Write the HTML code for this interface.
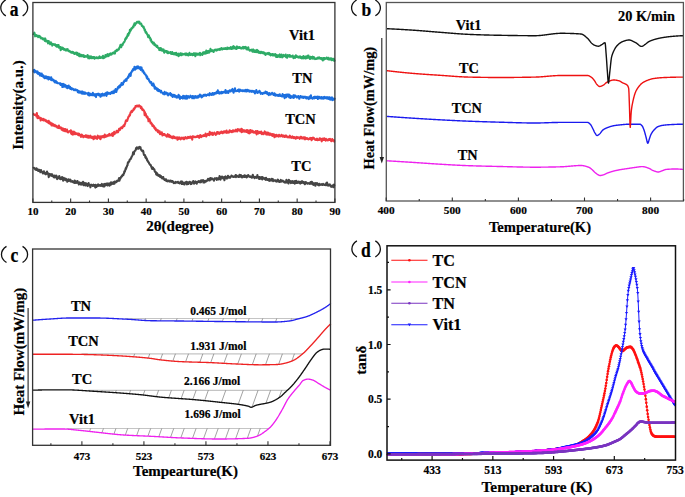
<!DOCTYPE html><html><head><meta charset="utf-8"><style>html,body{margin:0;padding:0;background:#fff;}svg{display:block}text{font-family:"Liberation Serif",serif;font-weight:bold;stroke:#000;stroke-width:0.2px}</style></head><body>
<svg width="685" height="497" viewBox="0 0 685 497">
<rect width="685" height="497" fill="#fff"/>
<g>
<polyline points="33,33.6 33.35,34.02 33.7,33.83 34.05,33.61 34.4,32.65 34.75,33.95 35.1,36.33 35.45,36 35.8,34.92 36.15,35.04 36.5,36.02 36.85,36.13 37.2,36.16 37.55,35.63 37.9,36.46 38.25,37.17 38.6,35.94 38.95,36.76 39.3,35.95 39.65,36.57 40,36.38 40.35,37.7 40.7,37.17 41.05,38.44 41.4,38.55 41.75,38.5 42.1,38.12 42.45,38.63 42.8,39.16 43.15,39.46 43.5,38.49 43.85,39.41 44.2,39.24 44.55,39.54 44.9,41.03 45.25,38.43 45.6,40.63 45.95,41.44 46.3,40.59 46.65,41.1 47,41.43 47.35,41.57 47.7,40.83 48.05,43.46 48.4,42.98 48.75,41.12 49.1,42.97 49.45,42.62 49.8,42.25 50.15,44.27 50.5,43.57 50.85,42.36 51.2,43.41 51.55,43.93 51.9,43.55 52.25,45.62 52.6,43.96 52.95,44.63 53.3,44.25 53.65,44.01 54,44.78 54.35,44.47 54.7,45.04 55.05,44.28 55.4,44.86 55.75,45.28 56.1,46.2 56.45,46.53 56.8,44.95 57.15,45.48 57.5,46.64 57.85,44.94 58.2,46.17 58.55,45.05 58.9,47.67 59.25,47.42 59.6,46.86 59.95,46.98 60.3,47.22 60.65,50.16 61,47.39 61.35,47.63 61.7,49.31 62.05,48.05 62.4,49.02 62.75,47.65 63.1,48.58 63.45,48.43 63.8,49.71 64.15,49.5 64.5,49.18 64.85,49.82 65.2,49.27 65.55,50.4 65.9,49.81 66.25,50.38 66.6,49.22 66.95,50.52 67.3,49.25 67.65,49.17 68,50.53 68.35,50.27 68.7,51.17 69.05,51.28 69.4,50.77 69.75,51.07 70.1,51.8 70.45,52.15 70.8,51.83 71.15,51.95 71.5,52.73 71.85,52.75 72.2,51.8 72.55,52.61 72.9,52.83 73.25,52.2 73.6,53.25 73.95,52.6 74.3,54.01 74.65,53.59 75,53.64 75.35,53.29 75.7,53.73 76.05,52.53 76.4,53.25 76.75,54.41 77.1,52.77 77.45,54.96 77.8,53.24 78.15,55.09 78.5,54.06 78.85,55.29 79.2,56.26 79.55,53.86 79.9,55.91 80.25,56.14 80.6,55.18 80.95,55.13 81.3,55.31 81.65,54.83 82,56.38 82.35,55.33 82.7,55.77 83.05,55.34 83.4,55.55 83.75,55.19 84.1,57.06 84.45,56.16 84.8,57.03 85.15,56.45 85.5,56.04 85.85,56.39 86.2,56.31 86.55,56.78 86.9,56.6 87.25,56.73 87.6,55.06 87.95,56.52 88.3,58.31 88.65,58 89,56.54 89.35,57.58 89.7,58.38 90.05,56.43 90.4,57.36 90.75,57.11 91.1,56.36 91.45,58.15 91.8,57.65 92.15,57.75 92.5,57.2 92.85,58.07 93.2,57.39 93.55,57.69 93.9,57.02 94.25,56.95 94.6,58.73 94.95,57.44 95.3,57.99 95.65,57.75 96,57.45 96.35,57.38 96.7,58.16 97.05,57.48 97.4,57.55 97.75,57.64 98.1,58.41 98.45,58.02 98.8,57.77 99.15,57.06 99.5,56.44 99.85,58.01 100.2,57.97 100.55,57.14 100.9,57.55 101.25,57.65 101.6,57.62 101.95,57.61 102.3,56.58 102.65,57.88 103,55.87 103.35,58.31 103.7,56.92 104.05,57.1 104.4,57.72 104.75,57.35 105.1,56.96 105.45,54.95 105.8,56.61 106.15,55.23 106.5,55.83 106.85,56.33 107.2,54.48 107.55,54.05 107.9,55.61 108.25,55.35 108.6,56.11 108.95,55.13 109.3,54.39 109.65,53.82 110,54.65 110.35,53.97 110.7,53.38 111.05,54.76 111.4,54.22 111.75,54.39 112.1,53.24 112.45,53.29 112.8,52.86 113.15,52.74 113.5,53.28 113.85,52.37 114.2,52.93 114.55,52.68 114.9,53.6 115.25,50.95 115.6,51.31 115.95,51.3 116.3,51.07 116.65,49.76 117,50.15 117.35,50.68 117.7,49.79 118.05,49.57 118.4,48.98 118.75,49.66 119.1,48.49 119.45,47.45 119.8,47.32 120.15,46.07 120.5,44.8 120.85,46.31 121.2,47.18 121.55,45.81 121.9,44.47 122.25,45.19 122.6,45.03 122.95,43.8 123.3,43.15 123.65,42.49 124,41.95 124.35,41.87 124.7,41.07 125.05,40.2 125.4,38.69 125.75,39.14 126.1,37.66 126.45,38.27 126.8,37.57 127.15,36.14 127.5,35.61 127.85,34.08 128.2,35.62 128.55,34.85 128.9,32.93 129.25,33.24 129.6,32.39 129.95,29.71 130.3,31.13 130.65,30.31 131,29.81 131.35,28.41 131.7,28.39 132.05,27.87 132.4,28.27 132.75,27.13 133.1,26.37 133.45,26.95 133.8,25.03 134.15,24.72 134.5,23.33 134.85,25.32 135.2,24.5 135.55,24.07 135.9,23.51 136.25,22.75 136.6,22.49 136.95,21.88 137.3,21.69 137.65,21.71 138,22.66 138.35,22.01 138.7,21.7 139.05,21.54 139.4,21.78 139.75,23.68 140.1,23.31 140.45,23.44 140.8,23.62 141.15,23.58 141.5,24.81 141.85,25.98 142.2,25.58 142.55,26.18 142.9,26.65 143.25,27.4 143.6,26.76 143.95,28.29 144.3,28.47 144.65,30.31 145,29.78 145.35,31.36 145.7,32.66 146.05,32 146.4,32.42 146.75,33.57 147.1,34 147.45,34.83 147.8,35.43 148.15,37.08 148.5,36.04 148.85,35.47 149.2,36.59 149.55,38.09 149.9,37.53 150.25,38.16 150.6,40.34 150.95,39.32 151.3,41.19 151.65,41.98 152,41.55 152.35,42.19 152.7,43.58 153.05,42.49 153.4,42.62 153.75,42.49 154.1,43.86 154.45,45.26 154.8,45.29 155.15,44.34 155.5,44.77 155.85,45.38 156.2,46.3 156.55,46.29 156.9,46.92 157.25,45.72 157.6,47.2 157.95,47.67 158.3,48.13 158.65,48.19 159,48.04 159.35,50.04 159.7,49.36 160.05,50.22 160.4,48.15 160.75,49.79 161.1,48.34 161.45,48.9 161.8,49.2 162.15,50.73 162.5,50.29 162.85,49.36 163.2,50.45 163.55,49.51 163.9,51.46 164.25,52.73 164.6,51.44 164.95,50.88 165.3,50.73 165.65,51.64 166,51.67 166.35,51.1 166.7,52.1 167.05,51.32 167.4,53 167.75,51.52 168.1,53.17 168.45,52.16 168.8,52.94 169.15,52.56 169.5,52.46 169.85,52.58 170.2,51.98 170.55,51.96 170.9,53.6 171.25,52.99 171.6,53.35 171.95,53.97 172.3,52.13 172.65,52.87 173,53.61 173.35,53.83 173.7,53.36 174.05,54.42 174.4,53.91 174.75,52.97 175.1,53.23 175.45,54.51 175.8,54.33 176.15,52.73 176.5,55.05 176.85,54.58 177.2,55.14 177.55,53.98 177.9,54.08 178.25,53.54 178.6,56.14 178.95,54.27 179.3,55.53 179.65,53.99 180,54.58 180.35,53.31 180.7,54.22 181.05,55.18 181.4,53.62 181.75,55.25 182.1,54.74 182.45,53.77 182.8,54.15 183.15,54.18 183.5,54.47 183.85,54.12 184.2,53.92 184.55,54.29 184.9,53.78 185.25,53.6 185.6,54.47 185.95,55.12 186.3,53.43 186.65,54.5 187,54.05 187.35,53.82 187.7,55.1 188.05,54.14 188.4,55.55 188.75,53.95 189.1,54.77 189.45,52.87 189.8,53.97 190.15,54.91 190.5,54.39 190.85,54.92 191.2,54.47 191.55,53.74 191.9,54.43 192.25,54.54 192.6,55.17 192.95,53.87 193.3,54.47 193.65,53.29 194,54.96 194.35,53.74 194.7,53.24 195.05,54.46 195.4,56.18 195.75,53.42 196.1,53.71 196.45,53.94 196.8,53.64 197.15,54.67 197.5,53.81 197.85,53.83 198.2,54.7 198.55,53.72 198.9,54.5 199.25,53.47 199.6,53.24 199.95,52.75 200.3,55.27 200.65,53.68 201,54 201.35,53.74 201.7,53.8 202.05,53.65 202.4,54.87 202.75,52.72 203.1,52.28 203.45,52.57 203.8,52.26 204.15,53.63 204.5,53.59 204.85,52.25 205.2,51.86 205.55,52.49 205.9,53.62 206.25,50.57 206.6,52.82 206.95,51.6 207.3,52.99 207.65,51.41 208,51.87 208.35,50.92 208.7,51.19 209.05,52.75 209.4,52.26 209.75,51.31 210.1,50.89 210.45,48.81 210.8,51.04 211.15,51.21 211.5,51.08 211.85,50.99 212.2,50.19 212.55,50.84 212.9,50.78 213.25,51.64 213.6,51.97 213.95,50.49 214.3,49.98 214.65,50.41 215,49.97 215.35,49.81 215.7,50.23 216.05,49.49 216.4,50.6 216.75,50.05 217.1,50.25 217.45,49.89 217.8,49.46 218.15,49.26 218.5,49.7 218.85,49.43 219.2,49.93 219.55,49.71 219.9,48.71 220.25,49.66 220.6,48.62 220.95,49.07 221.3,49.25 221.65,47.95 222,49.42 222.35,49.41 222.7,49.14 223.05,48.9 223.4,48.89 223.75,48.41 224.1,48.86 224.45,48.61 224.8,49.01 225.15,48.06 225.5,49.01 225.85,48.9 226.2,48.66 226.55,48.4 226.9,49.05 227.25,47.45 227.6,48.89 227.95,48.7 228.3,48.68 228.65,48.71 229,47.94 229.35,48.18 229.7,48.76 230.05,48.58 230.4,48.39 230.75,47.14 231.1,48.54 231.45,48.95 231.8,48.81 232.15,48.23 232.5,46.94 232.85,48.66 233.2,47.87 233.55,46.17 233.9,48.18 234.25,46.85 234.6,46.96 234.95,47.4 235.3,48.72 235.65,47.55 236,47.98 236.35,49 236.7,48.87 237.05,46.43 237.4,47.56 237.75,46.84 238.1,47.23 238.45,48.01 238.8,47.98 239.15,47.78 239.5,47.04 239.85,47.16 240.2,47.67 240.55,48.24 240.9,48.15 241.25,48.52 241.6,48.08 241.95,47.62 242.3,48.13 242.65,47.22 243,46.82 243.35,48.43 243.7,48.04 244.05,48.36 244.4,47.02 244.75,48.02 245.1,47.93 245.45,47.82 245.8,46.92 246.15,48.35 246.5,49.3 246.85,49.02 247.2,48.42 247.55,48.92 247.9,49.56 248.25,47.19 248.6,49.13 248.95,49.7 249.3,49.89 249.65,50.7 250,50.41 250.35,49.94 250.7,50.03 251.05,50.47 251.4,49.65 251.75,50.1 252.1,50.87 252.45,51.71 252.8,50.33 253.15,49.46 253.5,50.78 253.85,51.68 254.2,50.82 254.55,51.97 254.9,50.36 255.25,51 255.6,51.08 255.95,51.86 256.3,52.13 256.65,50.43 257,49.83 257.35,51.89 257.7,51.27 258.05,50.74 258.4,52.61 258.75,52.3 259.1,52.36 259.45,51.76 259.8,52.88 260.15,52.06 260.5,53.07 260.85,51.74 261.2,51.85 261.55,52.66 261.9,52.1 262.25,53.14 262.6,52.92 262.95,52.16 263.3,52.93 263.65,52.71 264,53.67 264.35,52.65 264.7,52.86 265.05,54.09 265.4,54.88 265.75,54.79 266.1,53.5 266.45,53.68 266.8,53.68 267.15,53.58 267.5,53.06 267.85,53.89 268.2,54.2 268.55,53.37 268.9,52.86 269.25,53.08 269.6,54.62 269.95,53.69 270.3,54.19 270.65,55.53 271,54.85 271.35,54.24 271.7,54.89 272.05,53.98 272.4,54.41 272.75,54.01 273.1,55.58 273.45,54.83 273.8,54.39 274.15,54.71 274.5,54.86 274.85,55.56 275.2,54.01 275.55,54.45 275.9,54.96 276.25,57.05 276.6,56 276.95,55.3 277.3,55.92 277.65,56.91 278,55.35 278.35,55.29 278.7,56.44 279.05,55.98 279.4,56.14 279.75,54.41 280.1,57.09 280.45,56.97 280.8,56.2 281.15,56.32 281.5,54.46 281.85,56.35 282.2,57.33 282.55,56.27 282.9,56.48 283.25,55.79 283.6,54.87 283.95,56.34 284.3,55.59 284.65,55.91 285,55.74 285.35,55.96 285.7,54.6 286.05,57.1 286.4,56.45 286.75,57.08 287.1,57.71 287.45,56.36 287.8,55.11 288.15,55.77 288.5,55.57 288.85,56.09 289.2,56.52 289.55,55.09 289.9,56.75 290.25,55.47 290.6,56.76 290.95,56.5 291.3,56.38 291.65,56.57 292,56.26 292.35,56.23 292.7,55.51 293.05,56.68 293.4,58.02 293.75,58.13 294.1,57.69 294.45,57.28 294.8,56.34 295.15,57.84 295.5,56.82 295.85,55.32 296.2,56.69 296.55,56.98 296.9,56.64 297.25,56.9 297.6,56.23 297.95,56.75 298.3,57.54 298.65,57 299,56.91 299.35,57.47 299.7,57.62 300.05,56.37 300.4,57.03 300.75,57.84 301.1,57.41 301.45,57.33 301.8,58.36 302.15,56.82 302.5,57.38 302.85,56.98 303.2,58.42 303.55,56.03 303.9,56.96 304.25,57.08 304.6,57.94 304.95,57.93 305.3,58.51 305.65,56.46 306,58.11 306.35,57.4 306.7,57.17 307.05,58.04 307.4,55.69 307.75,56.26 308.1,57.48 308.45,55.53 308.8,57.34 309.15,58.08 309.5,58.07 309.85,58.99 310.2,58.79 310.55,56.86 310.9,57.43 311.25,57.34 311.6,57.15 311.95,58.34 312.3,57.61 312.65,56.7 313,58.6 313.35,58.06 313.7,58.41 314.05,57.18 314.4,58.65 314.75,58.26 315.1,59.13 315.45,58.58 315.8,58.59 316.15,58.62 316.5,58.91 316.85,58.27 317.2,58.22 317.55,58.57 317.9,57.5 318.25,58.55 318.6,58.57 318.95,57.67 319.3,57.35 319.65,58.37 320,58.52 320.35,58.1 320.7,58.69 321.05,58.2 321.4,59.05 321.75,58.18 322.1,58.68 322.45,59.41 322.8,60.54 323.15,58.06 323.5,58.46 323.85,58.21 324.2,59.37 324.55,58.03 324.9,58.51 325.25,58.85 325.6,58.2 325.95,58.24 326.3,58.59 326.65,57.47 327,57.95 327.35,58.69 327.7,59.1 328.05,58.88 328.4,57.78 328.75,58.72 329.1,59.62 329.45,59.46 329.8,59.03 330.15,58.48 330.5,59.56 330.85,58.73 331.2,58.33 331.55,58.6 331.9,60.19 332.25,59.35 332.6,60.02 332.95,58.89 333.3,59.89 333.65,58.83 334,59.15 334.35,61.02 334.7,59.83" fill="none" stroke="#2eab66" stroke-width="2.1" stroke-linejoin="round"/>
<polyline points="33,70.32 33.35,70.22 33.7,71.71 34.05,70.5 34.4,69.91 34.75,72.32 35.1,71.27 35.45,71.75 35.8,71.16 36.15,71.39 36.5,71.69 36.85,72.42 37.2,73.11 37.55,71.42 37.9,73.73 38.25,72.55 38.6,72.81 38.95,74.2 39.3,73.85 39.65,73 40,75.54 40.35,73.82 40.7,74.77 41.05,74.91 41.4,75.93 41.75,73.56 42.1,75.99 42.45,74.93 42.8,76.41 43.15,75.26 43.5,75.71 43.85,77.46 44.2,76.52 44.55,76.54 44.9,78.2 45.25,77.05 45.6,76.39 45.95,77.64 46.3,76.47 46.65,78.25 47,78.47 47.35,77.39 47.7,77.51 48.05,76.95 48.4,79.41 48.75,77.75 49.1,79 49.45,77.33 49.8,78.62 50.15,78.8 50.5,79.05 50.85,79.62 51.2,77.21 51.55,80.13 51.9,79.76 52.25,79.58 52.6,79.24 52.95,79.53 53.3,80.77 53.65,80 54,80.87 54.35,81.73 54.7,81.86 55.05,82.39 55.4,81.24 55.75,80.85 56.1,82.47 56.45,82.13 56.8,82.86 57.15,82.23 57.5,83.21 57.85,83.12 58.2,83.18 58.55,83.19 58.9,83.26 59.25,83.3 59.6,83.45 59.95,84.13 60.3,83.23 60.65,84.95 61,83.81 61.35,84.73 61.7,84.12 62.05,84.16 62.4,87.02 62.75,84.42 63.1,83.89 63.45,84.44 63.8,84.86 64.15,86.75 64.5,84.49 64.85,86.2 65.2,84.99 65.55,86.1 65.9,86.47 66.25,87.42 66.6,85.82 66.95,86.88 67.3,88.24 67.65,86.05 68,86.91 68.35,86.89 68.7,85.59 69.05,87.79 69.4,87.9 69.75,87.37 70.1,86.88 70.45,89.01 70.8,88.3 71.15,88.97 71.5,89.39 71.85,88.19 72.2,89.26 72.55,88.67 72.9,88.93 73.25,89.05 73.6,89.25 73.95,90.16 74.3,89.6 74.65,89.54 75,89.59 75.35,90.15 75.7,89.41 76.05,89.81 76.4,90.24 76.75,90 77.1,90.43 77.45,90.2 77.8,92.15 78.15,91.78 78.5,91.28 78.85,91.03 79.2,92.72 79.55,91.52 79.9,91.35 80.25,91.74 80.6,91.86 80.95,92.75 81.3,91.86 81.65,93.46 82,91.49 82.35,92.72 82.7,91.65 83.05,93.74 83.4,92.35 83.75,92.66 84.1,93.46 84.45,93.81 84.8,92.26 85.15,92.91 85.5,93.76 85.85,93.46 86.2,93.4 86.55,93.33 86.9,93.2 87.25,93.51 87.6,93.35 87.95,94.34 88.3,95.12 88.65,92.79 89,94.14 89.35,95.51 89.7,94.72 90.05,93.78 90.4,94.41 90.75,93.85 91.1,95.12 91.45,94.75 91.8,94.62 92.15,95.03 92.5,94.63 92.85,92.81 93.2,95.28 93.55,95.08 93.9,94.79 94.25,94.63 94.6,95.75 94.95,94.13 95.3,94.35 95.65,95.97 96,97.05 96.35,94.36 96.7,94.04 97.05,94.41 97.4,94.49 97.75,93.72 98.1,94.83 98.45,93.89 98.8,93.92 99.15,95.39 99.5,94.25 99.85,94.65 100.2,95.12 100.55,96.79 100.9,94.39 101.25,94.62 101.6,93.98 101.95,95.75 102.3,94.95 102.65,93.68 103,94.42 103.35,94.88 103.7,94.68 104.05,95.58 104.4,95.22 104.75,93.83 105.1,94.1 105.45,93.22 105.8,94.25 106.15,92.83 106.5,95.86 106.85,93.99 107.2,92.4 107.55,93.34 107.9,93.83 108.25,92.82 108.6,93.03 108.95,93.32 109.3,93.76 109.65,93.34 110,92.77 110.35,93.88 110.7,92.88 111.05,92.82 111.4,92.09 111.75,92.37 112.1,93.22 112.45,91.46 112.8,92.35 113.15,92.69 113.5,91.7 113.85,93.19 114.2,90.68 114.55,92.11 114.9,91.69 115.25,90.79 115.6,89.1 115.95,90.35 116.3,91.98 116.65,90.58 117,89.26 117.35,89.59 117.7,87.96 118.05,86.97 118.4,87.71 118.75,87.67 119.1,85.97 119.45,87.36 119.8,87.3 120.15,85.24 120.5,84.77 120.85,85.62 121.2,84.57 121.55,83 121.9,84.85 122.25,84.01 122.6,83.17 122.95,84.58 123.3,82.78 123.65,81.74 124,81.92 124.35,80.69 124.7,80.45 125.05,80.81 125.4,80.96 125.75,79.35 126.1,80.39 126.45,80.72 126.8,78.89 127.15,78.26 127.5,77.79 127.85,78.03 128.2,76.56 128.55,77.44 128.9,75.05 129.25,75.12 129.6,73.88 129.95,74.15 130.3,74.27 130.65,75.89 131,72.48 131.35,72.47 131.7,71.73 132.05,71 132.4,70.23 132.75,70.67 133.1,69.01 133.45,69.91 133.8,69.5 134.15,68.71 134.5,66.74 134.85,67.68 135.2,69.7 135.55,67.19 135.9,68.98 136.25,68.08 136.6,67.2 136.95,66.47 137.3,67.87 137.65,68.26 138,66.35 138.35,66.81 138.7,67.82 139.05,67.45 139.4,68.78 139.75,67.2 140.1,68.23 140.45,67.25 140.8,69.9 141.15,68.25 141.5,67.56 141.85,69.36 142.2,69.7 142.55,71.49 142.9,70.28 143.25,70.95 143.6,71.87 143.95,73.1 144.3,72.53 144.65,73.91 145,74.17 145.35,74.23 145.7,75.13 146.05,75.71 146.4,75.65 146.75,77.72 147.1,76.43 147.45,78.73 147.8,79.09 148.15,78.86 148.5,78.89 148.85,79.77 149.2,80.75 149.55,81.43 149.9,81.59 150.25,82.55 150.6,81.93 150.95,82.93 151.3,82.11 151.65,84.16 152,85.25 152.35,84.14 152.7,85.62 153.05,85.66 153.4,83.57 153.75,85.94 154.1,85.25 154.45,87.37 154.8,88.72 155.15,86.96 155.5,88.73 155.85,87.81 156.2,88.56 156.55,89.07 156.9,89.83 157.25,88.53 157.6,90.61 157.95,89.13 158.3,90.23 158.65,91.1 159,91.02 159.35,90.08 159.7,90.45 160.05,90.81 160.4,91.29 160.75,92.31 161.1,90.78 161.45,92.18 161.8,92.45 162.15,92.58 162.5,92.67 162.85,93.56 163.2,92.99 163.55,93.4 163.9,93.33 164.25,94.33 164.6,91.88 164.95,94.24 165.3,93.29 165.65,93.4 166,93.03 166.35,92.52 166.7,93.68 167.05,93.57 167.4,94.51 167.75,93.24 168.1,95.38 168.45,94.66 168.8,94.4 169.15,94.17 169.5,94.22 169.85,94.08 170.2,93 170.55,95.07 170.9,95.04 171.25,95.52 171.6,94.16 171.95,94.84 172.3,95.68 172.65,96.97 173,96.2 173.35,95.64 173.7,94.81 174.05,95.05 174.4,94.95 174.75,96.73 175.1,95.77 175.45,95.53 175.8,96.04 176.15,96.62 176.5,97.61 176.85,96.22 177.2,96.53 177.55,96.26 177.9,97.5 178.25,96.22 178.6,94.76 178.95,96.07 179.3,96.09 179.65,97.44 180,98.94 180.35,96.47 180.7,97.85 181.05,97.37 181.4,97.91 181.75,97.01 182.1,97.04 182.45,96.71 182.8,98.55 183.15,95.86 183.5,97.46 183.85,97.42 184.2,98.03 184.55,96.17 184.9,97.78 185.25,98.6 185.6,97.45 185.95,97.63 186.3,95.71 186.65,98.16 187,98.71 187.35,97.8 187.7,97.81 188.05,96.1 188.4,96.99 188.75,96.5 189.1,96.64 189.45,97.72 189.8,96.46 190.15,96.92 190.5,95.66 190.85,96.87 191.2,97.03 191.55,96.46 191.9,96.44 192.25,98.25 192.6,96.06 192.95,96.16 193.3,96.31 193.65,97.7 194,98.32 194.35,97.06 194.7,96.31 195.05,96.5 195.4,97.52 195.75,96.12 196.1,97.75 196.45,97.7 196.8,96.72 197.15,97.09 197.5,97.13 197.85,97.65 198.2,95.79 198.55,97.31 198.9,96.17 199.25,95.85 199.6,96.41 199.95,94.55 200.3,95.54 200.65,95.06 201,95.46 201.35,97.08 201.7,97.37 202.05,96.39 202.4,96.7 202.75,95.45 203.1,95.69 203.45,95.87 203.8,94.85 204.15,94.84 204.5,95.53 204.85,95.17 205.2,94.58 205.55,95.52 205.9,94.99 206.25,95.82 206.6,95.03 206.95,94.74 207.3,94.97 207.65,94.69 208,94.26 208.35,94.38 208.7,95.11 209.05,94.96 209.4,95.34 209.75,93.18 210.1,94.02 210.45,93.93 210.8,94.27 211.15,93.76 211.5,94.91 211.85,94.49 212.2,94 212.55,92.99 212.9,94.67 213.25,94.37 213.6,94.64 213.95,94.13 214.3,92.98 214.65,94.22 215,93.23 215.35,92.76 215.7,93.01 216.05,92.68 216.4,93.31 216.75,91.74 217.1,93.1 217.45,92.63 217.8,90.41 218.15,92.99 218.5,91.54 218.85,92.99 219.2,93.55 219.55,92.9 219.9,92.38 220.25,92.48 220.6,92.45 220.95,93.51 221.3,92.03 221.65,91.74 222,93.16 222.35,92.26 222.7,92.89 223.05,91.99 223.4,92.16 223.75,91.94 224.1,92.33 224.45,92.53 224.8,92.06 225.15,91.37 225.5,90.05 225.85,92.9 226.2,91.49 226.55,91.43 226.9,92.61 227.25,92.29 227.6,91.86 227.95,91.15 228.3,93.03 228.65,91.61 229,91.67 229.35,91.13 229.7,90.21 230.05,90.22 230.4,91.4 230.75,91.35 231.1,90.86 231.45,90.17 231.8,89.95 232.15,90.69 232.5,88.92 232.85,90.12 233.2,91.62 233.55,92.76 233.9,91.37 234.25,90.31 234.6,90.09 234.95,88.25 235.3,90.23 235.65,90.5 236,91.28 236.35,91.01 236.7,90.98 237.05,90.7 237.4,91 237.75,90.07 238.1,89.77 238.45,90.19 238.8,89.53 239.15,91.63 239.5,91.41 239.85,91.03 240.2,89.67 240.55,90.63 240.9,90.35 241.25,90.58 241.6,90.4 241.95,90.91 242.3,90.28 242.65,91.17 243,90.76 243.35,90.41 243.7,90.55 244.05,90.35 244.4,91.25 244.75,90.51 245.1,90.93 245.45,90.48 245.8,89.74 246.15,91.45 246.5,90.1 246.85,91.35 247.2,91.2 247.55,89.78 247.9,90.31 248.25,90.65 248.6,90.47 248.95,90.25 249.3,91.64 249.65,90.99 250,91.47 250.35,90.93 250.7,91.49 251.05,90.79 251.4,91.34 251.75,91.81 252.1,91.47 252.45,91.16 252.8,90.76 253.15,91.68 253.5,91.85 253.85,91.47 254.2,91.16 254.55,92.12 254.9,93.52 255.25,91.61 255.6,92.1 255.95,92.17 256.3,90.15 256.65,92.07 257,91.53 257.35,93.04 257.7,91.93 258.05,91.61 258.4,92.04 258.75,92.34 259.1,91.88 259.45,90.7 259.8,91.4 260.15,92.24 260.5,92.98 260.85,93.87 261.2,93.03 261.55,92.77 261.9,93.46 262.25,93.39 262.6,93.9 262.95,93.54 263.3,92.75 263.65,93.07 264,93.07 264.35,93.21 264.7,93.19 265.05,92.56 265.4,91.69 265.75,92.75 266.1,91.86 266.45,93.38 266.8,93.39 267.15,92.27 267.5,93.98 267.85,94.17 268.2,93.69 268.55,94.84 268.9,95.04 269.25,92.95 269.6,94.58 269.95,94.22 270.3,94.26 270.65,94.68 271,93.58 271.35,93.72 271.7,93.62 272.05,92.8 272.4,93.35 272.75,93.35 273.1,93.68 273.45,94.88 273.8,94.48 274.15,94.85 274.5,93.31 274.85,94.13 275.2,95.65 275.55,94.81 275.9,94.42 276.25,95.53 276.6,94.89 276.95,94.99 277.3,95.03 277.65,95.56 278,94.78 278.35,95.94 278.7,95.51 279.05,95.34 279.4,95.3 279.75,94.21 280.1,96.05 280.45,96.04 280.8,95.68 281.15,96.06 281.5,95.57 281.85,96.4 282.2,95.53 282.55,94.14 282.9,96.56 283.25,95.73 283.6,94.87 283.95,95.58 284.3,95.14 284.65,98.12 285,96.17 285.35,94.76 285.7,96.27 286.05,95.64 286.4,97.29 286.75,95.24 287.1,94.44 287.45,96.09 287.8,95.83 288.15,95.81 288.5,94.63 288.85,96.46 289.2,97.36 289.55,94.88 289.9,97.07 290.25,95.88 290.6,97.95 290.95,96.64 291.3,96.23 291.65,97.16 292,96.78 292.35,97.32 292.7,96.97 293.05,96.14 293.4,95.27 293.75,97.97 294.1,95.31 294.45,96.17 294.8,96.86 295.15,95.55 295.5,95.72 295.85,96.34 296.2,96.35 296.55,96.79 296.9,97.55 297.25,96.46 297.6,97.15 297.95,97.25 298.3,96.09 298.65,97.03 299,97.84 299.35,98.75 299.7,97.26 300.05,96.97 300.4,96.04 300.75,97.08 301.1,96.48 301.45,97.53 301.8,96.97 302.15,96.5 302.5,97.74 302.85,97.61 303.2,96.71 303.55,97.96 303.9,96.95 304.25,96.96 304.6,97.28 304.95,96.68 305.3,96.92 305.65,97.13 306,98.33 306.35,98.32 306.7,97.11 307.05,98.43 307.4,97.29 307.75,97.6 308.1,97.97 308.45,97.57 308.8,99.07 309.15,97.56 309.5,96.57 309.85,98.33 310.2,96.28 310.55,97.23 310.9,95.37 311.25,98.17 311.6,98.06 311.95,98.06 312.3,98.2 312.65,98.71 313,97.51 313.35,98.21 313.7,97.05 314.05,97.33 314.4,98.33 314.75,97.88 315.1,96.69 315.45,97.89 315.8,97.52 316.15,97.09 316.5,97.98 316.85,97.41 317.2,96.6 317.55,96.94 317.9,98.97 318.25,96.68 318.6,97.91 318.95,98.2 319.3,98.23 319.65,96.94 320,97.59 320.35,97.93 320.7,98.4 321.05,97.41 321.4,97.06 321.75,97.16 322.1,98.68 322.45,98.18 322.8,97.51 323.15,97.2 323.5,98.04 323.85,98.57 324.2,97.12 324.55,96.96 324.9,97.92 325.25,97.27 325.6,98.21 325.95,98.1 326.3,97.81 326.65,98.39 327,97.13 327.35,98.1 327.7,98.46 328.05,98.37 328.4,98.94 328.75,97.37 329.1,97.17 329.45,98.41 329.8,98.57 330.15,99.76 330.5,98.72 330.85,97.69 331.2,98.88 331.55,97.75 331.9,97.31 332.25,100.2 332.6,98.61 332.95,98.9 333.3,98.81 333.65,99.7 334,98.65 334.35,99.32 334.7,97.77" fill="none" stroke="#1c6fdf" stroke-width="2.1" stroke-linejoin="round"/>
<polyline points="33,113.59 33.35,113.68 33.7,114.13 34.05,114.74 34.4,114.81 34.75,115.05 35.1,115.04 35.45,114.61 35.8,115.18 36.15,114.92 36.5,116.5 36.85,113.06 37.2,116.08 37.55,118.11 37.9,116.41 38.25,116.07 38.6,117.06 38.95,118.19 39.3,117.38 39.65,118.13 40,117.97 40.35,117.85 40.7,120.52 41.05,118.56 41.4,118.34 41.75,118.57 42.1,119.38 42.45,119.6 42.8,120.05 43.15,119.8 43.5,118.89 43.85,120.46 44.2,120.06 44.55,120.27 44.9,119.62 45.25,120.44 45.6,120.52 45.95,121.19 46.3,120.38 46.65,121.62 47,121.85 47.35,121.16 47.7,121.69 48.05,121.71 48.4,123.12 48.75,120.89 49.1,122.6 49.45,121.86 49.8,122.9 50.15,123.97 50.5,124.16 50.85,122.86 51.2,123.31 51.55,125.43 51.9,124.88 52.25,125.2 52.6,123.66 52.95,123.99 53.3,125.68 53.65,124.96 54,125.08 54.35,125.66 54.7,124.71 55.05,126.3 55.4,125.93 55.75,126.42 56.1,125.77 56.45,126.76 56.8,126.07 57.15,127.38 57.5,127.66 57.85,127.67 58.2,127.54 58.55,127.78 58.9,125.59 59.25,128.22 59.6,127.59 59.95,128 60.3,127.88 60.65,127.25 61,127.99 61.35,128.97 61.7,129.64 62.05,128.35 62.4,128.29 62.75,130.07 63.1,128.58 63.45,130.78 63.8,130.41 64.15,128.98 64.5,130.42 64.85,131.05 65.2,128.99 65.55,131.21 65.9,130.06 66.25,131.42 66.6,130.25 66.95,129.54 67.3,131.12 67.65,131.54 68,132.49 68.35,132.35 68.7,131.76 69.05,131.23 69.4,131.15 69.75,131.43 70.1,131.17 70.45,131.68 70.8,130.21 71.15,133.54 71.5,130.96 71.85,134.14 72.2,132.99 72.55,132.23 72.9,134.6 73.25,131.93 73.6,132.48 73.95,131.7 74.3,134.12 74.65,133.64 75,132.51 75.35,133.39 75.7,134.2 76.05,133.98 76.4,134 76.75,133.23 77.1,133.48 77.45,134.09 77.8,134.76 78.15,133.63 78.5,133.51 78.85,135.19 79.2,133.82 79.55,134.4 79.9,134.83 80.25,135.37 80.6,136.06 80.95,136.86 81.3,135.58 81.65,134.49 82,134.74 82.35,135.77 82.7,136.49 83.05,136.49 83.4,137.23 83.75,135.92 84.1,135.94 84.45,136.6 84.8,136 85.15,136.04 85.5,135.44 85.85,136.96 86.2,135.6 86.55,136.8 86.9,135.53 87.25,137.38 87.6,135.97 87.95,137.36 88.3,135.74 88.65,136.62 89,137.82 89.35,136.5 89.7,137.18 90.05,136.86 90.4,135.64 90.75,137.53 91.1,137.68 91.45,136.65 91.8,137.87 92.15,136.96 92.5,136.85 92.85,137.59 93.2,137.14 93.55,139.25 93.9,136.58 94.25,138.2 94.6,138.38 94.95,136.31 95.3,136.49 95.65,138.09 96,137.35 96.35,137.95 96.7,138.46 97.05,138.94 97.4,136.87 97.75,135.68 98.1,137.7 98.45,136.88 98.8,137.71 99.15,137.61 99.5,136.43 99.85,138.56 100.2,138.06 100.55,139.24 100.9,136.36 101.25,137.73 101.6,136.68 101.95,136.71 102.3,136.14 102.65,137.16 103,136.94 103.35,136.04 103.7,136.27 104.05,137.45 104.4,136.59 104.75,134.46 105.1,135.84 105.45,136.15 105.8,136.78 106.15,135.8 106.5,135.74 106.85,135.35 107.2,136.18 107.55,135.3 107.9,135.09 108.25,134.89 108.6,135.7 108.95,134.83 109.3,133.92 109.65,135.42 110,134.38 110.35,135.02 110.7,134.92 111.05,135.39 111.4,135.16 111.75,133.92 112.1,134.08 112.45,133.16 112.8,135.97 113.15,134.09 113.5,134.6 113.85,133.24 114.2,131.86 114.55,134.19 114.9,133 115.25,132.83 115.6,132.58 115.95,132.78 116.3,132.49 116.65,130.78 117,132.42 117.35,131.05 117.7,130.85 118.05,132.14 118.4,131.31 118.75,130.16 119.1,128.83 119.45,129.96 119.8,129.93 120.15,129.2 120.5,128.09 120.85,128.1 121.2,127.46 121.55,128.16 121.9,128.26 122.25,128.06 122.6,126.48 122.95,126.76 123.3,126.54 123.65,125.31 124,125.05 124.35,126.08 124.7,124.16 125.05,124.03 125.4,122.48 125.75,121.1 126.1,120.29 126.45,120.82 126.8,121.01 127.15,120.99 127.5,119.71 127.85,118.72 128.2,117.66 128.55,116.61 128.9,116.35 129.25,116.33 129.6,114.79 129.95,115.42 130.3,113.5 130.65,112.36 131,112.31 131.35,111.28 131.7,110.91 132.05,112.11 132.4,110.64 132.75,110.41 133.1,110.58 133.45,110.18 133.8,108.51 134.15,109.39 134.5,108.37 134.85,107.75 135.2,107.7 135.55,106.03 135.9,106.13 136.25,106.28 136.6,106.49 136.95,105.55 137.3,105.52 137.65,106.15 138,106.39 138.35,105.95 138.7,106.39 139.05,105.35 139.4,105.62 139.75,106.29 140.1,106.14 140.45,106.31 140.8,108.17 141.15,107.24 141.5,107.09 141.85,108.5 142.2,109.84 142.55,109 142.9,110.23 143.25,109.56 143.6,110.08 143.95,110.56 144.3,111.6 144.65,115.09 145,112.31 145.35,114.98 145.7,113.85 146.05,115.11 146.4,116.54 146.75,117.04 147.1,117.4 147.45,116.62 147.8,118.59 148.15,118.18 148.5,121.26 148.85,119.86 149.2,120.68 149.55,119.37 149.9,121.28 150.25,121.23 150.6,123.33 150.95,122.95 151.3,122.86 151.65,123.61 152,124.2 152.35,125.89 152.7,124.74 153.05,125.42 153.4,126.55 153.75,125.89 154.1,126.81 154.45,128.17 154.8,127.37 155.15,128.96 155.5,128.27 155.85,130.18 156.2,130.45 156.55,129.56 156.9,130.1 157.25,130.01 157.6,131.06 157.95,132.04 158.3,130.52 158.65,132.46 159,131.15 159.35,131.72 159.7,131.29 160.05,134.22 160.4,132.98 160.75,133.3 161.1,132.84 161.45,134.24 161.8,132.19 162.15,133.85 162.5,135.54 162.85,133.89 163.2,134.32 163.55,134.93 163.9,134.03 164.25,134.75 164.6,134.2 164.95,135.14 165.3,135.39 165.65,135.01 166,135.59 166.35,135.52 166.7,136.61 167.05,136.2 167.4,135.63 167.75,134.19 168.1,136.49 168.45,136.61 168.8,135.53 169.15,134.86 169.5,135.55 169.85,137.08 170.2,135.78 170.55,136.29 170.9,136.85 171.25,137.64 171.6,136.86 171.95,136.89 172.3,136.66 172.65,138.27 173,137.96 173.35,137.22 173.7,136.39 174.05,136.89 174.4,137.93 174.75,137.09 175.1,138.29 175.45,137.99 175.8,138.01 176.15,138.33 176.5,138.28 176.85,137.39 177.2,137.82 177.55,139.74 177.9,137.3 178.25,137.86 178.6,138.98 178.95,138.16 179.3,137.73 179.65,137.4 180,138.73 180.35,139.09 180.7,139.37 181.05,138.43 181.4,138.25 181.75,137.68 182.1,138.51 182.45,137.91 182.8,138.5 183.15,138.89 183.5,139.09 183.85,137.63 184.2,139.19 184.55,137.94 184.9,137.53 185.25,138.1 185.6,137.16 185.95,138.15 186.3,138.32 186.65,137.94 187,138.41 187.35,137.77 187.7,137.95 188.05,136.9 188.4,137.89 188.75,137.21 189.1,137.45 189.45,137.65 189.8,137.79 190.15,136.46 190.5,136.46 190.85,137.3 191.2,137.79 191.55,137.65 191.9,137.97 192.25,139.64 192.6,136.3 192.95,137.18 193.3,136.42 193.65,136.43 194,136.71 194.35,137.18 194.7,137.1 195.05,136.9 195.4,136.74 195.75,137.24 196.1,136.89 196.45,136.9 196.8,136.85 197.15,136.2 197.5,135.81 197.85,136.81 198.2,136.7 198.55,136.2 198.9,136 199.25,137.82 199.6,135.63 199.95,135.95 200.3,136.22 200.65,135.17 201,135.99 201.35,137.1 201.7,136.43 202.05,136.15 202.4,136.05 202.75,135.65 203.1,136.17 203.45,135.32 203.8,135.07 204.15,135.36 204.5,135.86 204.85,135.38 205.2,135.55 205.55,133.59 205.9,135.77 206.25,136.51 206.6,135.73 206.95,134.51 207.3,134.06 207.65,134.78 208,133.83 208.35,134.96 208.7,134.01 209.05,134.99 209.4,135.2 209.75,131.8 210.1,134.32 210.45,133.56 210.8,132.99 211.15,133.48 211.5,133.7 211.85,134.51 212.2,132.66 212.55,134.4 212.9,135.02 213.25,133.97 213.6,133.87 213.95,133.42 214.3,132.55 214.65,133.7 215,133.54 215.35,133.73 215.7,134.97 216.05,133.63 216.4,133.37 216.75,134.12 217.1,132.04 217.45,132.13 217.8,132.62 218.15,132.37 218.5,133.27 218.85,132.51 219.2,133.9 219.55,133.69 219.9,133.12 220.25,132.26 220.6,132.91 220.95,132.99 221.3,131.63 221.65,132.57 222,132.77 222.35,132.37 222.7,133.27 223.05,132.97 223.4,131.49 223.75,132.1 224.1,131.38 224.45,132.32 224.8,131.26 225.15,132.47 225.5,132.04 225.85,132.4 226.2,131.57 226.55,130.61 226.9,132.82 227.25,132.77 227.6,132.45 227.95,131.75 228.3,131.87 228.65,132.64 229,131.55 229.35,132.25 229.7,130.19 230.05,131.8 230.4,130.98 230.75,131.02 231.1,131.09 231.45,131.29 231.8,132.17 232.15,130.76 232.5,130.97 232.85,130.41 233.2,131.7 233.55,130.56 233.9,131.15 234.25,130.52 234.6,131.24 234.95,131.46 235.3,130.45 235.65,130.74 236,129.7 236.35,130.89 236.7,131.26 237.05,131.48 237.4,131.42 237.75,129.17 238.1,129.32 238.45,129.64 238.8,130.26 239.15,129.37 239.5,130.54 239.85,130.55 240.2,131.11 240.55,130.28 240.9,129.74 241.25,128.74 241.6,132.12 241.95,129.01 242.3,130.56 242.65,131.72 243,131.06 243.35,130.16 243.7,130.77 244.05,131.4 244.4,131.67 244.75,130.23 245.1,131.42 245.45,131.1 245.8,131.73 246.15,131.97 246.5,130.8 246.85,130.06 247.2,131.4 247.55,132.4 247.9,130.55 248.25,131.41 248.6,132.98 248.95,130.61 249.3,133.45 249.65,131.04 250,131.52 250.35,130.11 250.7,132.64 251.05,130.98 251.4,131.31 251.75,130.62 252.1,130.65 252.45,131.52 252.8,132.19 253.15,131.19 253.5,131.74 253.85,132.77 254.2,131.98 254.55,132.59 254.9,132.57 255.25,132.01 255.6,131.21 255.95,133.04 256.3,132.52 256.65,134.4 257,131.09 257.35,131.39 257.7,131.1 258.05,132.03 258.4,133.42 258.75,133.13 259.1,132.75 259.45,132.92 259.8,131.91 260.15,132.71 260.5,133.25 260.85,133.12 261.2,131.54 261.55,132.85 261.9,134.12 262.25,132.95 262.6,133.18 262.95,132.9 263.3,133.04 263.65,134.22 264,133.3 264.35,132.83 264.7,131.42 265.05,133.26 265.4,132.34 265.75,132.49 266.1,134.38 266.45,134.38 266.8,132.6 267.15,134.59 267.5,134.38 267.85,132.65 268.2,134.69 268.55,133.09 268.9,133.44 269.25,133.34 269.6,133.62 269.95,135.07 270.3,133.58 270.65,133.77 271,133.96 271.35,134.82 271.7,134.51 272.05,135.4 272.4,135.95 272.75,134.01 273.1,134.61 273.45,135.05 273.8,134.42 274.15,135.32 274.5,137.29 274.85,134.83 275.2,135.31 275.55,136.28 275.9,136.45 276.25,136.28 276.6,134.72 276.95,135.81 277.3,135.94 277.65,135.52 278,135.7 278.35,136.61 278.7,136.37 279.05,134.83 279.4,135.84 279.75,135.96 280.1,136.44 280.45,135.82 280.8,135.56 281.15,135.73 281.5,134.85 281.85,136.12 282.2,135.76 282.55,136.54 282.9,135.53 283.25,135.99 283.6,135.64 283.95,135.62 284.3,136.9 284.65,136.12 285,136.79 285.35,135.73 285.7,136.62 286.05,135.41 286.4,136.29 286.75,136.31 287.1,137.11 287.45,136.86 287.8,136.65 288.15,137.39 288.5,136.98 288.85,137.26 289.2,137.45 289.55,136.9 289.9,135.67 290.25,137.25 290.6,136.76 290.95,137.36 291.3,137.89 291.65,137.75 292,136.92 292.35,136.32 292.7,137.21 293.05,137.2 293.4,138.09 293.75,137.08 294.1,137.24 294.45,137.93 294.8,137.11 295.15,137.37 295.5,138.71 295.85,138.58 296.2,138.01 296.55,137.79 296.9,136.96 297.25,138.06 297.6,137.74 297.95,137.88 298.3,137.39 298.65,137.78 299,137.69 299.35,138.07 299.7,138.87 300.05,138.16 300.4,136.78 300.75,137.28 301.1,136.88 301.45,137.47 301.8,138.44 302.15,138.36 302.5,137.69 302.85,138.32 303.2,137.63 303.55,137.19 303.9,137.23 304.25,137.64 304.6,139.26 304.95,137.35 305.3,139.18 305.65,139.27 306,138.24 306.35,138.36 306.7,137.99 307.05,138.42 307.4,138.92 307.75,138.5 308.1,139.21 308.45,139.37 308.8,138.8 309.15,138.81 309.5,138.57 309.85,138.87 310.2,137.88 310.55,138.96 310.9,138.85 311.25,138.12 311.6,140.25 311.95,138.09 312.3,138.19 312.65,139.01 313,137.49 313.35,138.31 313.7,137.82 314.05,138.24 314.4,138.84 314.75,139.18 315.1,139.75 315.45,139.57 315.8,139.86 316.15,139.46 316.5,138.75 316.85,139.88 317.2,138.78 317.55,140.15 317.9,140.24 318.25,139.75 318.6,139.37 318.95,139.77 319.3,139.88 319.65,138.34 320,139.25 320.35,138.52 320.7,139.45 321.05,138.92 321.4,140.37 321.75,141.37 322.1,138.9 322.45,139.48 322.8,138.67 323.15,139.58 323.5,139.96 323.85,139.78 324.2,138.28 324.55,139.42 324.9,140.03 325.25,139.92 325.6,140.54 325.95,138.86 326.3,140.15 326.65,139.35 327,139.97 327.35,140.15 327.7,140.37 328.05,139.51 328.4,140.07 328.75,139.15 329.1,139.01 329.45,139.48 329.8,140.01 330.15,138.95 330.5,139.51 330.85,140.15 331.2,141.25 331.55,140.92 331.9,140.77 332.25,138.99 332.6,140.2 332.95,140.63 333.3,140.6 333.65,140.64 334,140.22 334.35,141.64 334.7,141.47" fill="none" stroke="#ee3b42" stroke-width="2.1" stroke-linejoin="round"/>
<polyline points="33,168.27 33.35,168.02 33.7,167.95 34.05,167.73 34.4,168.71 34.75,168.47 35.1,168.67 35.45,169.64 35.8,169.48 36.15,169.9 36.5,168.34 36.85,169.99 37.2,169.34 37.55,169.33 37.9,169.45 38.25,171.05 38.6,170.93 38.95,169.99 39.3,169.84 39.65,170.79 40,170.61 40.35,172.24 40.7,170.19 41.05,170.08 41.4,171.32 41.75,171.65 42.1,171.88 42.45,172.45 42.8,173.51 43.15,171.96 43.5,171.96 43.85,171.24 44.2,172.78 44.55,173.34 44.9,172.69 45.25,173.83 45.6,173.16 45.95,174.33 46.3,173.63 46.65,172.79 47,171.61 47.35,172.71 47.7,172.7 48.05,174.23 48.4,174.77 48.75,177.17 49.1,174.38 49.45,174.38 49.8,173.89 50.15,175.48 50.5,175.18 50.85,174.62 51.2,175.64 51.55,174.25 51.9,174.09 52.25,176.04 52.6,175.73 52.95,175.48 53.3,175.58 53.65,177.22 54,177.19 54.35,177.51 54.7,175.54 55.05,176 55.4,177.21 55.75,175.84 56.1,176.3 56.45,175.65 56.8,178.33 57.15,179.04 57.5,177.57 57.85,177.52 58.2,177.18 58.55,177.3 58.9,178.12 59.25,175.94 59.6,178.77 59.95,177.67 60.3,177.51 60.65,179.13 61,178.23 61.35,178.82 61.7,178.25 62.05,177.06 62.4,179.12 62.75,177.9 63.1,180.68 63.45,177.96 63.8,177.84 64.15,179.46 64.5,179.65 64.85,179.53 65.2,178.7 65.55,180.27 65.9,178.73 66.25,179.53 66.6,179.4 66.95,179.79 67.3,181.75 67.65,179.81 68,180.74 68.35,180.93 68.7,179.34 69.05,179.82 69.4,180.47 69.75,180.42 70.1,181.14 70.45,179.67 70.8,181.62 71.15,181.73 71.5,181.18 71.85,181.38 72.2,181.48 72.55,181.19 72.9,182.05 73.25,181.68 73.6,182.34 73.95,181.61 74.3,183.01 74.65,180.47 75,181.45 75.35,182.59 75.7,181.27 76.05,182.92 76.4,181.63 76.75,182.63 77.1,181.99 77.45,181.05 77.8,182.9 78.15,182.78 78.5,182.66 78.85,184.5 79.2,183.06 79.55,182.45 79.9,183.85 80.25,183.84 80.6,184.19 80.95,184.66 81.3,182.82 81.65,184.3 82,184.43 82.35,183.7 82.7,183.95 83.05,181.75 83.4,183.52 83.75,185.24 84.1,182.81 84.45,183.76 84.8,184.41 85.15,184.68 85.5,185.49 85.85,183.18 86.2,184.51 86.55,185.15 86.9,183.69 87.25,184.65 87.6,186.06 87.95,185.72 88.3,185.24 88.65,183.09 89,184.88 89.35,185.29 89.7,184.86 90.05,185.08 90.4,187.33 90.75,185.06 91.1,184.57 91.45,185.46 91.8,185.11 92.15,185.14 92.5,185.33 92.85,185.96 93.2,185.6 93.55,184.62 93.9,185.38 94.25,185.82 94.6,185.17 94.95,186.3 95.3,187.6 95.65,184.8 96,185.72 96.35,186.88 96.7,186.57 97.05,185.43 97.4,186.09 97.75,184.98 98.1,184.42 98.45,185.81 98.8,185.57 99.15,185.74 99.5,185.34 99.85,185.56 100.2,184.95 100.55,185.61 100.9,185.84 101.25,185.18 101.6,185.76 101.95,183.92 102.3,184.57 102.65,186.1 103,186.28 103.35,185.18 103.7,184.89 104.05,184.04 104.4,186.54 104.75,185.38 105.1,183.75 105.45,185.13 105.8,185.03 106.15,184.95 106.5,183.8 106.85,184.91 107.2,183.43 107.55,185.46 107.9,184.46 108.25,183.49 108.6,185.18 108.95,184.99 109.3,183.66 109.65,185.6 110,183.29 110.35,183.13 110.7,184.69 111.05,182.2 111.4,184.42 111.75,183.6 112.1,183.55 112.45,182.71 112.8,183.58 113.15,183.78 113.5,182.41 113.85,182.63 114.2,181.92 114.55,183.71 114.9,181.5 115.25,181.71 115.6,181.81 115.95,181.82 116.3,182.14 116.65,181.92 117,180.89 117.35,180.57 117.7,180.6 118.05,180.87 118.4,180.5 118.75,179.35 119.1,177.96 119.45,180.59 119.8,179.43 120.15,178.62 120.5,178.33 120.85,177.38 121.2,176.68 121.55,176.79 121.9,176.49 122.25,175.83 122.6,174.84 122.95,175.17 123.3,175.23 123.65,173.85 124,173.52 124.35,171.31 124.7,171.82 125.05,171.05 125.4,169.42 125.75,168.18 126.1,168.78 126.45,167.02 126.8,167.02 127.15,165.49 127.5,165.34 127.85,162.73 128.2,162.17 128.55,162.38 128.9,161.47 129.25,161.46 129.6,159.99 129.95,159.33 130.3,159.51 130.65,159.02 131,158.05 131.35,157.56 131.7,156.49 132.05,156.06 132.4,155.5 132.75,154.55 133.1,152.26 133.45,153.21 133.8,154.26 134.15,152.08 134.5,151.43 134.85,150.88 135.2,150.63 135.55,150.34 135.9,148.89 136.25,147.83 136.6,148.99 136.95,147.26 137.3,148.22 137.65,147.85 138,148.35 138.35,148.6 138.7,147.66 139.05,147.1 139.4,146.85 139.75,147.38 140.1,148.29 140.45,147.21 140.8,149.15 141.15,149.56 141.5,150.51 141.85,150.32 142.2,151.13 142.55,151.02 142.9,150.5 143.25,151.31 143.6,153.21 143.95,154.82 144.3,154.49 144.65,155.29 145,155.03 145.35,157.4 145.7,156.55 146.05,158.33 146.4,158.51 146.75,158.41 147.1,160.42 147.45,160.32 147.8,161.05 148.15,161.87 148.5,162.16 148.85,162.54 149.2,163.75 149.55,163.76 149.9,164.7 150.25,164.79 150.6,164.8 150.95,165.94 151.3,166.62 151.65,167.5 152,168.83 152.35,167.29 152.7,169.02 153.05,167.81 153.4,169.06 153.75,168.86 154.1,169.05 154.45,169.73 154.8,171.54 155.15,171.87 155.5,172.12 155.85,172.01 156.2,174.44 156.55,173.17 156.9,173.02 157.25,175.13 157.6,174.7 157.95,174.32 158.3,175.71 158.65,175.27 159,175.88 159.35,175.85 159.7,175.21 160.05,176.85 160.4,176.51 160.75,175.92 161.1,176.31 161.45,177.73 161.8,177.02 162.15,178.55 162.5,178.15 162.85,177.98 163.2,177.02 163.55,178.72 163.9,179.12 164.25,179.25 164.6,179.95 164.95,179.24 165.3,179.7 165.65,180.42 166,179.26 166.35,180.83 166.7,180.97 167.05,180.44 167.4,181.3 167.75,180.74 168.1,180.51 168.45,181.16 168.8,180.7 169.15,180.86 169.5,180.78 169.85,181.72 170.2,181.25 170.55,180.48 170.9,181.4 171.25,181.67 171.6,181.83 171.95,181.04 172.3,181.17 172.65,181.11 173,181.87 173.35,182.42 173.7,183.12 174.05,182.72 174.4,182.68 174.75,182.84 175.1,183.06 175.45,181.93 175.8,182.75 176.15,182.56 176.5,182.31 176.85,182.15 177.2,182.17 177.55,182.39 177.9,181.77 178.25,183.04 178.6,182.71 178.95,182.84 179.3,183.03 179.65,183.33 180,182.44 180.35,182.8 180.7,181.76 181.05,181.34 181.4,181.54 181.75,183.98 182.1,181.62 182.45,183.23 182.8,183.93 183.15,182.57 183.5,184.03 183.85,184.17 184.2,183.53 184.55,184.53 184.9,183.29 185.25,182.34 185.6,183.21 185.95,182.52 186.3,181.91 186.65,181.92 187,184.42 187.35,182.41 187.7,182.76 188.05,182.3 188.4,183.91 188.75,182.57 189.1,182.43 189.45,181.85 189.8,181.7 190.15,182.15 190.5,182.86 190.85,184.09 191.2,183.36 191.55,183.88 191.9,182.92 192.25,182.5 192.6,181.62 192.95,182.53 193.3,181.01 193.65,182.28 194,183.61 194.35,182.68 194.7,183.22 195.05,182.14 195.4,181.43 195.75,182.03 196.1,182.06 196.45,183.15 196.8,183.66 197.15,181.72 197.5,181.95 197.85,182.06 198.2,181.87 198.55,181.2 198.9,182.09 199.25,182.23 199.6,182.2 199.95,181.03 200.3,181.74 200.65,180.55 201,182.34 201.35,180.93 201.7,180.23 202.05,181.21 202.4,181.05 202.75,180.65 203.1,180.09 203.45,182.48 203.8,181.37 204.15,181.31 204.5,182.53 204.85,180.92 205.2,181.3 205.55,180.86 205.9,181.6 206.25,181.05 206.6,180.85 206.95,180.37 207.3,180.68 207.65,179.9 208,178.88 208.35,180.17 208.7,179.9 209.05,179.91 209.4,178.66 209.75,180.48 210.1,179.31 210.45,178.13 210.8,179.41 211.15,178.52 211.5,179.31 211.85,178.26 212.2,178.83 212.55,179.2 212.9,179.35 213.25,179.33 213.6,179.14 213.95,180.67 214.3,179.42 214.65,178.2 215,178.57 215.35,178.49 215.7,178.77 216.05,178.42 216.4,178.2 216.75,179.9 217.1,178.73 217.45,178.41 217.8,178.42 218.15,178.39 218.5,179.47 218.85,178.77 219.2,179.17 219.55,176.15 219.9,178.51 220.25,178.97 220.6,179.55 220.95,178.14 221.3,176.86 221.65,176.97 222,177.53 222.35,176.64 222.7,177.41 223.05,178.53 223.4,177.32 223.75,178.19 224.1,177.98 224.45,180.27 224.8,176.7 225.15,177.41 225.5,176.4 225.85,178.28 226.2,177.62 226.55,177.88 226.9,178.54 227.25,177.11 227.6,177.23 227.95,175.74 228.3,177.71 228.65,177.6 229,176.64 229.35,176.86 229.7,177.04 230.05,177.88 230.4,177.05 230.75,176.73 231.1,176.3 231.45,175.57 231.8,176.17 232.15,176.6 232.5,176.33 232.85,176.53 233.2,176.97 233.55,176.72 233.9,176.58 234.25,176.81 234.6,176.46 234.95,176.28 235.3,176.61 235.65,175.05 236,177.11 236.35,175.31 236.7,176.79 237.05,176.19 237.4,176.1 237.75,176.18 238.1,176.33 238.45,176.89 238.8,176.27 239.15,176.22 239.5,174.88 239.85,176.84 240.2,176.71 240.55,176.3 240.9,175.06 241.25,175.87 241.6,176.24 241.95,177.43 242.3,176.46 242.65,176.14 243,177.05 243.35,176.15 243.7,176.23 244.05,176.38 244.4,175.24 244.75,176.98 245.1,176.63 245.45,176.15 245.8,175.58 246.15,176.55 246.5,177.41 246.85,176.01 247.2,175.74 247.55,176.81 247.9,175.42 248.25,175.02 248.6,176.29 248.95,176.15 249.3,176.47 249.65,176.31 250,176.97 250.35,176.61 250.7,176.38 251.05,176.52 251.4,177.32 251.75,177.58 252.1,177.58 252.45,177.47 252.8,174.71 253.15,176.36 253.5,176.88 253.85,177.28 254.2,176.97 254.55,178.21 254.9,177.46 255.25,176.86 255.6,177.44 255.95,177.12 256.3,176.87 256.65,177.8 257,177.16 257.35,175.05 257.7,177.11 258.05,177.51 258.4,176.88 258.75,178.55 259.1,176.95 259.45,178.98 259.8,177.08 260.15,177.18 260.5,177.98 260.85,178.76 261.2,177.85 261.55,177.2 261.9,178.17 262.25,179.53 262.6,177.15 262.95,178.64 263.3,178.32 263.65,178.29 264,178.16 264.35,178.27 264.7,179.28 265.05,179.04 265.4,177.98 265.75,179.84 266.1,177.9 266.45,179.34 266.8,179.07 267.15,179.85 267.5,179.32 267.85,179.88 268.2,179.19 268.55,179.96 268.9,179.58 269.25,180.91 269.6,178.99 269.95,180.38 270.3,179.93 270.65,179.8 271,180.56 271.35,180.12 271.7,178.84 272.05,178.98 272.4,180.5 272.75,178.97 273.1,181.13 273.45,179.99 273.8,180.42 274.15,180.36 274.5,180.66 274.85,180.22 275.2,180.22 275.55,180.44 275.9,181.32 276.25,181.43 276.6,181.58 276.95,180.99 277.3,180.64 277.65,179.65 278,179.77 278.35,181.5 278.7,180.67 279.05,181.55 279.4,181.93 279.75,181.12 280.1,181.83 280.45,181.34 280.8,179.94 281.15,180.85 281.5,180.93 281.85,181.61 282.2,180.66 282.55,180.99 282.9,180.65 283.25,181.32 283.6,181.42 283.95,182.08 284.3,181.98 284.65,181.56 285,182.55 285.35,181.57 285.7,181.6 286.05,182.62 286.4,179.82 286.75,181.46 287.1,181.82 287.45,182.42 287.8,180.88 288.15,182.96 288.5,183.5 288.85,179.82 289.2,180.39 289.55,181.5 289.9,180.93 290.25,182.24 290.6,181.21 290.95,183.07 291.3,181.95 291.65,181.3 292,181.53 292.35,181.14 292.7,182.2 293.05,182.99 293.4,181.81 293.75,182.63 294.1,181.34 294.45,182.24 294.8,183.66 295.15,181.08 295.5,182.95 295.85,182.93 296.2,180.81 296.55,181.15 296.9,181.49 297.25,182.87 297.6,181.92 297.95,182.13 298.3,182.76 298.65,181.51 299,182.47 299.35,182.12 299.7,183.15 300.05,181.85 300.4,183.59 300.75,182.21 301.1,181.92 301.45,182.96 301.8,182.85 302.15,181.18 302.5,182.75 302.85,181.68 303.2,182.08 303.55,183.24 303.9,182.12 304.25,183 304.6,182.52 304.95,184.17 305.3,182.79 305.65,182.06 306,182.15 306.35,182.32 306.7,183.08 307.05,183.02 307.4,183.74 307.75,183.21 308.1,183.22 308.45,183.39 308.8,183.11 309.15,183.44 309.5,183.82 309.85,183.86 310.2,182.97 310.55,182.15 310.9,182.86 311.25,183.66 311.6,181.76 311.95,181.92 312.3,183.89 312.65,183.22 313,182.87 313.35,184.92 313.7,184.7 314.05,183.59 314.4,184.73 314.75,184.76 315.1,183.09 315.45,185.8 315.8,183.31 316.15,183.82 316.5,183.27 316.85,184.13 317.2,183.2 317.55,184.15 317.9,184.95 318.25,184.38 318.6,184.09 318.95,185.39 319.3,183.72 319.65,185.06 320,184.21 320.35,184.61 320.7,184.52 321.05,184.62 321.4,184.54 321.75,184.06 322.1,184.25 322.45,184.99 322.8,184.64 323.15,183.94 323.5,184.3 323.85,184.34 324.2,184.83 324.55,185.03 324.9,185 325.25,184.52 325.6,185.03 325.95,184.09 326.3,183.07 326.65,185.09 327,182.47 327.35,184.54 327.7,184.39 328.05,185.71 328.4,184.46 328.75,185.54 329.1,185.04 329.45,184.55 329.8,184.35 330.15,185.82 330.5,185.8 330.85,186.11 331.2,186.89 331.55,185.83 331.9,186.79 332.25,185.63 332.6,185.83 332.95,185.55 333.3,185.2 333.65,187.26 334,184.6 334.35,186.12 334.7,186.29" fill="none" stroke="#454545" stroke-width="2.1" stroke-linejoin="round"/>
</g>
<rect x="32.9" y="2.5" width="302" height="199.9" fill="none" stroke="#333" stroke-width="1.3"/>
<path d="M32.9,202.4V198.4M70.65,202.4V198.4M108.4,202.4V198.4M146.15,202.4V198.4M183.9,202.4V198.4M221.65,202.4V198.4M259.4,202.4V198.4M297.15,202.4V198.4M334.9,202.4V198.4M51.77,202.4V200.4M89.53,202.4V200.4M127.28,202.4V200.4M165.03,202.4V200.4M202.78,202.4V200.4M240.53,202.4V200.4M278.27,202.4V200.4M316.02,202.4V200.4" stroke="#333" stroke-width="1.1" fill="none"/>
<text x="32.9" y="215.4" font-size="11" text-anchor="middle" >10</text>
<text x="70.65" y="215.4" font-size="11" text-anchor="middle" >20</text>
<text x="108.4" y="215.4" font-size="11" text-anchor="middle" >30</text>
<text x="146.15" y="215.4" font-size="11" text-anchor="middle" >40</text>
<text x="183.9" y="215.4" font-size="11" text-anchor="middle" >50</text>
<text x="221.65" y="215.4" font-size="11" text-anchor="middle" >60</text>
<text x="259.4" y="215.4" font-size="11" text-anchor="middle" >70</text>
<text x="297.15" y="215.4" font-size="11" text-anchor="middle" >80</text>
<text x="334.9" y="215.4" font-size="11" text-anchor="middle" >90</text>
<text x="180" y="230.9" font-size="15" text-anchor="middle" >2θ(degree)</text>
<text transform="translate(23.2,105) rotate(-90)" font-size="14.9" text-anchor="middle">Intensity(a.u.)</text>
<text x="302" y="40.3" font-size="14.5" text-anchor="middle" >Vit1</text>
<text x="302.3" y="83" font-size="14.5" text-anchor="middle" >TN</text>
<text x="300.5" y="124" font-size="14.5" text-anchor="middle" >TCN</text>
<text x="301.4" y="170.5" font-size="14.5" text-anchor="middle" >TC</text>
<path d="M5.8,-0.3 C-0.9,4.07 -0.9,11.53 5.8,15.9" fill="none" stroke="#111" stroke-width="1.3"/>
<path d="M22.65,-0.3 C29.35,4.07 29.35,11.53 22.65,15.9" fill="none" stroke="#111" stroke-width="1.3"/>
<text transform="translate(14.2,15.7) scale(0.9,1.07)" font-size="19.5" text-anchor="middle">a</text>
<polyline points="387,160.8 387.25,160.81 387.5,160.83 387.75,160.84 388,160.86 388.25,160.87 388.5,160.89 388.75,160.9 389,160.92 389.25,160.93 389.5,160.95 389.75,160.96 390,160.98 390.25,160.99 390.5,161.01 390.75,161.02 391,161.04 391.25,161.05 391.5,161.07 391.75,161.08 392,161.1 392.25,161.11 392.5,161.13 392.75,161.14 393,161.16 393.25,161.17 393.5,161.19 393.75,161.2 394,161.22 394.25,161.23 394.5,161.25 394.75,161.26 395,161.28 395.25,161.29 395.5,161.31 395.75,161.32 396,161.34 396.25,161.35 396.5,161.37 396.75,161.38 397,161.4 397.25,161.42 397.5,161.43 397.75,161.45 398,161.46 398.25,161.48 398.5,161.49 398.75,161.51 399,161.52 399.25,161.54 399.5,161.55 399.75,161.57 400,161.58 400.25,161.6 400.5,161.61 400.75,161.63 401,161.65 401.25,161.66 401.5,161.68 401.75,161.69 402,161.71 402.25,161.72 402.5,161.74 402.75,161.75 403,161.77 403.25,161.78 403.5,161.8 403.75,161.82 404,161.83 404.25,161.85 404.5,161.86 404.75,161.88 405,161.89 405.25,161.91 405.5,161.93 405.75,161.94 406,161.96 406.25,161.97 406.5,161.99 406.75,162 407,162.02 407.25,162.04 407.5,162.05 407.75,162.07 408,162.08 408.25,162.1 408.5,162.11 408.75,162.13 409,162.15 409.25,162.16 409.5,162.18 409.75,162.19 410,162.21 410.25,162.22 410.5,162.24 410.75,162.26 411,162.27 411.25,162.29 411.5,162.3 411.75,162.32 412,162.34 412.25,162.35 412.5,162.37 412.75,162.38 413,162.4 413.25,162.42 413.5,162.43 413.75,162.45 414,162.46 414.25,162.48 414.5,162.5 414.75,162.51 415,162.53 415.25,162.55 415.5,162.56 415.75,162.58 416,162.6 416.25,162.61 416.5,162.63 416.75,162.65 417,162.66 417.25,162.68 417.5,162.7 417.75,162.71 418,162.73 418.25,162.75 418.5,162.76 418.75,162.78 419,162.8 419.25,162.82 419.5,162.83 419.75,162.85 420,162.87 420.25,162.88 420.5,162.9 420.75,162.92 421,162.94 421.25,162.95 421.5,162.97 421.75,162.99 422,163.01 422.25,163.02 422.5,163.04 422.75,163.06 423,163.08 423.25,163.09 423.5,163.11 423.75,163.13 424,163.15 424.25,163.16 424.5,163.18 424.75,163.2 425,163.21 425.25,163.23 425.5,163.25 425.75,163.27 426,163.28 426.25,163.3 426.5,163.32 426.75,163.34 427,163.35 427.25,163.37 427.5,163.39 427.75,163.41 428,163.42 428.25,163.44 428.5,163.46 428.75,163.47 429,163.49 429.25,163.51 429.5,163.53 429.75,163.54 430,163.56 430.25,163.58 430.5,163.59 430.75,163.61 431,163.63 431.25,163.64 431.5,163.66 431.75,163.68 432,163.7 432.25,163.71 432.5,163.73 432.75,163.75 433,163.76 433.25,163.78 433.5,163.79 433.75,163.81 434,163.83 434.25,163.84 434.5,163.86 434.75,163.88 435,163.89 435.25,163.91 435.5,163.92 435.75,163.94 436,163.96 436.25,163.97 436.5,163.99 436.75,164 437,164.02 437.25,164.03 437.5,164.05 437.75,164.07 438,164.08 438.25,164.1 438.5,164.11 438.75,164.13 439,164.14 439.25,164.16 439.5,164.17 439.75,164.19 440,164.2 440.25,164.21 440.5,164.23 440.75,164.24 441,164.26 441.25,164.27 441.5,164.29 441.75,164.3 442,164.32 442.25,164.33 442.5,164.35 442.75,164.36 443,164.38 443.25,164.39 443.5,164.41 443.75,164.42 444,164.43 444.25,164.45 444.5,164.46 444.75,164.48 445,164.49 445.25,164.51 445.5,164.52 445.75,164.54 446,164.55 446.25,164.57 446.5,164.58 446.75,164.6 447,164.61 447.25,164.63 447.5,164.64 447.75,164.65 448,164.67 448.25,164.68 448.5,164.7 448.75,164.71 449,164.73 449.25,164.74 449.5,164.76 449.75,164.77 450,164.78 450.25,164.8 450.5,164.81 450.75,164.83 451,164.84 451.25,164.86 451.5,164.87 451.75,164.88 452,164.9 452.25,164.91 452.5,164.93 452.75,164.94 453,164.95 453.25,164.97 453.5,164.98 453.75,165 454,165.01 454.25,165.02 454.5,165.04 454.75,165.05 455,165.06 455.25,165.08 455.5,165.09 455.75,165.1 456,165.12 456.25,165.13 456.5,165.14 456.75,165.16 457,165.17 457.25,165.18 457.5,165.2 457.75,165.21 458,165.22 458.25,165.23 458.5,165.25 458.75,165.26 459,165.27 459.25,165.28 459.5,165.3 459.75,165.31 460,165.32 460.25,165.33 460.5,165.34 460.75,165.36 461,165.37 461.25,165.38 461.5,165.39 461.75,165.4 462,165.42 462.25,165.43 462.5,165.44 462.75,165.45 463,165.46 463.25,165.47 463.5,165.48 463.75,165.49 464,165.5 464.25,165.52 464.5,165.53 464.75,165.54 465,165.55 465.25,165.56 465.5,165.57 465.75,165.58 466,165.59 466.25,165.6 466.5,165.61 466.75,165.62 467,165.63 467.25,165.64 467.5,165.65 467.75,165.66 468,165.66 468.25,165.67 468.5,165.68 468.75,165.69 469,165.7 469.25,165.71 469.5,165.72 469.75,165.73 470,165.73 470.25,165.74 470.5,165.75 470.75,165.76 471,165.77 471.25,165.78 471.5,165.78 471.75,165.79 472,165.8 472.25,165.81 472.5,165.82 472.75,165.82 473,165.83 473.25,165.84 473.5,165.85 473.75,165.85 474,165.86 474.25,165.87 474.5,165.88 474.75,165.88 475,165.89 475.25,165.9 475.5,165.91 475.75,165.91 476,165.92 476.25,165.93 476.5,165.94 476.75,165.94 477,165.95 477.25,165.96 477.5,165.96 477.75,165.97 478,165.98 478.25,165.98 478.5,165.99 478.75,166 479,166.01 479.25,166.01 479.5,166.02 479.75,166.03 480,166.03 480.25,166.04 480.5,166.05 480.75,166.05 481,166.06 481.25,166.06 481.5,166.07 481.75,166.08 482,166.08 482.25,166.09 482.5,166.1 482.75,166.1 483,166.11 483.25,166.12 483.5,166.12 483.75,166.13 484,166.13 484.25,166.14 484.5,166.15 484.75,166.15 485,166.16 485.25,166.16 485.5,166.17 485.75,166.18 486,166.18 486.25,166.19 486.5,166.19 486.75,166.2 487,166.21 487.25,166.21 487.5,166.22 487.75,166.22 488,166.23 488.25,166.24 488.5,166.24 488.75,166.25 489,166.25 489.25,166.26 489.5,166.26 489.75,166.27 490,166.28 490.25,166.28 490.5,166.29 490.75,166.29 491,166.3 491.25,166.3 491.5,166.31 491.75,166.32 492,166.32 492.25,166.33 492.5,166.33 492.75,166.34 493,166.34 493.25,166.35 493.5,166.35 493.75,166.36 494,166.37 494.25,166.37 494.5,166.38 494.75,166.38 495,166.39 495.25,166.39 495.5,166.4 495.75,166.4 496,166.41 496.25,166.42 496.5,166.42 496.75,166.43 497,166.43 497.25,166.44 497.5,166.44 497.75,166.45 498,166.46 498.25,166.46 498.5,166.47 498.75,166.47 499,166.48 499.25,166.48 499.5,166.49 499.75,166.49 500,166.5 500.25,166.51 500.5,166.51 500.75,166.52 501,166.52 501.25,166.53 501.5,166.53 501.75,166.54 502,166.55 502.25,166.55 502.5,166.56 502.75,166.57 503,166.57 503.25,166.58 503.5,166.58 503.75,166.59 504,166.6 504.25,166.6 504.5,166.61 504.75,166.62 505,166.62 505.25,166.63 505.5,166.63 505.75,166.64 506,166.65 506.25,166.65 506.5,166.66 506.75,166.67 507,166.67 507.25,166.68 507.5,166.69 507.75,166.69 508,166.7 508.25,166.71 508.5,166.71 508.75,166.72 509,166.73 509.25,166.73 509.5,166.74 509.75,166.75 510,166.75 510.25,166.76 510.5,166.77 510.75,166.77 511,166.78 511.25,166.79 511.5,166.79 511.75,166.8 512,166.81 512.25,166.81 512.5,166.82 512.75,166.83 513,166.83 513.25,166.84 513.5,166.85 513.75,166.85 514,166.86 514.25,166.87 514.5,166.87 514.75,166.88 515,166.89 515.25,166.89 515.5,166.9 515.75,166.91 516,166.91 516.25,166.92 516.5,166.92 516.75,166.93 517,166.94 517.25,166.94 517.5,166.95 517.75,166.95 518,166.96 518.25,166.97 518.5,166.97 518.75,166.98 519,166.98 519.25,166.99 519.5,167 519.75,167 520,167.01 520.25,167.01 520.5,167.02 520.75,167.02 521,167.03 521.25,167.03 521.5,167.04 521.75,167.05 522,167.05 522.25,167.06 522.5,167.06 522.75,167.07 523,167.07 523.25,167.08 523.5,167.08 523.75,167.08 524,167.09 524.25,167.09 524.5,167.1 524.75,167.1 525,167.11 525.25,167.11 525.5,167.12 525.75,167.12 526,167.12 526.25,167.13 526.5,167.13 526.75,167.14 527,167.14 527.25,167.14 527.5,167.15 527.75,167.15 528,167.15 528.25,167.16 528.5,167.16 528.75,167.16 529,167.16 529.25,167.17 529.5,167.17 529.75,167.17 530,167.18 530.25,167.18 530.5,167.18 530.75,167.18 531,167.18 531.25,167.19 531.5,167.19 531.75,167.19 532,167.19 532.25,167.19 532.5,167.19 532.75,167.19 533,167.2 533.25,167.2 533.5,167.2 533.75,167.2 534,167.2 534.25,167.2 534.5,167.2 534.75,167.2 535,167.2 535.25,167.2 535.5,167.2 535.75,167.2 536,167.2 536.25,167.2 536.5,167.2 536.75,167.2 537,167.2 537.25,167.2 537.5,167.2 537.75,167.19 538,167.19 538.25,167.19 538.5,167.19 538.75,167.19 539,167.19 539.25,167.19 539.5,167.18 539.75,167.18 540,167.18 540.25,167.18 540.5,167.18 540.75,167.18 541,167.17 541.25,167.17 541.5,167.17 541.75,167.17 542,167.16 542.25,167.16 542.5,167.16 542.75,167.16 543,167.15 543.25,167.15 543.5,167.15 543.75,167.14 544,167.14 544.25,167.14 544.5,167.14 544.75,167.13 545,167.13 545.25,167.13 545.5,167.12 545.75,167.12 546,167.11 546.25,167.11 546.5,167.11 546.75,167.1 547,167.1 547.25,167.1 547.5,167.09 547.75,167.09 548,167.08 548.25,167.08 548.5,167.07 548.75,167.07 549,167.07 549.25,167.06 549.5,167.06 549.75,167.05 550,167.05 550.25,167.04 550.5,167.04 550.75,167.03 551,167.03 551.25,167.02 551.5,167.02 551.75,167.01 552,167.01 552.25,167 552.5,167 552.75,166.99 553,166.99 553.25,166.98 553.5,166.98 553.75,166.97 554,166.97 554.25,166.96 554.5,166.96 554.75,166.95 555,166.94 555.25,166.94 555.5,166.93 555.75,166.93 556,166.92 556.25,166.92 556.5,166.91 556.75,166.9 557,166.9 557.25,166.89 557.5,166.89 557.75,166.88 558,166.87 558.25,166.87 558.5,166.86 558.75,166.86 559,166.85 559.25,166.84 559.5,166.84 559.75,166.83 560,166.83 560.25,166.82 560.5,166.81 560.75,166.81 561,166.8 561.25,166.79 561.5,166.79 561.75,166.78 562,166.77 562.25,166.76 562.5,166.75 562.75,166.73 563,166.72 563.25,166.71 563.5,166.7 563.75,166.68 564,166.67 564.25,166.65 564.5,166.63 564.75,166.62 565,166.6 565.25,166.58 565.5,166.56 565.75,166.54 566,166.52 566.25,166.51 566.5,166.49 566.75,166.46 567,166.44 567.25,166.42 567.5,166.4 567.75,166.38 568,166.36 568.25,166.34 568.5,166.31 568.75,166.29 569,166.27 569.25,166.25 569.5,166.22 569.75,166.2 570,166.18 570.25,166.15 570.5,166.13 570.75,166.11 571,166.09 571.25,166.06 571.5,166.04 571.75,166.02 572,166 572.25,165.97 572.5,165.95 572.75,165.93 573,165.91 573.25,165.89 573.5,165.87 573.75,165.85 574,165.83 574.25,165.81 574.5,165.79 574.75,165.77 575,165.75 575.25,165.73 575.5,165.71 575.75,165.7 576,165.68 576.25,165.66 576.5,165.65 576.75,165.63 577,165.62 577.25,165.61 577.5,165.59 577.75,165.58 578,165.57 578.25,165.56 578.5,165.55 578.75,165.54 579,165.53 579.25,165.52 579.5,165.52 579.75,165.51 580,165.51 580.25,165.5 580.5,165.5 580.75,165.5 581,165.5 581.25,165.5 581.5,165.51 581.75,165.52 582,165.54 582.25,165.56 582.5,165.59 582.75,165.62 583,165.65 583.25,165.69 583.5,165.73 583.75,165.78 584,165.83 584.25,165.88 584.5,165.94 584.75,166 585,166.06 585.25,166.12 585.5,166.19 585.75,166.26 586,166.34 586.25,166.41 586.5,166.49 586.75,166.57 587,166.65 587.25,166.73 587.5,166.81 587.75,166.9 588,166.99 588.25,167.08 588.5,167.16 588.75,167.26 589,167.37 589.25,167.49 589.5,167.63 589.75,167.78 590,167.95 590.25,168.12 590.5,168.31 590.75,168.5 591,168.69 591.25,168.89 591.5,169.09 591.75,169.3 592,169.5 592.25,169.71 592.5,169.95 592.75,170.2 593,170.47 593.25,170.74 593.5,171.02 593.75,171.3 594,171.58 594.25,171.84 594.5,172.09 594.75,172.33 595,172.55 595.25,172.74 595.5,172.92 595.75,173.11 596,173.3 596.25,173.49 596.5,173.68 596.75,173.86 597,174.05 597.25,174.23 597.5,174.4 597.75,174.56 598,174.72 598.25,174.86 598.5,175 598.75,175.12 599,175.23 599.25,175.32 599.5,175.39 599.75,175.45 600,175.48 600.25,175.5 600.5,175.5 600.75,175.48 601,175.45 601.25,175.41 601.5,175.36 601.75,175.3 602,175.24 602.25,175.17 602.5,175.1 602.75,175.03 603,174.95 603.25,174.87 603.5,174.8 603.75,174.72 604,174.63 604.25,174.53 604.5,174.42 604.75,174.31 605,174.19 605.25,174.06 605.5,173.94 605.75,173.81 606,173.68 606.25,173.56 606.5,173.44 606.75,173.32 607,173.22 607.25,173.12 607.5,173.03 607.75,172.94 608,172.85 608.25,172.76 608.5,172.67 608.75,172.58 609,172.49 609.25,172.41 609.5,172.32 609.75,172.24 610,172.16 610.25,172.08 610.5,172 610.75,171.92 611,171.84 611.25,171.76 611.5,171.68 611.75,171.61 612,171.53 612.25,171.46 612.5,171.39 612.75,171.32 613,171.25 613.25,171.18 613.5,171.11 613.75,171.04 614,170.98 614.25,170.91 614.5,170.85 614.75,170.79 615,170.73 615.25,170.67 615.5,170.61 615.75,170.56 616,170.5 616.25,170.45 616.5,170.39 616.75,170.34 617,170.29 617.25,170.24 617.5,170.19 617.75,170.14 618,170.09 618.25,170.04 618.5,169.99 618.75,169.95 619,169.9 619.25,169.86 619.5,169.81 619.75,169.77 620,169.72 620.25,169.68 620.5,169.64 620.75,169.6 621,169.55 621.25,169.51 621.5,169.47 621.75,169.43 622,169.39 622.25,169.35 622.5,169.31 622.75,169.27 623,169.23 623.25,169.2 623.5,169.16 623.75,169.12 624,169.08 624.25,169.04 624.5,169.01 624.75,168.97 625,168.93 625.25,168.89 625.5,168.86 625.75,168.82 626,168.78 626.25,168.74 626.5,168.71 626.75,168.67 627,168.63 627.25,168.6 627.5,168.56 627.75,168.52 628,168.48 628.25,168.45 628.5,168.41 628.75,168.37 629,168.33 629.25,168.29 629.5,168.25 629.75,168.21 630,168.18 630.25,168.14 630.5,168.1 630.75,168.06 631,168.02 631.25,167.98 631.5,167.94 631.75,167.9 632,167.87 632.25,167.83 632.5,167.79 632.75,167.75 633,167.72 633.25,167.68 633.5,167.64 633.75,167.61 634,167.57 634.25,167.53 634.5,167.5 634.75,167.47 635,167.43 635.25,167.4 635.5,167.36 635.75,167.33 636,167.3 636.25,167.27 636.5,167.23 636.75,167.2 637,167.16 637.25,167.13 637.5,167.09 637.75,167.05 638,167.02 638.25,166.98 638.5,166.94 638.75,166.91 639,166.87 639.25,166.84 639.5,166.8 639.75,166.77 640,166.74 640.25,166.72 640.5,166.69 640.75,166.67 641,166.65 641.25,166.63 641.5,166.62 641.75,166.61 642,166.6 642.25,166.6 642.5,166.6 642.75,166.61 643,166.63 643.25,166.65 643.5,166.68 643.75,166.72 644,166.76 644.25,166.81 644.5,166.87 644.75,166.92 645,166.99 645.25,167.05 645.5,167.13 645.75,167.2 646,167.28 646.25,167.36 646.5,167.44 646.75,167.53 647,167.61 647.25,167.7 647.5,167.79 647.75,167.88 648,167.97 648.25,168.06 648.5,168.16 648.75,168.25 649,168.34 649.25,168.44 649.5,168.56 649.75,168.68 650,168.82 650.25,168.96 650.5,169.11 650.75,169.27 651,169.42 651.25,169.58 651.5,169.73 651.75,169.88 652,170.02 652.25,170.16 652.5,170.28 652.75,170.4 653,170.5 653.25,170.59 653.5,170.69 653.75,170.79 654,170.89 654.25,170.99 654.5,171.08 654.75,171.18 655,171.27 655.25,171.36 655.5,171.45 655.75,171.53 656,171.61 656.25,171.68 656.5,171.75 656.75,171.81 657,171.86 657.25,171.91 657.5,171.95 657.75,171.97 658,171.99 658.25,172 658.5,171.99 658.75,171.97 659,171.92 659.25,171.86 659.5,171.79 659.75,171.7 660,171.61 660.25,171.51 660.5,171.4 660.75,171.29 661,171.19 661.25,171.08 661.5,170.98 661.75,170.89 662,170.8 662.25,170.72 662.5,170.63 662.75,170.54 663,170.44 663.25,170.34 663.5,170.24 663.75,170.14 664,170.05 664.25,169.95 664.5,169.86 664.75,169.78 665,169.69 665.25,169.62 665.5,169.55 665.75,169.5 666,169.45 666.25,169.42 666.5,169.39 666.75,169.37 667,169.35 667.25,169.33 667.5,169.31 667.75,169.29 668,169.27 668.25,169.25 668.5,169.24 668.75,169.22 669,169.2 669.25,169.19 669.5,169.17 669.75,169.16 670,169.14 670.25,169.13 670.5,169.12 670.75,169.1 671,169.09 671.25,169.08 671.5,169.07 671.75,169.06 672,169.05 672.25,169.05 672.5,169.04 672.75,169.03 673,169.03 673.25,169.02 673.5,169.01 673.75,169.01 674,169.01 674.25,169 674.5,169 674.75,169 675,169 675.25,169 675.5,169 675.75,169 676,169.01 676.25,169.01 676.5,169.01 676.75,169.02 677,169.02 677.25,169.03 677.5,169.04 677.75,169.05 678,169.06 678.25,169.07 678.5,169.08 678.75,169.09 679,169.1 679.25,169.12 679.5,169.13 679.75,169.14 680,169.16 680.25,169.18 680.5,169.19 680.75,169.21 681,169.23 681.25,169.25 681.5,169.27 681.75,169.29 682,169.31 682.25,169.33 682.5,169.35 682.75,169.38 683,169.4" fill="none" stroke="#ee22ee" stroke-width="1.4" stroke-linejoin="round"/>
<polyline points="387,116.4 387.25,116.42 387.5,116.44 387.75,116.46 388,116.47 388.25,116.49 388.5,116.51 388.75,116.53 389,116.55 389.25,116.57 389.5,116.58 389.75,116.6 390,116.62 390.25,116.64 390.5,116.66 390.75,116.68 391,116.69 391.25,116.71 391.5,116.73 391.75,116.75 392,116.77 392.25,116.78 392.5,116.8 392.75,116.82 393,116.84 393.25,116.86 393.5,116.87 393.75,116.89 394,116.91 394.25,116.93 394.5,116.95 394.75,116.96 395,116.98 395.25,117 395.5,117.02 395.75,117.04 396,117.05 396.25,117.07 396.5,117.09 396.75,117.11 397,117.12 397.25,117.14 397.5,117.16 397.75,117.18 398,117.19 398.25,117.21 398.5,117.23 398.75,117.25 399,117.26 399.25,117.28 399.5,117.3 399.75,117.32 400,117.33 400.25,117.35 400.5,117.37 400.75,117.39 401,117.4 401.25,117.42 401.5,117.44 401.75,117.45 402,117.47 402.25,117.49 402.5,117.51 402.75,117.52 403,117.54 403.25,117.56 403.5,117.57 403.75,117.59 404,117.61 404.25,117.62 404.5,117.64 404.75,117.66 405,117.67 405.25,117.69 405.5,117.71 405.75,117.73 406,117.74 406.25,117.76 406.5,117.78 406.75,117.79 407,117.81 407.25,117.83 407.5,117.84 407.75,117.86 408,117.88 408.25,117.89 408.5,117.91 408.75,117.92 409,117.94 409.25,117.96 409.5,117.97 409.75,117.99 410,118.01 410.25,118.02 410.5,118.04 410.75,118.06 411,118.07 411.25,118.09 411.5,118.1 411.75,118.12 412,118.14 412.25,118.15 412.5,118.17 412.75,118.18 413,118.2 413.25,118.22 413.5,118.23 413.75,118.25 414,118.26 414.25,118.28 414.5,118.3 414.75,118.31 415,118.33 415.25,118.34 415.5,118.36 415.75,118.37 416,118.39 416.25,118.41 416.5,118.42 416.75,118.44 417,118.45 417.25,118.47 417.5,118.48 417.75,118.5 418,118.52 418.25,118.53 418.5,118.55 418.75,118.56 419,118.58 419.25,118.59 419.5,118.61 419.75,118.63 420,118.64 420.25,118.66 420.5,118.67 420.75,118.69 421,118.7 421.25,118.72 421.5,118.73 421.75,118.75 422,118.76 422.25,118.78 422.5,118.79 422.75,118.81 423,118.82 423.25,118.84 423.5,118.86 423.75,118.87 424,118.89 424.25,118.9 424.5,118.92 424.75,118.93 425,118.95 425.25,118.96 425.5,118.98 425.75,118.99 426,119.01 426.25,119.02 426.5,119.04 426.75,119.05 427,119.07 427.25,119.08 427.5,119.1 427.75,119.11 428,119.12 428.25,119.14 428.5,119.15 428.75,119.17 429,119.18 429.25,119.2 429.5,119.21 429.75,119.23 430,119.24 430.25,119.26 430.5,119.27 430.75,119.29 431,119.3 431.25,119.31 431.5,119.33 431.75,119.34 432,119.36 432.25,119.37 432.5,119.39 432.75,119.4 433,119.41 433.25,119.43 433.5,119.44 433.75,119.46 434,119.47 434.25,119.49 434.5,119.5 434.75,119.51 435,119.53 435.25,119.54 435.5,119.55 435.75,119.57 436,119.58 436.25,119.6 436.5,119.61 436.75,119.62 437,119.64 437.25,119.65 437.5,119.67 437.75,119.68 438,119.69 438.25,119.71 438.5,119.72 438.75,119.73 439,119.75 439.25,119.76 439.5,119.77 439.75,119.79 440,119.8 440.25,119.81 440.5,119.83 440.75,119.84 441,119.85 441.25,119.87 441.5,119.88 441.75,119.89 442,119.91 442.25,119.92 442.5,119.93 442.75,119.95 443,119.96 443.25,119.97 443.5,119.99 443.75,120 444,120.01 444.25,120.03 444.5,120.04 444.75,120.05 445,120.07 445.25,120.08 445.5,120.09 445.75,120.1 446,120.12 446.25,120.13 446.5,120.14 446.75,120.16 447,120.17 447.25,120.18 447.5,120.2 447.75,120.21 448,120.22 448.25,120.24 448.5,120.25 448.75,120.26 449,120.27 449.25,120.29 449.5,120.3 449.75,120.31 450,120.33 450.25,120.34 450.5,120.35 450.75,120.36 451,120.38 451.25,120.39 451.5,120.4 451.75,120.41 452,120.43 452.25,120.44 452.5,120.45 452.75,120.47 453,120.48 453.25,120.49 453.5,120.5 453.75,120.52 454,120.53 454.25,120.54 454.5,120.55 454.75,120.56 455,120.58 455.25,120.59 455.5,120.6 455.75,120.61 456,120.63 456.25,120.64 456.5,120.65 456.75,120.66 457,120.67 457.25,120.69 457.5,120.7 457.75,120.71 458,120.72 458.25,120.73 458.5,120.75 458.75,120.76 459,120.77 459.25,120.78 459.5,120.79 459.75,120.8 460,120.82 460.25,120.83 460.5,120.84 460.75,120.85 461,120.86 461.25,120.87 461.5,120.88 461.75,120.9 462,120.91 462.25,120.92 462.5,120.93 462.75,120.94 463,120.95 463.25,120.96 463.5,120.97 463.75,120.98 464,120.99 464.25,121.01 464.5,121.02 464.75,121.03 465,121.04 465.25,121.05 465.5,121.06 465.75,121.07 466,121.08 466.25,121.09 466.5,121.1 466.75,121.11 467,121.12 467.25,121.13 467.5,121.14 467.75,121.15 468,121.16 468.25,121.17 468.5,121.18 468.75,121.19 469,121.2 469.25,121.21 469.5,121.22 469.75,121.23 470,121.24 470.25,121.25 470.5,121.26 470.75,121.27 471,121.28 471.25,121.29 471.5,121.3 471.75,121.3 472,121.31 472.25,121.32 472.5,121.33 472.75,121.34 473,121.35 473.25,121.36 473.5,121.37 473.75,121.38 474,121.39 474.25,121.4 474.5,121.41 474.75,121.41 475,121.42 475.25,121.43 475.5,121.44 475.75,121.45 476,121.46 476.25,121.47 476.5,121.48 476.75,121.49 477,121.49 477.25,121.5 477.5,121.51 477.75,121.52 478,121.53 478.25,121.54 478.5,121.55 478.75,121.56 479,121.56 479.25,121.57 479.5,121.58 479.75,121.59 480,121.6 480.25,121.61 480.5,121.62 480.75,121.62 481,121.63 481.25,121.64 481.5,121.65 481.75,121.66 482,121.66 482.25,121.67 482.5,121.68 482.75,121.69 483,121.7 483.25,121.71 483.5,121.71 483.75,121.72 484,121.73 484.25,121.74 484.5,121.75 484.75,121.75 485,121.76 485.25,121.77 485.5,121.78 485.75,121.79 486,121.79 486.25,121.8 486.5,121.81 486.75,121.82 487,121.82 487.25,121.83 487.5,121.84 487.75,121.85 488,121.86 488.25,121.86 488.5,121.87 488.75,121.88 489,121.89 489.25,121.89 489.5,121.9 489.75,121.91 490,121.92 490.25,121.92 490.5,121.93 490.75,121.94 491,121.95 491.25,121.95 491.5,121.96 491.75,121.97 492,121.98 492.25,121.98 492.5,121.99 492.75,122 493,122 493.25,122.01 493.5,122.02 493.75,122.03 494,122.03 494.25,122.04 494.5,122.05 494.75,122.06 495,122.06 495.25,122.07 495.5,122.08 495.75,122.08 496,122.09 496.25,122.1 496.5,122.1 496.75,122.11 497,122.12 497.25,122.13 497.5,122.13 497.75,122.14 498,122.15 498.25,122.15 498.5,122.16 498.75,122.17 499,122.17 499.25,122.18 499.5,122.19 499.75,122.19 500,122.2 500.25,122.21 500.5,122.21 500.75,122.22 501,122.23 501.25,122.23 501.5,122.24 501.75,122.25 502,122.26 502.25,122.26 502.5,122.27 502.75,122.28 503,122.28 503.25,122.29 503.5,122.3 503.75,122.31 504,122.31 504.25,122.32 504.5,122.33 504.75,122.34 505,122.34 505.25,122.35 505.5,122.36 505.75,122.37 506,122.37 506.25,122.38 506.5,122.39 506.75,122.4 507,122.4 507.25,122.41 507.5,122.42 507.75,122.43 508,122.43 508.25,122.44 508.5,122.45 508.75,122.46 509,122.46 509.25,122.47 509.5,122.48 509.75,122.49 510,122.5 510.25,122.5 510.5,122.51 510.75,122.52 511,122.53 511.25,122.53 511.5,122.54 511.75,122.55 512,122.56 512.25,122.56 512.5,122.57 512.75,122.58 513,122.59 513.25,122.59 513.5,122.6 513.75,122.61 514,122.62 514.25,122.62 514.5,122.63 514.75,122.64 515,122.65 515.25,122.65 515.5,122.66 515.75,122.67 516,122.68 516.25,122.68 516.5,122.69 516.75,122.7 517,122.7 517.25,122.71 517.5,122.72 517.75,122.72 518,122.73 518.25,122.74 518.5,122.74 518.75,122.75 519,122.76 519.25,122.76 519.5,122.77 519.75,122.78 520,122.78 520.25,122.79 520.5,122.8 520.75,122.8 521,122.81 521.25,122.81 521.5,122.82 521.75,122.83 522,122.83 522.25,122.84 522.5,122.84 522.75,122.85 523,122.85 523.25,122.86 523.5,122.87 523.75,122.87 524,122.88 524.25,122.88 524.5,122.89 524.75,122.89 525,122.9 525.25,122.9 525.5,122.91 525.75,122.91 526,122.91 526.25,122.92 526.5,122.92 526.75,122.93 527,122.93 527.25,122.94 527.5,122.94 527.75,122.94 528,122.95 528.25,122.95 528.5,122.95 528.75,122.96 529,122.96 529.25,122.96 529.5,122.97 529.75,122.97 530,122.97 530.25,122.97 530.5,122.98 530.75,122.98 531,122.98 531.25,122.98 531.5,122.99 531.75,122.99 532,122.99 532.25,122.99 532.5,122.99 532.75,122.99 533,123 533.25,123 533.5,123 533.75,123 534,123 534.25,123 534.5,123 534.75,123 535,123 535.25,123 535.5,123 535.75,123 536,123 536.25,123 536.5,122.99 536.75,122.99 537,122.99 537.25,122.99 537.5,122.98 537.75,122.98 538,122.98 538.25,122.97 538.5,122.97 538.75,122.97 539,122.96 539.25,122.96 539.5,122.95 539.75,122.95 540,122.94 540.25,122.94 540.5,122.93 540.75,122.92 541,122.92 541.25,122.91 541.5,122.91 541.75,122.9 542,122.89 542.25,122.89 542.5,122.88 542.75,122.87 543,122.86 543.25,122.86 543.5,122.85 543.75,122.84 544,122.83 544.25,122.83 544.5,122.82 544.75,122.81 545,122.8 545.25,122.79 545.5,122.79 545.75,122.78 546,122.77 546.25,122.76 546.5,122.75 546.75,122.74 547,122.73 547.25,122.73 547.5,122.72 547.75,122.71 548,122.7 548.25,122.69 548.5,122.68 548.75,122.67 549,122.67 549.25,122.66 549.5,122.65 549.75,122.64 550,122.63 550.25,122.62 550.5,122.61 550.75,122.61 551,122.6 551.25,122.59 551.5,122.58 551.75,122.57 552,122.57 552.25,122.56 552.5,122.55 552.75,122.54 553,122.54 553.25,122.53 553.5,122.52 553.75,122.51 554,122.51 554.25,122.5 554.5,122.49 554.75,122.49 555,122.48 555.25,122.48 555.5,122.47 555.75,122.46 556,122.46 556.25,122.45 556.5,122.45 556.75,122.44 557,122.44 557.25,122.43 557.5,122.43 557.75,122.43 558,122.42 558.25,122.42 558.5,122.42 558.75,122.41 559,122.41 559.25,122.41 559.5,122.41 559.75,122.4 560,122.4 560.25,122.4 560.5,122.4 560.75,122.4 561,122.4 561.25,122.4 561.5,122.4 561.75,122.4 562,122.4 562.25,122.4 562.5,122.4 562.75,122.4 563,122.4 563.25,122.4 563.5,122.4 563.75,122.4 564,122.4 564.25,122.4 564.5,122.4 564.75,122.4 565,122.4 565.25,122.4 565.5,122.4 565.75,122.4 566,122.4 566.25,122.4 566.5,122.4 566.75,122.4 567,122.4 567.25,122.4 567.5,122.4 567.75,122.4 568,122.4 568.25,122.4 568.5,122.4 568.75,122.4 569,122.4 569.25,122.4 569.5,122.4 569.75,122.4 570,122.4 570.25,122.4 570.5,122.4 570.75,122.4 571,122.4 571.25,122.4 571.5,122.4 571.75,122.4 572,122.4 572.25,122.4 572.5,122.4 572.75,122.4 573,122.4 573.25,122.4 573.5,122.4 573.75,122.4 574,122.4 574.25,122.4 574.5,122.4 574.75,122.4 575,122.4 575.25,122.4 575.5,122.4 575.75,122.4 576,122.4 576.25,122.4 576.5,122.4 576.75,122.4 577,122.4 577.25,122.4 577.5,122.4 577.75,122.4 578,122.4 578.25,122.4 578.5,122.4 578.75,122.4 579,122.4 579.25,122.4 579.5,122.4 579.75,122.4 580,122.4 580.25,122.4 580.5,122.4 580.75,122.4 581,122.4 581.25,122.4 581.5,122.4 581.75,122.4 582,122.4 582.25,122.4 582.5,122.4 582.75,122.4 583,122.4 583.25,122.4 583.5,122.4 583.75,122.4 584,122.4 584.25,122.4 584.5,122.4 584.75,122.4 585,122.4 585.25,122.4 585.5,122.4 585.75,122.4 586,122.4 586.25,122.4 586.5,122.4 586.75,122.4 587,122.4 587.25,122.4 587.5,122.4 587.75,122.42 588,122.48 588.25,122.58 588.5,122.72 588.75,122.88 589,123.07 589.25,123.28 589.5,123.5 589.75,123.74 590,123.99 590.25,124.24 590.5,124.5 590.75,124.79 591,125.14 591.25,125.55 591.5,126 591.75,126.48 592,126.98 592.25,127.49 592.5,128.01 592.75,128.51 593,129 593.25,129.49 593.5,130.01 593.75,130.55 594,131.09 594.25,131.62 594.5,132.12 594.75,132.59 595,133 595.25,133.4 595.5,133.82 595.75,134.24 596,134.63 596.25,134.98 596.5,135.25 596.75,135.43 597,135.5 597.25,135.48 597.5,135.41 597.75,135.3 598,135.16 598.25,134.99 598.5,134.81 598.75,134.61 599,134.41 599.25,134.2 599.5,134 599.75,133.78 600,133.53 600.25,133.24 600.5,132.93 600.75,132.6 601,132.26 601.25,131.92 601.5,131.57 601.75,131.24 602,130.92 602.25,130.62 602.5,130.35 602.75,130.12 603,129.93 603.25,129.75 603.5,129.58 603.75,129.41 604,129.26 604.25,129.11 604.5,128.97 604.75,128.83 605,128.7 605.25,128.57 605.5,128.45 605.75,128.33 606,128.22 606.25,128.11 606.5,128 606.75,127.9 607,127.8 607.25,127.7 607.5,127.6 607.75,127.5 608,127.41 608.25,127.31 608.5,127.22 608.75,127.13 609,127.04 609.25,126.95 609.5,126.86 609.75,126.78 610,126.69 610.25,126.61 610.5,126.53 610.75,126.45 611,126.38 611.25,126.3 611.5,126.23 611.75,126.17 612,126.1 612.25,126.04 612.5,125.97 612.75,125.92 613,125.86 613.25,125.81 613.5,125.76 613.75,125.71 614,125.66 614.25,125.62 614.5,125.58 614.75,125.54 615,125.5 615.25,125.46 615.5,125.42 615.75,125.39 616,125.35 616.25,125.32 616.5,125.29 616.75,125.25 617,125.22 617.25,125.19 617.5,125.16 617.75,125.14 618,125.11 618.25,125.08 618.5,125.05 618.75,125.03 619,125 619.25,124.97 619.5,124.95 619.75,124.92 620,124.9 620.25,124.88 620.5,124.85 620.75,124.82 621,124.8 621.25,124.77 621.5,124.75 621.75,124.72 622,124.69 622.25,124.67 622.5,124.64 622.75,124.61 623,124.59 623.25,124.56 623.5,124.54 623.75,124.51 624,124.49 624.25,124.46 624.5,124.44 624.75,124.42 625,124.39 625.25,124.37 625.5,124.35 625.75,124.33 626,124.32 626.25,124.3 626.5,124.28 626.75,124.27 627,124.25 627.25,124.24 627.5,124.23 627.75,124.22 628,124.21 628.25,124.21 628.5,124.2 628.75,124.2 629,124.2 629.25,124.2 629.5,124.2 629.75,124.2 630,124.2 630.25,124.2 630.5,124.2 630.75,124.2 631,124.2 631.25,124.2 631.5,124.2 631.75,124.2 632,124.2 632.25,124.2 632.5,124.2 632.75,124.2 633,124.2 633.25,124.2 633.5,124.2 633.75,124.2 634,124.2 634.25,124.2 634.5,124.2 634.75,124.2 635,124.2 635.25,124.2 635.5,124.2 635.75,124.2 636,124.2 636.25,124.2 636.5,124.2 636.75,124.2 637,124.2 637.25,124.2 637.5,124.2 637.75,124.2 638,124.2 638.25,124.2 638.5,124.2 638.75,124.2 639,124.2 639.25,124.2 639.5,124.2 639.75,124.2 640,124.2 640.25,124.23 640.5,124.33 640.75,124.48 641,124.68 641.25,124.91 641.5,125.17 641.75,125.46 642,125.76 642.25,126.06 642.5,126.44 642.75,126.9 643,127.43 643.25,128.03 643.5,128.66 643.75,129.32 644,130 644.25,130.72 644.5,131.53 644.75,132.4 645,133.31 645.25,134.24 645.5,135.18 645.75,136.11 646,137 646.25,137.97 646.5,139.07 646.75,140.22 647,141.3 647.25,142.22 647.5,142.89 647.75,143.19 648,143.08 648.25,142.63 648.5,141.93 648.75,141.08 649,140.17 649.25,139.27 649.5,138.5 649.75,137.79 650,137.05 650.25,136.3 650.5,135.6 650.75,134.95 651,134.4 651.25,133.92 651.5,133.47 651.75,133.04 652,132.63 652.25,132.24 652.5,131.88 652.75,131.53 653,131.2 653.25,130.88 653.5,130.58 653.75,130.28 654,130 654.25,129.72 654.5,129.44 654.75,129.17 655,128.9 655.25,128.64 655.5,128.39 655.75,128.14 656,127.91 656.25,127.69 656.5,127.49 656.75,127.3 657,127.13 657.25,126.98 657.5,126.85 657.75,126.73 658,126.63 658.25,126.53 658.5,126.43 658.75,126.34 659,126.25 659.25,126.17 659.5,126.08 659.75,126.01 660,125.93 660.25,125.86 660.5,125.8 660.75,125.73 661,125.67 661.25,125.61 661.5,125.56 661.75,125.51 662,125.46 662.25,125.42 662.5,125.38 662.75,125.34 663,125.3 663.25,125.27 663.5,125.23 663.75,125.2 664,125.17 664.25,125.14 664.5,125.11 664.75,125.08 665,125.05 665.25,125.02 665.5,125 665.75,124.97 666,124.95 666.25,124.92 666.5,124.9 666.75,124.88 667,124.85 667.25,124.83 667.5,124.81 667.75,124.79 668,124.77 668.25,124.75 668.5,124.74 668.75,124.72 669,124.7 669.25,124.69 669.5,124.67 669.75,124.66 670,124.64 670.25,124.63 670.5,124.62 670.75,124.6 671,124.59 671.25,124.58 671.5,124.57 671.75,124.55 672,124.54 672.25,124.53 672.5,124.52 672.75,124.5 673,124.49 673.25,124.48 673.5,124.47 673.75,124.46 674,124.45 674.25,124.43 674.5,124.42 674.75,124.41 675,124.4 675.25,124.39 675.5,124.38 675.75,124.37 676,124.36 676.25,124.35 676.5,124.34 676.75,124.33 677,124.32 677.25,124.31 677.5,124.3 677.75,124.29 678,124.29 678.25,124.28 678.5,124.27 678.75,124.26 679,124.26 679.25,124.25 679.5,124.24 679.75,124.24 680,124.23 680.25,124.23 680.5,124.22 680.75,124.22 681,124.22 681.25,124.21 681.5,124.21 681.75,124.21 682,124.2 682.25,124.2 682.5,124.2 682.75,124.2 683,124.2" fill="none" stroke="#1a1aee" stroke-width="1.4" stroke-linejoin="round"/>
<polyline points="387,70.7 387.25,70.73 387.5,70.76 387.75,70.79 388,70.82 388.25,70.85 388.5,70.88 388.75,70.91 389,70.94 389.25,70.97 389.5,71 389.75,71.03 390,71.06 390.25,71.09 390.5,71.11 390.75,71.14 391,71.17 391.25,71.2 391.5,71.23 391.75,71.26 392,71.29 392.25,71.32 392.5,71.35 392.75,71.37 393,71.4 393.25,71.43 393.5,71.46 393.75,71.49 394,71.52 394.25,71.54 394.5,71.57 394.75,71.6 395,71.63 395.25,71.66 395.5,71.68 395.75,71.71 396,71.74 396.25,71.77 396.5,71.79 396.75,71.82 397,71.85 397.25,71.87 397.5,71.9 397.75,71.93 398,71.96 398.25,71.98 398.5,72.01 398.75,72.04 399,72.06 399.25,72.09 399.5,72.12 399.75,72.14 400,72.17 400.25,72.19 400.5,72.22 400.75,72.25 401,72.27 401.25,72.3 401.5,72.32 401.75,72.35 402,72.37 402.25,72.4 402.5,72.43 402.75,72.45 403,72.48 403.25,72.5 403.5,72.53 403.75,72.55 404,72.58 404.25,72.6 404.5,72.62 404.75,72.65 405,72.67 405.25,72.7 405.5,72.72 405.75,72.75 406,72.77 406.25,72.79 406.5,72.82 406.75,72.84 407,72.86 407.25,72.89 407.5,72.91 407.75,72.94 408,72.96 408.25,72.98 408.5,73 408.75,73.03 409,73.05 409.25,73.07 409.5,73.1 409.75,73.12 410,73.14 410.25,73.16 410.5,73.18 410.75,73.21 411,73.23 411.25,73.25 411.5,73.27 411.75,73.29 412,73.32 412.25,73.34 412.5,73.36 412.75,73.38 413,73.4 413.25,73.42 413.5,73.44 413.75,73.46 414,73.48 414.25,73.5 414.5,73.52 414.75,73.54 415,73.56 415.25,73.58 415.5,73.6 415.75,73.62 416,73.64 416.25,73.66 416.5,73.68 416.75,73.7 417,73.72 417.25,73.74 417.5,73.76 417.75,73.78 418,73.8 418.25,73.82 418.5,73.84 418.75,73.86 419,73.88 419.25,73.89 419.5,73.91 419.75,73.93 420,73.95 420.25,73.97 420.5,73.99 420.75,74.01 421,74.02 421.25,74.04 421.5,74.06 421.75,74.08 422,74.1 422.25,74.11 422.5,74.13 422.75,74.15 423,74.17 423.25,74.19 423.5,74.2 423.75,74.22 424,74.24 424.25,74.26 424.5,74.27 424.75,74.29 425,74.31 425.25,74.33 425.5,74.34 425.75,74.36 426,74.38 426.25,74.39 426.5,74.41 426.75,74.43 427,74.44 427.25,74.46 427.5,74.48 427.75,74.5 428,74.51 428.25,74.53 428.5,74.55 428.75,74.56 429,74.58 429.25,74.6 429.5,74.61 429.75,74.63 430,74.65 430.25,74.66 430.5,74.68 430.75,74.69 431,74.71 431.25,74.73 431.5,74.74 431.75,74.76 432,74.78 432.25,74.79 432.5,74.81 432.75,74.83 433,74.84 433.25,74.86 433.5,74.88 433.75,74.89 434,74.91 434.25,74.92 434.5,74.94 434.75,74.96 435,74.97 435.25,74.99 435.5,75.01 435.75,75.02 436,75.04 436.25,75.05 436.5,75.07 436.75,75.09 437,75.1 437.25,75.12 437.5,75.14 437.75,75.15 438,75.17 438.25,75.18 438.5,75.2 438.75,75.22 439,75.23 439.25,75.25 439.5,75.27 439.75,75.28 440,75.3 440.25,75.32 440.5,75.33 440.75,75.35 441,75.37 441.25,75.38 441.5,75.4 441.75,75.42 442,75.44 442.25,75.45 442.5,75.47 442.75,75.49 443,75.51 443.25,75.52 443.5,75.54 443.75,75.56 444,75.58 444.25,75.6 444.5,75.62 444.75,75.63 445,75.65 445.25,75.67 445.5,75.69 445.75,75.71 446,75.73 446.25,75.75 446.5,75.76 446.75,75.78 447,75.8 447.25,75.82 447.5,75.84 447.75,75.86 448,75.88 448.25,75.9 448.5,75.92 448.75,75.93 449,75.95 449.25,75.97 449.5,75.99 449.75,76.01 450,76.03 450.25,76.05 450.5,76.07 450.75,76.09 451,76.1 451.25,76.12 451.5,76.14 451.75,76.16 452,76.18 452.25,76.2 452.5,76.22 452.75,76.23 453,76.25 453.25,76.27 453.5,76.29 453.75,76.31 454,76.33 454.25,76.34 454.5,76.36 454.75,76.38 455,76.4 455.25,76.41 455.5,76.43 455.75,76.45 456,76.47 456.25,76.48 456.5,76.5 456.75,76.52 457,76.53 457.25,76.55 457.5,76.57 457.75,76.58 458,76.6 458.25,76.62 458.5,76.63 458.75,76.65 459,76.66 459.25,76.68 459.5,76.69 459.75,76.71 460,76.72 460.25,76.74 460.5,76.75 460.75,76.77 461,76.78 461.25,76.79 461.5,76.81 461.75,76.82 462,76.83 462.25,76.85 462.5,76.86 462.75,76.87 463,76.88 463.25,76.9 463.5,76.91 463.75,76.92 464,76.93 464.25,76.94 464.5,76.95 464.75,76.96 465,76.97 465.25,76.98 465.5,76.99 465.75,77 466,77.01 466.25,77.02 466.5,77.03 466.75,77.04 467,77.05 467.25,77.05 467.5,77.06 467.75,77.07 468,77.08 468.25,77.08 468.5,77.09 468.75,77.09 469,77.1 469.25,77.11 469.5,77.11 469.75,77.12 470,77.12 470.25,77.13 470.5,77.13 470.75,77.14 471,77.14 471.25,77.15 471.5,77.15 471.75,77.16 472,77.16 472.25,77.17 472.5,77.17 472.75,77.18 473,77.18 473.25,77.19 473.5,77.19 473.75,77.2 474,77.2 474.25,77.21 474.5,77.21 474.75,77.22 475,77.22 475.25,77.23 475.5,77.23 475.75,77.24 476,77.24 476.25,77.25 476.5,77.25 476.75,77.26 477,77.26 477.25,77.27 477.5,77.27 477.75,77.27 478,77.28 478.25,77.28 478.5,77.29 478.75,77.29 479,77.3 479.25,77.3 479.5,77.31 479.75,77.31 480,77.31 480.25,77.32 480.5,77.32 480.75,77.33 481,77.33 481.25,77.33 481.5,77.34 481.75,77.34 482,77.35 482.25,77.35 482.5,77.35 482.75,77.36 483,77.36 483.25,77.37 483.5,77.37 483.75,77.37 484,77.38 484.25,77.38 484.5,77.38 484.75,77.39 485,77.39 485.25,77.39 485.5,77.4 485.75,77.4 486,77.4 486.25,77.41 486.5,77.41 486.75,77.41 487,77.42 487.25,77.42 487.5,77.42 487.75,77.42 488,77.43 488.25,77.43 488.5,77.43 488.75,77.44 489,77.44 489.25,77.44 489.5,77.44 489.75,77.45 490,77.45 490.25,77.45 490.5,77.45 490.75,77.46 491,77.46 491.25,77.46 491.5,77.46 491.75,77.46 492,77.47 492.25,77.47 492.5,77.47 492.75,77.47 493,77.47 493.25,77.48 493.5,77.48 493.75,77.48 494,77.48 494.25,77.48 494.5,77.48 494.75,77.49 495,77.49 495.25,77.49 495.5,77.49 495.75,77.49 496,77.49 496.25,77.49 496.5,77.49 496.75,77.49 497,77.5 497.25,77.5 497.5,77.5 497.75,77.5 498,77.5 498.25,77.5 498.5,77.5 498.75,77.5 499,77.5 499.25,77.5 499.5,77.5 499.75,77.5 500,77.5 500.25,77.5 500.5,77.5 500.75,77.5 501,77.5 501.25,77.5 501.5,77.5 501.75,77.5 502,77.5 502.25,77.5 502.5,77.5 502.75,77.5 503,77.5 503.25,77.5 503.5,77.5 503.75,77.49 504,77.49 504.25,77.49 504.5,77.49 504.75,77.49 505,77.49 505.25,77.49 505.5,77.49 505.75,77.49 506,77.49 506.25,77.48 506.5,77.48 506.75,77.48 507,77.48 507.25,77.48 507.5,77.48 507.75,77.48 508,77.48 508.25,77.47 508.5,77.47 508.75,77.47 509,77.47 509.25,77.47 509.5,77.47 509.75,77.46 510,77.46 510.25,77.46 510.5,77.46 510.75,77.46 511,77.45 511.25,77.45 511.5,77.45 511.75,77.45 512,77.45 512.25,77.44 512.5,77.44 512.75,77.44 513,77.44 513.25,77.43 513.5,77.43 513.75,77.43 514,77.43 514.25,77.42 514.5,77.42 514.75,77.42 515,77.42 515.25,77.41 515.5,77.41 515.75,77.41 516,77.4 516.25,77.4 516.5,77.4 516.75,77.4 517,77.39 517.25,77.39 517.5,77.39 517.75,77.38 518,77.38 518.25,77.38 518.5,77.37 518.75,77.37 519,77.37 519.25,77.37 519.5,77.36 519.75,77.36 520,77.36 520.25,77.35 520.5,77.35 520.75,77.34 521,77.34 521.25,77.34 521.5,77.33 521.75,77.33 522,77.33 522.25,77.32 522.5,77.32 522.75,77.32 523,77.31 523.25,77.31 523.5,77.3 523.75,77.3 524,77.3 524.25,77.29 524.5,77.29 524.75,77.29 525,77.28 525.25,77.28 525.5,77.27 525.75,77.27 526,77.26 526.25,77.26 526.5,77.26 526.75,77.25 527,77.25 527.25,77.24 527.5,77.24 527.75,77.24 528,77.23 528.25,77.23 528.5,77.22 528.75,77.22 529,77.21 529.25,77.21 529.5,77.2 529.75,77.2 530,77.2 530.25,77.19 530.5,77.19 530.75,77.18 531,77.18 531.25,77.17 531.5,77.17 531.75,77.16 532,77.16 532.25,77.15 532.5,77.15 532.75,77.14 533,77.14 533.25,77.13 533.5,77.13 533.75,77.12 534,77.12 534.25,77.11 534.5,77.11 534.75,77.1 535,77.1 535.25,77.09 535.5,77.09 535.75,77.08 536,77.07 536.25,77.07 536.5,77.06 536.75,77.05 537,77.04 537.25,77.03 537.5,77.02 537.75,77.01 538,76.99 538.25,76.98 538.5,76.97 538.75,76.95 539,76.94 539.25,76.93 539.5,76.91 539.75,76.9 540,76.88 540.25,76.86 540.5,76.85 540.75,76.83 541,76.81 541.25,76.8 541.5,76.78 541.75,76.76 542,76.74 542.25,76.72 542.5,76.7 542.75,76.68 543,76.66 543.25,76.64 543.5,76.62 543.75,76.6 544,76.58 544.25,76.56 544.5,76.54 544.75,76.52 545,76.5 545.25,76.48 545.5,76.45 545.75,76.43 546,76.41 546.25,76.39 546.5,76.37 546.75,76.34 547,76.32 547.25,76.3 547.5,76.28 547.75,76.26 548,76.24 548.25,76.21 548.5,76.19 548.75,76.17 549,76.15 549.25,76.13 549.5,76.11 549.75,76.08 550,76.06 550.25,76.04 550.5,76.02 550.75,76 551,75.98 551.25,75.96 551.5,75.94 551.75,75.92 552,75.9 552.25,75.88 552.5,75.86 552.75,75.85 553,75.83 553.25,75.81 553.5,75.79 553.75,75.77 554,75.76 554.25,75.74 554.5,75.73 554.75,75.71 555,75.7 555.25,75.68 555.5,75.67 555.75,75.65 556,75.64 556.25,75.63 556.5,75.61 556.75,75.6 557,75.59 557.25,75.58 557.5,75.57 557.75,75.56 558,75.55 558.25,75.54 558.5,75.54 558.75,75.53 559,75.52 559.25,75.52 559.5,75.51 559.75,75.51 560,75.51 560.25,75.5 560.5,75.5 560.75,75.5 561,75.5 561.25,75.5 561.5,75.5 561.75,75.5 562,75.5 562.25,75.5 562.5,75.5 562.75,75.5 563,75.5 563.25,75.5 563.5,75.5 563.75,75.5 564,75.5 564.25,75.5 564.5,75.5 564.75,75.5 565,75.5 565.25,75.5 565.5,75.5 565.75,75.5 566,75.5 566.25,75.5 566.5,75.5 566.75,75.5 567,75.5 567.25,75.5 567.5,75.5 567.75,75.5 568,75.5 568.25,75.5 568.5,75.5 568.75,75.5 569,75.5 569.25,75.5 569.5,75.5 569.75,75.5 570,75.5 570.25,75.5 570.5,75.5 570.75,75.5 571,75.5 571.25,75.5 571.5,75.5 571.75,75.5 572,75.5 572.25,75.5 572.5,75.5 572.75,75.5 573,75.5 573.25,75.5 573.5,75.5 573.75,75.5 574,75.5 574.25,75.5 574.5,75.5 574.75,75.5 575,75.5 575.25,75.5 575.5,75.5 575.75,75.5 576,75.5 576.25,75.5 576.5,75.5 576.75,75.5 577,75.5 577.25,75.5 577.5,75.5 577.75,75.5 578,75.5 578.25,75.5 578.5,75.5 578.75,75.5 579,75.5 579.25,75.5 579.5,75.5 579.75,75.5 580,75.5 580.25,75.5 580.5,75.5 580.75,75.5 581,75.5 581.25,75.5 581.5,75.5 581.75,75.5 582,75.5 582.25,75.5 582.5,75.5 582.75,75.5 583,75.5 583.25,75.5 583.5,75.5 583.75,75.5 584,75.5 584.25,75.5 584.5,75.5 584.75,75.5 585,75.5 585.25,75.5 585.5,75.5 585.75,75.5 586,75.5 586.25,75.5 586.5,75.5 586.75,75.5 587,75.5 587.25,75.5 587.5,75.5 587.75,75.51 588,75.55 588.25,75.6 588.5,75.67 588.75,75.76 589,75.87 589.25,75.98 589.5,76.11 589.75,76.25 590,76.39 590.25,76.54 590.5,76.69 590.75,76.85 591,77 591.25,77.16 591.5,77.35 591.75,77.56 592,77.78 592.25,78.02 592.5,78.28 592.75,78.55 593,78.82 593.25,79.11 593.5,79.4 593.75,79.7 594,80 594.25,80.32 594.5,80.68 594.75,81.07 595,81.48 595.25,81.9 595.5,82.32 595.75,82.74 596,83.15 596.25,83.54 596.5,83.9 596.75,84.22 597,84.5 597.25,84.76 597.5,85.02 597.75,85.29 598,85.54 598.25,85.78 598.5,86 598.75,86.19 599,86.34 599.25,86.44 599.5,86.5 599.75,86.5 600,86.47 600.25,86.43 600.5,86.38 600.75,86.3 601,86.22 601.25,86.12 601.5,86.02 601.75,85.91 602,85.79 602.25,85.67 602.5,85.54 602.75,85.42 603,85.3 603.25,85.17 603.5,85.01 603.75,84.84 604,84.65 604.25,84.44 604.5,84.23 604.75,84 605,83.77 605.25,83.55 605.5,83.32 605.75,83.09 606,82.88 606.25,82.67 606.5,82.48 606.75,82.31 607,82.15 607.25,82.02 607.5,81.91 607.75,81.8 608,81.68 608.25,81.57 608.5,81.46 608.75,81.35 609,81.24 609.25,81.14 609.5,81.03 609.75,80.93 610,80.83 610.25,80.74 610.5,80.65 610.75,80.56 611,80.48 611.25,80.41 611.5,80.34 611.75,80.27 612,80.21 612.25,80.16 612.5,80.11 612.75,80.08 613,80.04 613.25,80.02 613.5,80.01 613.75,80 614,80 614.25,80.01 614.5,80.02 614.75,80.03 615,80.05 615.25,80.08 615.5,80.11 615.75,80.14 616,80.17 616.25,80.21 616.5,80.25 616.75,80.3 617,80.35 617.25,80.4 617.5,80.45 617.75,80.5 618,80.56 618.25,80.62 618.5,80.68 618.75,80.74 619,80.8 619.25,80.87 619.5,80.97 619.75,81.08 620,81.2 620.25,81.34 620.5,81.49 620.75,81.64 621,81.8 621.25,81.97 621.5,82.13 621.75,82.29 622,82.45 622.25,82.6 622.5,82.75 622.75,82.88 623,83 623.25,83.11 623.5,83.21 623.75,83.31 624,83.4 624.25,83.49 624.5,83.59 624.75,83.68 625,83.78 625.25,83.89 625.5,84.01 625.75,84.14 626,84.28 626.25,84.43 626.5,84.6 626.75,84.79 627,85 627.25,85.23 627.5,85.51 627.75,85.86 628,86.32 628.25,86.93 628.5,87.72 628.75,88.84 629,93.54 629.25,100.79 629.5,107.92 629.75,116.94 630,124.86 630.25,127.31 630.5,124.68 630.75,119.85 631,114.83 631.25,111.53 631.5,109.38 631.75,107.55 632,105.96 632.25,104.57 632.5,103.3 632.75,102.1 633,100.94 633.25,99.83 633.5,98.77 633.75,97.77 634,96.81 634.25,95.91 634.5,95.05 634.75,94.25 635,93.51 635.25,92.81 635.5,92.17 635.75,91.59 636,91.04 636.25,90.53 636.5,90.05 636.75,89.6 637,89.17 637.25,88.77 637.5,88.39 637.75,88.02 638,87.67 638.25,87.33 638.5,87 638.75,86.68 639,86.36 639.25,86.05 639.5,85.74 639.75,85.45 640,85.16 640.25,84.88 640.5,84.61 640.75,84.35 641,84.1 641.25,83.87 641.5,83.64 641.75,83.43 642,83.22 642.25,83.04 642.5,82.86 642.75,82.69 643,82.52 643.25,82.36 643.5,82.21 643.75,82.06 644,81.91 644.25,81.78 644.5,81.64 644.75,81.51 645,81.38 645.25,81.26 645.5,81.14 645.75,81.03 646,80.92 646.25,80.81 646.5,80.7 646.75,80.6 647,80.5 647.25,80.4 647.5,80.3 647.75,80.21 648,80.11 648.25,80.02 648.5,79.92 648.75,79.83 649,79.74 649.25,79.65 649.5,79.56 649.75,79.48 650,79.39 650.25,79.31 650.5,79.24 650.75,79.16 651,79.09 651.25,79.02 651.5,78.95 651.75,78.89 652,78.83 652.25,78.77 652.5,78.72 652.75,78.68 653,78.63 653.25,78.59 653.5,78.56 653.75,78.52 654,78.48 654.25,78.45 654.5,78.41 654.75,78.38 655,78.34 655.25,78.31 655.5,78.28 655.75,78.25 656,78.22 656.25,78.19 656.5,78.16 656.75,78.13 657,78.1 657.25,78.07 657.5,78.04 657.75,78.02 658,77.99 658.25,77.96 658.5,77.94 658.75,77.92 659,77.89 659.25,77.87 659.5,77.85 659.75,77.82 660,77.8 660.25,77.78 660.5,77.76 660.75,77.74 661,77.72 661.25,77.71 661.5,77.69 661.75,77.67 662,77.65 662.25,77.64 662.5,77.62 662.75,77.61 663,77.59 663.25,77.58 663.5,77.57 663.75,77.55 664,77.54 664.25,77.53 664.5,77.52 664.75,77.51 665,77.5 665.25,77.49 665.5,77.48 665.75,77.47 666,77.46 666.25,77.45 666.5,77.44 666.75,77.44 667,77.43 667.25,77.42 667.5,77.41 667.75,77.4 668,77.39 668.25,77.38 668.5,77.38 668.75,77.37 669,77.36 669.25,77.35 669.5,77.34 669.75,77.33 670,77.33 670.25,77.32 670.5,77.31 670.75,77.3 671,77.3 671.25,77.29 671.5,77.28 671.75,77.27 672,77.27 672.25,77.26 672.5,77.25 672.75,77.25 673,77.24 673.25,77.23 673.5,77.23 673.75,77.22 674,77.22 674.25,77.21 674.5,77.2 674.75,77.2 675,77.19 675.25,77.19 675.5,77.18 675.75,77.18 676,77.17 676.25,77.17 676.5,77.16 676.75,77.16 677,77.15 677.25,77.15 677.5,77.15 677.75,77.14 678,77.14 678.25,77.13 678.5,77.13 678.75,77.13 679,77.12 679.25,77.12 679.5,77.12 679.75,77.12 680,77.11 680.25,77.11 680.5,77.11 680.75,77.11 681,77.11 681.25,77.1 681.5,77.1 681.75,77.1 682,77.1 682.25,77.1 682.5,77.1 682.75,77.1 683,77.1" fill="none" stroke="#ee1111" stroke-width="1.4" stroke-linejoin="round"/>
<polyline points="387,28.7 387.25,28.71 387.5,28.72 387.75,28.73 388,28.75 388.25,28.76 388.5,28.77 388.75,28.78 389,28.79 389.25,28.8 389.5,28.82 389.75,28.83 390,28.84 390.25,28.85 390.5,28.86 390.75,28.88 391,28.89 391.25,28.9 391.5,28.91 391.75,28.93 392,28.94 392.25,28.95 392.5,28.96 392.75,28.98 393,28.99 393.25,29 393.5,29.01 393.75,29.03 394,29.04 394.25,29.05 394.5,29.07 394.75,29.08 395,29.09 395.25,29.11 395.5,29.12 395.75,29.13 396,29.15 396.25,29.16 396.5,29.17 396.75,29.19 397,29.2 397.25,29.21 397.5,29.23 397.75,29.24 398,29.25 398.25,29.27 398.5,29.28 398.75,29.3 399,29.31 399.25,29.32 399.5,29.34 399.75,29.35 400,29.37 400.25,29.38 400.5,29.4 400.75,29.41 401,29.42 401.25,29.44 401.5,29.45 401.75,29.47 402,29.48 402.25,29.5 402.5,29.51 402.75,29.53 403,29.54 403.25,29.56 403.5,29.57 403.75,29.59 404,29.6 404.25,29.62 404.5,29.63 404.75,29.65 405,29.66 405.25,29.68 405.5,29.69 405.75,29.71 406,29.72 406.25,29.74 406.5,29.75 406.75,29.77 407,29.78 407.25,29.8 407.5,29.81 407.75,29.83 408,29.85 408.25,29.86 408.5,29.88 408.75,29.89 409,29.91 409.25,29.92 409.5,29.94 409.75,29.96 410,29.97 410.25,29.99 410.5,30 410.75,30.02 411,30.04 411.25,30.05 411.5,30.07 411.75,30.09 412,30.1 412.25,30.12 412.5,30.13 412.75,30.15 413,30.17 413.25,30.18 413.5,30.2 413.75,30.22 414,30.23 414.25,30.25 414.5,30.27 414.75,30.28 415,30.3 415.25,30.32 415.5,30.34 415.75,30.35 416,30.37 416.25,30.39 416.5,30.41 416.75,30.43 417,30.44 417.25,30.46 417.5,30.48 417.75,30.5 418,30.52 418.25,30.54 418.5,30.56 418.75,30.57 419,30.59 419.25,30.61 419.5,30.63 419.75,30.65 420,30.67 420.25,30.69 420.5,30.71 420.75,30.73 421,30.75 421.25,30.77 421.5,30.79 421.75,30.81 422,30.83 422.25,30.85 422.5,30.87 422.75,30.89 423,30.91 423.25,30.93 423.5,30.95 423.75,30.97 424,30.99 424.25,31.01 424.5,31.03 424.75,31.05 425,31.07 425.25,31.09 425.5,31.12 425.75,31.14 426,31.16 426.25,31.18 426.5,31.2 426.75,31.22 427,31.24 427.25,31.26 427.5,31.28 427.75,31.3 428,31.32 428.25,31.34 428.5,31.37 428.75,31.39 429,31.41 429.25,31.43 429.5,31.45 429.75,31.47 430,31.49 430.25,31.51 430.5,31.53 430.75,31.55 431,31.58 431.25,31.6 431.5,31.62 431.75,31.64 432,31.66 432.25,31.68 432.5,31.7 432.75,31.72 433,31.74 433.25,31.76 433.5,31.78 433.75,31.8 434,31.82 434.25,31.85 434.5,31.87 434.75,31.89 435,31.91 435.25,31.93 435.5,31.95 435.75,31.97 436,31.99 436.25,32.01 436.5,32.03 436.75,32.05 437,32.07 437.25,32.09 437.5,32.11 437.75,32.13 438,32.15 438.25,32.17 438.5,32.19 438.75,32.2 439,32.22 439.25,32.24 439.5,32.26 439.75,32.28 440,32.3 440.25,32.32 440.5,32.34 440.75,32.36 441,32.38 441.25,32.4 441.5,32.41 441.75,32.43 442,32.45 442.25,32.47 442.5,32.49 442.75,32.51 443,32.53 443.25,32.55 443.5,32.57 443.75,32.59 444,32.61 444.25,32.63 444.5,32.65 444.75,32.67 445,32.69 445.25,32.71 445.5,32.73 445.75,32.75 446,32.77 446.25,32.79 446.5,32.81 446.75,32.83 447,32.85 447.25,32.88 447.5,32.9 447.75,32.92 448,32.94 448.25,32.96 448.5,32.98 448.75,33 449,33.02 449.25,33.04 449.5,33.06 449.75,33.08 450,33.1 450.25,33.12 450.5,33.14 450.75,33.16 451,33.18 451.25,33.2 451.5,33.22 451.75,33.24 452,33.26 452.25,33.28 452.5,33.3 452.75,33.32 453,33.34 453.25,33.36 453.5,33.38 453.75,33.4 454,33.42 454.25,33.44 454.5,33.46 454.75,33.48 455,33.5 455.25,33.52 455.5,33.54 455.75,33.56 456,33.58 456.25,33.6 456.5,33.62 456.75,33.63 457,33.65 457.25,33.67 457.5,33.69 457.75,33.71 458,33.73 458.25,33.75 458.5,33.76 458.75,33.78 459,33.8 459.25,33.82 459.5,33.84 459.75,33.85 460,33.87 460.25,33.89 460.5,33.9 460.75,33.92 461,33.94 461.25,33.96 461.5,33.97 461.75,33.99 462,34 462.25,34.02 462.5,34.04 462.75,34.05 463,34.07 463.25,34.08 463.5,34.1 463.75,34.11 464,34.13 464.25,34.14 464.5,34.16 464.75,34.17 465,34.19 465.25,34.2 465.5,34.22 465.75,34.23 466,34.24 466.25,34.26 466.5,34.27 466.75,34.28 467,34.29 467.25,34.31 467.5,34.32 467.75,34.33 468,34.34 468.25,34.35 468.5,34.37 468.75,34.38 469,34.39 469.25,34.4 469.5,34.41 469.75,34.42 470,34.43 470.25,34.44 470.5,34.45 470.75,34.46 471,34.47 471.25,34.48 471.5,34.49 471.75,34.5 472,34.51 472.25,34.52 472.5,34.53 472.75,34.54 473,34.55 473.25,34.56 473.5,34.57 473.75,34.58 474,34.59 474.25,34.6 474.5,34.61 474.75,34.62 475,34.63 475.25,34.63 475.5,34.64 475.75,34.65 476,34.66 476.25,34.67 476.5,34.68 476.75,34.69 477,34.7 477.25,34.71 477.5,34.72 477.75,34.72 478,34.73 478.25,34.74 478.5,34.75 478.75,34.76 479,34.77 479.25,34.78 479.5,34.78 479.75,34.79 480,34.8 480.25,34.81 480.5,34.82 480.75,34.83 481,34.83 481.25,34.84 481.5,34.85 481.75,34.86 482,34.87 482.25,34.87 482.5,34.88 482.75,34.89 483,34.9 483.25,34.9 483.5,34.91 483.75,34.92 484,34.93 484.25,34.93 484.5,34.94 484.75,34.95 485,34.96 485.25,34.96 485.5,34.97 485.75,34.98 486,34.99 486.25,34.99 486.5,35 486.75,35.01 487,35.01 487.25,35.02 487.5,35.03 487.75,35.03 488,35.04 488.25,35.05 488.5,35.05 488.75,35.06 489,35.07 489.25,35.07 489.5,35.08 489.75,35.09 490,35.09 490.25,35.1 490.5,35.1 490.75,35.11 491,35.12 491.25,35.12 491.5,35.13 491.75,35.13 492,35.14 492.25,35.15 492.5,35.15 492.75,35.16 493,35.16 493.25,35.17 493.5,35.17 493.75,35.18 494,35.19 494.25,35.19 494.5,35.2 494.75,35.2 495,35.21 495.25,35.21 495.5,35.22 495.75,35.22 496,35.23 496.25,35.23 496.5,35.24 496.75,35.24 497,35.25 497.25,35.25 497.5,35.26 497.75,35.26 498,35.27 498.25,35.27 498.5,35.27 498.75,35.28 499,35.28 499.25,35.29 499.5,35.29 499.75,35.3 500,35.3 500.25,35.3 500.5,35.31 500.75,35.31 501,35.32 501.25,35.32 501.5,35.32 501.75,35.33 502,35.33 502.25,35.34 502.5,35.34 502.75,35.35 503,35.35 503.25,35.35 503.5,35.36 503.75,35.36 504,35.37 504.25,35.37 504.5,35.37 504.75,35.38 505,35.38 505.25,35.39 505.5,35.39 505.75,35.4 506,35.4 506.25,35.4 506.5,35.41 506.75,35.41 507,35.42 507.25,35.42 507.5,35.42 507.75,35.43 508,35.43 508.25,35.44 508.5,35.44 508.75,35.44 509,35.45 509.25,35.45 509.5,35.46 509.75,35.46 510,35.46 510.25,35.47 510.5,35.47 510.75,35.48 511,35.48 511.25,35.48 511.5,35.49 511.75,35.49 512,35.49 512.25,35.5 512.5,35.5 512.75,35.51 513,35.51 513.25,35.51 513.5,35.52 513.75,35.52 514,35.52 514.25,35.53 514.5,35.53 514.75,35.54 515,35.54 515.25,35.54 515.5,35.55 515.75,35.55 516,35.55 516.25,35.56 516.5,35.56 516.75,35.56 517,35.57 517.25,35.57 517.5,35.57 517.75,35.58 518,35.58 518.25,35.58 518.5,35.59 518.75,35.59 519,35.59 519.25,35.59 519.5,35.6 519.75,35.6 520,35.6 520.25,35.61 520.5,35.61 520.75,35.61 521,35.61 521.25,35.62 521.5,35.62 521.75,35.62 522,35.63 522.25,35.63 522.5,35.63 522.75,35.63 523,35.64 523.25,35.64 523.5,35.64 523.75,35.64 524,35.65 524.25,35.65 524.5,35.65 524.75,35.65 525,35.65 525.25,35.66 525.5,35.66 525.75,35.66 526,35.66 526.25,35.66 526.5,35.67 526.75,35.67 527,35.67 527.25,35.67 527.5,35.67 527.75,35.68 528,35.68 528.25,35.68 528.5,35.68 528.75,35.68 529,35.68 529.25,35.68 529.5,35.69 529.75,35.69 530,35.69 530.25,35.69 530.5,35.69 530.75,35.69 531,35.69 531.25,35.69 531.5,35.69 531.75,35.69 532,35.7 532.25,35.7 532.5,35.7 532.75,35.7 533,35.7 533.25,35.7 533.5,35.7 533.75,35.7 534,35.7 534.25,35.7 534.5,35.7 534.75,35.7 535,35.7 535.25,35.7 535.5,35.7 535.75,35.69 536,35.69 536.25,35.68 536.5,35.68 536.75,35.67 537,35.66 537.25,35.65 537.5,35.64 537.75,35.63 538,35.61 538.25,35.6 538.5,35.58 538.75,35.57 539,35.55 539.25,35.53 539.5,35.51 539.75,35.49 540,35.47 540.25,35.45 540.5,35.43 540.75,35.41 541,35.38 541.25,35.36 541.5,35.33 541.75,35.31 542,35.28 542.25,35.25 542.5,35.23 542.75,35.2 543,35.17 543.25,35.14 543.5,35.11 543.75,35.08 544,35.05 544.25,35.02 544.5,34.99 544.75,34.96 545,34.92 545.25,34.89 545.5,34.86 545.75,34.82 546,34.79 546.25,34.76 546.5,34.72 546.75,34.69 547,34.66 547.25,34.62 547.5,34.59 547.75,34.55 548,34.52 548.25,34.49 548.5,34.45 548.75,34.42 549,34.38 549.25,34.35 549.5,34.32 549.75,34.28 550,34.25 550.25,34.21 550.5,34.18 550.75,34.15 551,34.12 551.25,34.08 551.5,34.05 551.75,34.02 552,33.99 552.25,33.96 552.5,33.93 552.75,33.9 553,33.87 553.25,33.84 553.5,33.81 553.75,33.78 554,33.75 554.25,33.72 554.5,33.7 554.75,33.67 555,33.65 555.25,33.62 555.5,33.6 555.75,33.58 556,33.55 556.25,33.53 556.5,33.51 556.75,33.49 557,33.47 557.25,33.45 557.5,33.44 557.75,33.42 558,33.4 558.25,33.39 558.5,33.38 558.75,33.36 559,33.35 559.25,33.34 559.5,33.33 559.75,33.32 560,33.32 560.25,33.31 560.5,33.31 560.75,33.3 561,33.3 561.25,33.3 561.5,33.3 561.75,33.3 562,33.3 562.25,33.3 562.5,33.3 562.75,33.3 563,33.3 563.25,33.31 563.5,33.31 563.75,33.31 564,33.31 564.25,33.31 564.5,33.31 564.75,33.32 565,33.32 565.25,33.32 565.5,33.33 565.75,33.33 566,33.33 566.25,33.34 566.5,33.34 566.75,33.34 567,33.35 567.25,33.35 567.5,33.36 567.75,33.36 568,33.37 568.25,33.37 568.5,33.38 568.75,33.39 569,33.39 569.25,33.4 569.5,33.4 569.75,33.41 570,33.42 570.25,33.43 570.5,33.43 570.75,33.44 571,33.45 571.25,33.46 571.5,33.47 571.75,33.48 572,33.48 572.25,33.49 572.5,33.5 572.75,33.51 573,33.52 573.25,33.53 573.5,33.54 573.75,33.56 574,33.57 574.25,33.58 574.5,33.59 574.75,33.6 575,33.61 575.25,33.63 575.5,33.64 575.75,33.65 576,33.67 576.25,33.68 576.5,33.69 576.75,33.71 577,33.72 577.25,33.74 577.5,33.75 577.75,33.77 578,33.79 578.25,33.8 578.5,33.82 578.75,33.83 579,33.85 579.25,33.87 579.5,33.89 579.75,33.9 580,33.92 580.25,33.94 580.5,33.96 580.75,33.98 581,34 581.25,34.03 581.5,34.08 581.75,34.14 582,34.22 582.25,34.31 582.5,34.42 582.75,34.55 583,34.68 583.25,34.83 583.5,34.99 583.75,35.16 584,35.33 584.25,35.52 584.5,35.71 584.75,35.91 585,36.12 585.25,36.33 585.5,36.54 585.75,36.76 586,36.98 586.25,37.2 586.5,37.42 586.75,37.65 587,37.87 587.25,38.08 587.5,38.3 587.75,38.53 588,38.78 588.25,39.05 588.5,39.34 588.75,39.64 589,39.95 589.25,40.27 589.5,40.6 589.75,40.93 590,41.26 590.25,41.59 590.5,41.91 590.75,42.21 591,42.51 591.25,42.79 591.5,43.05 591.75,43.29 592,43.5 592.25,43.7 592.5,43.89 592.75,44.09 593,44.27 593.25,44.45 593.5,44.63 593.75,44.79 594,44.94 594.25,45.08 594.5,45.21 594.75,45.33 595,45.43 595.25,45.52 595.5,45.6 595.75,45.67 596,45.75 596.25,45.82 596.5,45.89 596.75,45.96 597,46.02 597.25,46.07 597.5,46.11 597.75,46.15 598,46.18 598.25,46.19 598.5,46.2 598.75,46.18 599,46.14 599.25,46.07 599.5,45.97 599.75,45.86 600,45.73 600.25,45.59 600.5,45.43 600.75,45.27 601,45.11 601.25,44.95 601.5,44.79 601.75,44.64 602,44.5 602.25,44.35 602.5,44.18 602.75,43.99 603,43.79 603.25,43.59 603.5,43.4 603.75,43.21 604,43.05 604.25,42.91 604.5,42.8 604.75,42.73 605,42.7 605.25,43.59 605.5,45.88 605.75,49.02 606,52.44 606.25,55.61 606.5,58.96 606.75,62.66 607,66.43 607.25,70.03 607.5,73.32 607.75,77 608,80.45 608.25,82.76 608.5,83.09 608.75,81.99 609,79.99 609.25,77.48 609.5,74.83 609.75,72.42 610,70.28 610.25,67.95 610.5,65.52 610.75,63.14 611,60.92 611.25,58.99 611.5,57.46 611.75,56.39 612,55.47 612.25,54.65 612.5,53.92 612.75,53.25 613,52.65 613.25,52.08 613.5,51.55 613.75,51.02 614,50.5 614.25,49.98 614.5,49.49 614.75,49.01 615,48.56 615.25,48.13 615.5,47.73 615.75,47.35 616,47 616.25,46.67 616.5,46.35 616.75,46.04 617,45.75 617.25,45.46 617.5,45.19 617.75,44.93 618,44.68 618.25,44.44 618.5,44.22 618.75,44 619,43.8 619.25,43.61 619.5,43.42 619.75,43.23 620,43.05 620.25,42.88 620.5,42.71 620.75,42.55 621,42.39 621.25,42.24 621.5,42.1 621.75,41.97 622,41.85 622.25,41.74 622.5,41.64 622.75,41.54 623,41.45 623.25,41.36 623.5,41.27 623.75,41.18 624,41.09 624.25,41 624.5,40.91 624.75,40.83 625,40.75 625.25,40.67 625.5,40.59 625.75,40.52 626,40.45 626.25,40.38 626.5,40.32 626.75,40.26 627,40.21 627.25,40.17 627.5,40.12 627.75,40.09 628,40.06 628.25,40.03 628.5,40.01 628.75,40 629,40 629.25,40.01 629.5,40.03 629.75,40.06 630,40.1 630.25,40.15 630.5,40.22 630.75,40.29 631,40.37 631.25,40.46 631.5,40.56 631.75,40.66 632,40.77 632.25,40.89 632.5,41.01 632.75,41.14 633,41.26 633.25,41.39 633.5,41.53 633.75,41.66 634,41.8 634.25,41.94 634.5,42.07 634.75,42.21 635,42.34 635.25,42.47 635.5,42.6 635.75,42.73 636,42.86 636.25,43.01 636.5,43.18 636.75,43.36 637,43.55 637.25,43.75 637.5,43.95 637.75,44.16 638,44.37 638.25,44.58 638.5,44.79 638.75,44.99 639,45.19 639.25,45.38 639.5,45.56 639.75,45.73 640,45.89 640.25,46.02 640.5,46.14 640.75,46.24 641,46.32 641.25,46.37 641.5,46.4 641.75,46.39 642,46.35 642.25,46.28 642.5,46.18 642.75,46.06 643,45.91 643.25,45.75 643.5,45.58 643.75,45.4 644,45.21 644.25,45.03 644.5,44.84 644.75,44.67 645,44.5 645.25,44.33 645.5,44.16 645.75,43.97 646,43.77 646.25,43.57 646.5,43.36 646.75,43.16 647,42.95 647.25,42.74 647.5,42.54 647.75,42.35 648,42.16 648.25,41.99 648.5,41.83 648.75,41.68 649,41.55 649.25,41.42 649.5,41.3 649.75,41.18 650,41.07 650.25,40.96 650.5,40.85 650.75,40.75 651,40.64 651.25,40.54 651.5,40.45 651.75,40.35 652,40.26 652.25,40.17 652.5,40.08 652.75,40 653,39.91 653.25,39.83 653.5,39.75 653.75,39.67 654,39.59 654.25,39.52 654.5,39.45 654.75,39.37 655,39.3 655.25,39.23 655.5,39.16 655.75,39.09 656,39.02 656.25,38.95 656.5,38.89 656.75,38.82 657,38.76 657.25,38.7 657.5,38.63 657.75,38.57 658,38.51 658.25,38.45 658.5,38.4 658.75,38.34 659,38.28 659.25,38.23 659.5,38.18 659.75,38.12 660,38.07 660.25,38.02 660.5,37.97 660.75,37.92 661,37.88 661.25,37.83 661.5,37.79 661.75,37.74 662,37.7 662.25,37.66 662.5,37.62 662.75,37.58 663,37.53 663.25,37.49 663.5,37.45 663.75,37.42 664,37.38 664.25,37.34 664.5,37.3 664.75,37.26 665,37.23 665.25,37.19 665.5,37.15 665.75,37.12 666,37.08 666.25,37.05 666.5,37.01 666.75,36.98 667,36.95 667.25,36.91 667.5,36.88 667.75,36.85 668,36.82 668.25,36.79 668.5,36.76 668.75,36.73 669,36.7 669.25,36.67 669.5,36.64 669.75,36.62 670,36.59 670.25,36.57 670.5,36.54 670.75,36.52 671,36.49 671.25,36.47 671.5,36.44 671.75,36.42 672,36.4 672.25,36.38 672.5,36.36 672.75,36.34 673,36.32 673.25,36.29 673.5,36.27 673.75,36.25 674,36.23 674.25,36.21 674.5,36.19 674.75,36.17 675,36.15 675.25,36.13 675.5,36.11 675.75,36.1 676,36.08 676.25,36.06 676.5,36.04 676.75,36.02 677,36.01 677.25,35.99 677.5,35.97 677.75,35.96 678,35.94 678.25,35.92 678.5,35.91 678.75,35.89 679,35.88 679.25,35.86 679.5,35.85 679.75,35.84 680,35.82 680.25,35.81 680.5,35.8 680.75,35.79 681,35.77 681.25,35.76 681.5,35.75 681.75,35.74 682,35.73 682.25,35.72 682.5,35.72 682.75,35.71 683,35.7" fill="none" stroke="#111111" stroke-width="1.4" stroke-linejoin="round"/>
<rect x="386.3" y="2.5" width="297.1" height="198.5" fill="none" stroke="#555" stroke-width="1.3"/>
<path d="M386.2,201V197.4M452.3,201V197.4M518.4,201V197.4M584.5,201V197.4M650.6,201V197.4M419.25,201V199M485.35,201V199M551.45,201V199M617.55,201V199M683.65,201V199" stroke="#333" stroke-width="1.1" fill="none"/>
<text x="386.2" y="213.8" font-size="11.3" text-anchor="middle" >400</text>
<text x="452.3" y="213.8" font-size="11.3" text-anchor="middle" >500</text>
<text x="518.4" y="213.8" font-size="11.3" text-anchor="middle" >600</text>
<text x="584.5" y="213.8" font-size="11.3" text-anchor="middle" >700</text>
<text x="650.6" y="213.8" font-size="11.3" text-anchor="middle" >800</text>
<text x="540" y="231.6" font-size="14.6" text-anchor="middle" >Temperature(K)</text>
<text transform="translate(373.6,108.2) rotate(-90)" font-size="14.4" text-anchor="middle">Heat Flow(mW/mg)</text>
<path d="M381.8,38V158" stroke="#222" stroke-width="1.1"/>
<path d="M379.6,157 L384,157 L381.8,163.5Z" fill="#222"/>
<text x="468.5" y="30" font-size="14.3" text-anchor="middle" >Vit1</text>
<text x="469" y="72.9" font-size="14.3" text-anchor="middle" >TC</text>
<text x="466.8" y="113.1" font-size="14.3" text-anchor="middle" >TCN</text>
<text x="467.7" y="159.6" font-size="14.3" text-anchor="middle" >TN</text>
<text x="646.5" y="20.8" font-size="14.3" text-anchor="middle" >20 K/min</text>
<path d="M356.6,0 C349.9,4.27 349.9,11.53 356.6,15.8" fill="none" stroke="#111" stroke-width="1.3"/>
<path d="M375.35,0 C382.05,4.27 382.05,11.53 375.35,15.8" fill="none" stroke="#111" stroke-width="1.3"/>
<text transform="translate(366.3,15.8) scale(0.9,0.97)" font-size="19.5" text-anchor="middle">b</text>
<path d="M124.75,318.5H300.75" stroke="#c4c4c4" stroke-width="1.2" fill="none"/>
<path d="M144.7,320.46L145.41,318.5M160.4,320.83L161.24,318.5M176.2,320.96L177.09,318.5M192,321.15L192.95,318.5M207.8,321.36L208.83,318.5M222.3,321.55L223.4,318.5M235.2,321.69L236.35,318.5M248,321.82L249.2,318.5M261.5,321.95L262.74,318.5M275.5,322L276.76,318.5M290.7,320.8L291.53,318.5" stroke="#707070" stroke-width="0.65" fill="none"/>
<path d="M81.5,353.8H303" stroke="#c4c4c4" stroke-width="1.2" fill="none"/>
<path d="M133.6,356.78L134.67,353.8M148.2,358.1L149.75,353.8M160.4,359.85L162.58,353.8M172.8,361.11L175.43,353.8M185.6,361.84L188.5,353.8M199.8,362.26L202.85,353.8M210.7,362.63L213.88,353.8M223.9,363.33L227.33,353.8M237.7,364.05L241.39,353.8M252.3,364.67L256.21,353.8M265.5,364.77L269.45,353.8M278.6,364.41L282.42,353.8M291.8,361.07L294.42,353.8" stroke="#707070" stroke-width="0.65" fill="none"/>
<path d="M88.25,390.3H287.5" stroke="#c4c4c4" stroke-width="1.2" fill="none"/>
<path d="M101.6,391.76L102.13,390.3M115.4,392.67L116.25,390.3M129.3,393.71L130.53,390.3M143.2,394.99L144.89,390.3M156.3,396.65L158.59,390.3M168.7,397.8L171.4,390.3M181.1,398.68L184.12,390.3M192.8,399.53L196.12,390.3M204.6,400.62L208.32,390.3M221.4,402.44L225.77,390.3M238.2,404.3L243.24,390.3M252,407.13L258.06,390.3M265.9,403.31L270.58,390.3M279,397.73L281.68,390.3" stroke="#707070" stroke-width="0.65" fill="none"/>
<path d="M66.5,428.5H269.25" stroke="#c4c4c4" stroke-width="1.2" fill="none"/>
<path d="M89.5,431.43L90.55,428.5M101.9,432.82L103.45,428.5M113.9,434.15L115.93,428.5M125.3,435.1L127.67,428.5M136.6,435.67L139.18,428.5M147.9,436.16L150.66,428.5M158.8,436.72L161.76,428.5M170.5,437.43L173.72,428.5M180.8,437.93L184.2,428.5M192.5,438.39L196.06,428.5M203.5,438.76L207.19,428.5M214.4,438.98L218.17,428.5M225.4,438.97L229.17,428.5M235.6,438.78L239.3,428.5M247.3,438.34L250.84,428.5M257.5,436.01L260.2,428.5" stroke="#707070" stroke-width="0.65" fill="none"/>
<polyline points="33,320.2 33.3,320.18 33.6,320.15 33.9,320.13 34.2,320.11 34.5,320.08 34.8,320.06 35.1,320.03 35.4,320.01 35.7,319.99 36,319.97 36.3,319.94 36.6,319.92 36.9,319.9 37.2,319.87 37.5,319.85 37.8,319.83 38.1,319.81 38.4,319.78 38.7,319.76 39,319.74 39.3,319.72 39.6,319.7 39.9,319.67 40.2,319.65 40.5,319.63 40.8,319.61 41.1,319.59 41.4,319.57 41.7,319.54 42,319.52 42.3,319.5 42.6,319.48 42.9,319.46 43.2,319.44 43.5,319.42 43.8,319.4 44.1,319.38 44.4,319.36 44.7,319.34 45,319.32 45.3,319.3 45.6,319.28 45.9,319.26 46.2,319.24 46.5,319.22 46.8,319.2 47.1,319.18 47.4,319.16 47.7,319.14 48,319.12 48.3,319.1 48.6,319.09 48.9,319.07 49.2,319.05 49.5,319.03 49.8,319.01 50.1,318.99 50.4,318.98 50.7,318.96 51,318.94 51.3,318.92 51.6,318.9 51.9,318.88 52.2,318.86 52.5,318.84 52.8,318.82 53.1,318.8 53.4,318.78 53.7,318.76 54,318.74 54.3,318.72 54.6,318.7 54.9,318.68 55.2,318.66 55.5,318.64 55.8,318.61 56.1,318.59 56.4,318.57 56.7,318.55 57,318.53 57.3,318.51 57.6,318.49 57.9,318.47 58.2,318.45 58.5,318.43 58.8,318.41 59.1,318.39 59.4,318.37 59.7,318.36 60,318.34 60.3,318.32 60.6,318.3 60.9,318.28 61.2,318.27 61.5,318.25 61.8,318.23 62.1,318.22 62.4,318.2 62.7,318.18 63,318.17 63.3,318.16 63.6,318.14 63.9,318.13 64.2,318.12 64.5,318.1 64.8,318.09 65.1,318.08 65.4,318.07 65.7,318.06 66,318.05 66.3,318.04 66.6,318.04 66.9,318.03 67.2,318.02 67.5,318.02 67.8,318.01 68.1,318.01 68.4,318 68.7,318 69,318 69.3,318 69.6,318 69.9,318 70.2,318 70.5,318 70.8,318 71.1,318 71.4,318 71.7,318 72,318 72.3,318 72.6,318 72.9,318 73.2,318 73.5,318 73.8,318 74.1,318 74.4,318 74.7,318 75,318 75.3,318 75.6,318 75.9,318 76.2,318 76.5,318 76.8,318 77.1,318 77.4,318 77.7,318 78,318 78.3,318 78.6,318 78.9,318 79.2,318 79.5,318 79.8,318 80.1,318 80.4,318 80.7,318 81,318 81.3,318 81.6,318 81.9,318 82.2,318 82.5,318 82.8,318 83.1,318 83.4,318 83.7,318 84,318 84.3,318 84.6,318 84.9,318 85.2,318 85.5,318 85.8,318 86.1,318 86.4,318 86.7,318 87,318 87.3,318 87.6,318 87.9,318 88.2,318 88.5,318 88.8,318 89.1,318 89.4,318 89.7,318 90,318 90.3,318 90.6,318 90.9,318 91.2,318 91.5,318 91.8,318 92.1,318 92.4,318 92.7,318 93,318 93.3,318 93.6,318 93.9,318 94.2,318 94.5,318 94.8,318 95.1,318 95.4,318 95.7,318 96,318 96.3,318 96.6,318 96.9,318 97.2,318 97.5,318.01 97.8,318.01 98.1,318.01 98.4,318.01 98.7,318.02 99,318.02 99.3,318.03 99.6,318.03 99.9,318.04 100.2,318.04 100.5,318.05 100.8,318.05 101.1,318.06 101.4,318.06 101.7,318.07 102,318.08 102.3,318.08 102.6,318.09 102.9,318.1 103.2,318.11 103.5,318.12 103.8,318.12 104.1,318.13 104.4,318.14 104.7,318.15 105,318.16 105.3,318.17 105.6,318.18 105.9,318.19 106.2,318.2 106.5,318.21 106.8,318.22 107.1,318.23 107.4,318.24 107.7,318.26 108,318.27 108.3,318.28 108.6,318.29 108.9,318.3 109.2,318.32 109.5,318.33 109.8,318.34 110.1,318.36 110.4,318.37 110.7,318.38 111,318.4 111.3,318.41 111.6,318.42 111.9,318.44 112.2,318.45 112.5,318.47 112.8,318.48 113.1,318.49 113.4,318.51 113.7,318.52 114,318.54 114.3,318.55 114.6,318.57 114.9,318.58 115.2,318.6 115.5,318.61 115.8,318.63 116.1,318.64 116.4,318.66 116.7,318.68 117,318.69 117.3,318.71 117.6,318.72 117.9,318.74 118.2,318.76 118.5,318.77 118.8,318.79 119.1,318.8 119.4,318.82 119.7,318.84 120,318.85 120.3,318.87 120.6,318.88 120.9,318.9 121.2,318.92 121.5,318.93 121.8,318.95 122.1,318.96 122.4,318.98 122.7,319 123,319.01 123.3,319.03 123.6,319.05 123.9,319.06 124.2,319.08 124.5,319.09 124.8,319.11 125.1,319.13 125.4,319.14 125.7,319.16 126,319.17 126.3,319.19 126.6,319.2 126.9,319.22 127.2,319.23 127.5,319.25 127.8,319.26 128.1,319.28 128.4,319.3 128.7,319.31 129,319.33 129.3,319.34 129.6,319.36 129.9,319.38 130.2,319.39 130.5,319.41 130.8,319.43 131.1,319.45 131.4,319.47 131.7,319.49 132,319.51 132.3,319.53 132.6,319.55 132.9,319.57 133.2,319.6 133.5,319.62 133.8,319.64 134.1,319.66 134.4,319.69 134.7,319.71 135,319.73 135.3,319.76 135.6,319.78 135.9,319.8 136.2,319.83 136.5,319.85 136.8,319.87 137.1,319.9 137.4,319.92 137.7,319.95 138,319.97 138.3,319.99 138.6,320.02 138.9,320.04 139.2,320.07 139.5,320.09 139.8,320.11 140.1,320.14 140.4,320.16 140.7,320.18 141,320.21 141.3,320.23 141.6,320.25 141.9,320.27 142.2,320.3 142.5,320.32 142.8,320.34 143.1,320.36 143.4,320.38 143.7,320.4 144,320.42 144.3,320.44 144.6,320.46 144.9,320.47 145.2,320.49 145.5,320.51 145.8,320.53 146.1,320.54 146.4,320.56 146.7,320.57 147,320.59 147.3,320.6 147.6,320.61 147.9,320.63 148.2,320.64 148.5,320.65 148.8,320.66 149.1,320.67 149.4,320.68 149.7,320.68 150,320.69 150.3,320.7 150.6,320.7 150.9,320.71 151.2,320.71 151.5,320.72 151.8,320.72 152.1,320.73 152.4,320.73 152.7,320.74 153,320.74 153.3,320.75 153.6,320.75 153.9,320.76 154.2,320.76 154.5,320.77 154.8,320.77 155.1,320.77 155.4,320.78 155.7,320.78 156,320.79 156.3,320.79 156.6,320.79 156.9,320.8 157.2,320.8 157.5,320.8 157.8,320.81 158.1,320.81 158.4,320.81 158.7,320.82 159,320.82 159.3,320.82 159.6,320.83 159.9,320.83 160.2,320.83 160.5,320.84 160.8,320.84 161.1,320.84 161.4,320.84 161.7,320.85 162,320.85 162.3,320.85 162.6,320.85 162.9,320.86 163.2,320.86 163.5,320.86 163.8,320.86 164.1,320.87 164.4,320.87 164.7,320.87 165,320.87 165.3,320.88 165.6,320.88 165.9,320.88 166.2,320.88 166.5,320.89 166.8,320.89 167.1,320.89 167.4,320.89 167.7,320.9 168,320.9 168.3,320.9 168.6,320.9 168.9,320.9 169.2,320.91 169.5,320.91 169.8,320.91 170.1,320.91 170.4,320.92 170.7,320.92 171,320.92 171.3,320.92 171.6,320.92 171.9,320.93 172.2,320.93 172.5,320.93 172.8,320.93 173.1,320.94 173.4,320.94 173.7,320.94 174,320.94 174.3,320.95 174.6,320.95 174.9,320.95 175.2,320.95 175.5,320.96 175.8,320.96 176.1,320.96 176.4,320.96 176.7,320.97 177,320.97 177.3,320.97 177.6,320.98 177.9,320.98 178.2,320.98 178.5,320.98 178.8,320.99 179.1,320.99 179.4,320.99 179.7,321 180,321 180.3,321 180.6,321.01 180.9,321.01 181.2,321.01 181.5,321.02 181.8,321.02 182.1,321.02 182.4,321.03 182.7,321.03 183,321.03 183.3,321.04 183.6,321.04 183.9,321.04 184.2,321.05 184.5,321.05 184.8,321.06 185.1,321.06 185.4,321.06 185.7,321.07 186,321.07 186.3,321.07 186.6,321.08 186.9,321.08 187.2,321.08 187.5,321.09 187.8,321.09 188.1,321.1 188.4,321.1 188.7,321.1 189,321.11 189.3,321.11 189.6,321.11 189.9,321.12 190.2,321.12 190.5,321.13 190.8,321.13 191.1,321.13 191.4,321.14 191.7,321.14 192,321.15 192.3,321.15 192.6,321.15 192.9,321.16 193.2,321.16 193.5,321.17 193.8,321.17 194.1,321.17 194.4,321.18 194.7,321.18 195,321.19 195.3,321.19 195.6,321.19 195.9,321.2 196.2,321.2 196.5,321.21 196.8,321.21 197.1,321.21 197.4,321.22 197.7,321.22 198,321.23 198.3,321.23 198.6,321.23 198.9,321.24 199.2,321.24 199.5,321.25 199.8,321.25 200.1,321.25 200.4,321.26 200.7,321.26 201,321.27 201.3,321.27 201.6,321.27 201.9,321.28 202.2,321.28 202.5,321.29 202.8,321.29 203.1,321.29 203.4,321.3 203.7,321.3 204,321.31 204.3,321.31 204.6,321.32 204.9,321.32 205.2,321.32 205.5,321.33 205.8,321.33 206.1,321.34 206.4,321.34 206.7,321.34 207,321.35 207.3,321.35 207.6,321.36 207.9,321.36 208.2,321.36 208.5,321.37 208.8,321.37 209.1,321.38 209.4,321.38 209.7,321.38 210,321.39 210.3,321.39 210.6,321.4 210.9,321.4 211.2,321.41 211.5,321.41 211.8,321.41 212.1,321.42 212.4,321.42 212.7,321.43 213,321.43 213.3,321.43 213.6,321.44 213.9,321.44 214.2,321.45 214.5,321.45 214.8,321.45 215.1,321.46 215.4,321.46 215.7,321.47 216,321.47 216.3,321.47 216.6,321.48 216.9,321.48 217.2,321.48 217.5,321.49 217.8,321.49 218.1,321.5 218.4,321.5 218.7,321.5 219,321.51 219.3,321.51 219.6,321.52 219.9,321.52 220.2,321.52 220.5,321.53 220.8,321.53 221.1,321.53 221.4,321.54 221.7,321.54 222,321.55 222.3,321.55 222.6,321.55 222.9,321.56 223.2,321.56 223.5,321.56 223.8,321.57 224.1,321.57 224.4,321.57 224.7,321.58 225,321.58 225.3,321.59 225.6,321.59 225.9,321.59 226.2,321.6 226.5,321.6 226.8,321.6 227.1,321.61 227.4,321.61 227.7,321.61 228,321.62 228.3,321.62 228.6,321.62 228.9,321.63 229.2,321.63 229.5,321.63 229.8,321.64 230.1,321.64 230.4,321.64 230.7,321.65 231,321.65 231.3,321.65 231.6,321.66 231.9,321.66 232.2,321.66 232.5,321.67 232.8,321.67 233.1,321.67 233.4,321.67 233.7,321.68 234,321.68 234.3,321.68 234.6,321.69 234.9,321.69 235.2,321.69 235.5,321.7 235.8,321.7 236.1,321.7 236.4,321.7 236.7,321.71 237,321.71 237.3,321.71 237.6,321.72 237.9,321.72 238.2,321.72 238.5,321.72 238.8,321.73 239.1,321.73 239.4,321.73 239.7,321.74 240,321.74 240.3,321.74 240.6,321.75 240.9,321.75 241.2,321.75 241.5,321.75 241.8,321.76 242.1,321.76 242.4,321.76 242.7,321.77 243,321.77 243.3,321.77 243.6,321.78 243.9,321.78 244.2,321.78 244.5,321.79 244.8,321.79 245.1,321.79 245.4,321.79 245.7,321.8 246,321.8 246.3,321.8 246.6,321.81 246.9,321.81 247.2,321.81 247.5,321.82 247.8,321.82 248.1,321.82 248.4,321.83 248.7,321.83 249,321.83 249.3,321.84 249.6,321.84 249.9,321.84 250.2,321.84 250.5,321.85 250.8,321.85 251.1,321.85 251.4,321.86 251.7,321.86 252,321.86 252.3,321.87 252.6,321.87 252.9,321.87 253.2,321.87 253.5,321.88 253.8,321.88 254.1,321.88 254.4,321.89 254.7,321.89 255,321.89 255.3,321.89 255.6,321.9 255.9,321.9 256.2,321.9 256.5,321.9 256.8,321.91 257.1,321.91 257.4,321.91 257.7,321.92 258,321.92 258.3,321.92 258.6,321.92 258.9,321.93 259.2,321.93 259.5,321.93 259.8,321.93 260.1,321.94 260.4,321.94 260.7,321.94 261,321.94 261.3,321.94 261.6,321.95 261.9,321.95 262.2,321.95 262.5,321.95 262.8,321.95 263.1,321.96 263.4,321.96 263.7,321.96 264,321.96 264.3,321.96 264.6,321.97 264.9,321.97 265.2,321.97 265.5,321.97 265.8,321.97 266.1,321.97 266.4,321.98 266.7,321.98 267,321.98 267.3,321.98 267.6,321.98 267.9,321.98 268.2,321.99 268.5,321.99 268.8,321.99 269.1,321.99 269.4,321.99 269.7,321.99 270,321.99 270.3,321.99 270.6,321.99 270.9,321.99 271.2,322 271.5,322 271.8,322 272.1,322 272.4,322 272.7,322 273,322 273.3,322 273.6,322 273.9,322 274.2,322 274.5,322 274.8,322 275.1,322 275.4,322 275.7,322 276,321.99 276.3,321.99 276.6,321.98 276.9,321.98 277.2,321.97 277.5,321.96 277.8,321.95 278.1,321.94 278.4,321.93 278.7,321.91 279,321.9 279.3,321.89 279.6,321.87 279.9,321.85 280.2,321.84 280.5,321.82 280.8,321.8 281.1,321.78 281.4,321.76 281.7,321.74 282,321.71 282.3,321.69 282.6,321.67 282.9,321.64 283.2,321.62 283.5,321.59 283.8,321.56 284.1,321.54 284.4,321.51 284.7,321.48 285,321.45 285.3,321.42 285.6,321.39 285.9,321.36 286.2,321.33 286.5,321.3 286.8,321.27 287.1,321.23 287.4,321.2 287.7,321.17 288,321.13 288.3,321.1 288.6,321.07 288.9,321.03 289.2,321 289.5,320.96 289.8,320.92 290.1,320.89 290.4,320.85 290.7,320.8 291,320.75 291.3,320.69 291.6,320.64 291.9,320.57 292.2,320.5 292.5,320.43 292.8,320.36 293.1,320.28 293.4,320.2 293.7,320.12 294,320.04 294.3,319.96 294.6,319.87 294.9,319.78 295.2,319.7 295.5,319.61 295.8,319.52 296.1,319.44 296.4,319.35 296.7,319.27 297,319.19 297.3,319.1 297.6,319.03 297.9,318.95 298.2,318.87 298.5,318.8 298.8,318.72 299.1,318.65 299.4,318.57 299.7,318.5 300,318.43 300.3,318.35 300.6,318.28 300.9,318.2 301.2,318.13 301.5,318.06 301.8,317.98 302.1,317.9 302.4,317.83 302.7,317.75 303,317.67 303.3,317.59 303.6,317.51 303.9,317.43 304.2,317.35 304.5,317.27 304.8,317.18 305.1,317.09 305.4,317.01 305.7,316.92 306,316.82 306.3,316.73 306.6,316.63 306.9,316.53 307.2,316.43 307.5,316.33 307.8,316.22 308.1,316.11 308.4,315.99 308.7,315.88 309,315.76 309.3,315.63 309.6,315.51 309.9,315.38 310.2,315.25 310.5,315.12 310.8,314.99 311.1,314.85 311.4,314.71 311.7,314.57 312,314.43 312.3,314.29 312.6,314.15 312.9,314.01 313.2,313.86 313.5,313.72 313.8,313.57 314.1,313.43 314.4,313.28 314.7,313.13 315,312.99 315.3,312.84 315.6,312.7 315.9,312.55 316.2,312.41 316.5,312.26 316.8,312.11 317.1,311.96 317.4,311.82 317.7,311.67 318,311.52 318.3,311.36 318.6,311.21 318.9,311.06 319.2,310.9 319.5,310.74 319.8,310.59 320.1,310.43 320.4,310.27 320.7,310.1 321,309.94 321.3,309.77 321.6,309.61 321.9,309.44 322.2,309.27 322.5,309.09 322.8,308.92 323.1,308.74 323.4,308.56 323.7,308.38 324,308.2 324.3,308.01 324.6,307.83 324.9,307.64 325.2,307.45 325.5,307.25 325.8,307.06 326.1,306.86 326.4,306.66 326.7,306.46 327,306.26 327.3,306.06 327.6,305.85 327.9,305.64 328.2,305.44 328.5,305.22 328.8,305.01 329.1,304.8 329.4,304.58 329.7,304.36 330,304.14 330.3,303.92 330.6,303.7 330.9,303.48" fill="none" stroke="#2222ee" stroke-width="1.35" stroke-linejoin="round"/>
<polyline points="33,354.2 33.3,354.2 33.6,354.2 33.9,354.2 34.2,354.2 34.5,354.2 34.8,354.2 35.1,354.2 35.4,354.2 35.7,354.2 36,354.2 36.3,354.2 36.6,354.2 36.9,354.2 37.2,354.2 37.5,354.2 37.8,354.2 38.1,354.2 38.4,354.2 38.7,354.2 39,354.2 39.3,354.2 39.6,354.2 39.9,354.2 40.2,354.2 40.5,354.2 40.8,354.2 41.1,354.2 41.4,354.2 41.7,354.2 42,354.2 42.3,354.21 42.6,354.21 42.9,354.21 43.2,354.21 43.5,354.21 43.8,354.21 44.1,354.21 44.4,354.21 44.7,354.21 45,354.21 45.3,354.21 45.6,354.21 45.9,354.21 46.2,354.21 46.5,354.21 46.8,354.21 47.1,354.21 47.4,354.21 47.7,354.21 48,354.21 48.3,354.21 48.6,354.21 48.9,354.22 49.2,354.22 49.5,354.22 49.8,354.22 50.1,354.22 50.4,354.22 50.7,354.22 51,354.22 51.3,354.22 51.6,354.22 51.9,354.22 52.2,354.22 52.5,354.22 52.8,354.22 53.1,354.22 53.4,354.23 53.7,354.23 54,354.23 54.3,354.23 54.6,354.23 54.9,354.23 55.2,354.23 55.5,354.23 55.8,354.23 56.1,354.23 56.4,354.23 56.7,354.23 57,354.23 57.3,354.24 57.6,354.24 57.9,354.24 58.2,354.24 58.5,354.24 58.8,354.24 59.1,354.24 59.4,354.24 59.7,354.24 60,354.24 60.3,354.24 60.6,354.25 60.9,354.25 61.2,354.25 61.5,354.25 61.8,354.25 62.1,354.25 62.4,354.25 62.7,354.25 63,354.25 63.3,354.26 63.6,354.26 63.9,354.26 64.2,354.26 64.5,354.26 64.8,354.26 65.1,354.26 65.4,354.26 65.7,354.26 66,354.27 66.3,354.27 66.6,354.27 66.9,354.27 67.2,354.27 67.5,354.27 67.8,354.27 68.1,354.27 68.4,354.28 68.7,354.28 69,354.28 69.3,354.28 69.6,354.28 69.9,354.28 70.2,354.28 70.5,354.28 70.8,354.29 71.1,354.29 71.4,354.29 71.7,354.29 72,354.29 72.3,354.29 72.6,354.29 72.9,354.3 73.2,354.3 73.5,354.3 73.8,354.3 74.1,354.3 74.4,354.3 74.7,354.31 75,354.31 75.3,354.31 75.6,354.31 75.9,354.32 76.2,354.32 76.5,354.32 76.8,354.33 77.1,354.33 77.4,354.33 77.7,354.34 78,354.34 78.3,354.35 78.6,354.35 78.9,354.36 79.2,354.36 79.5,354.37 79.8,354.37 80.1,354.38 80.4,354.38 80.7,354.39 81,354.39 81.3,354.4 81.6,354.4 81.9,354.41 82.2,354.42 82.5,354.42 82.8,354.43 83.1,354.44 83.4,354.44 83.7,354.45 84,354.46 84.3,354.46 84.6,354.47 84.9,354.48 85.2,354.48 85.5,354.49 85.8,354.5 86.1,354.5 86.4,354.51 86.7,354.52 87,354.53 87.3,354.53 87.6,354.54 87.9,354.55 88.2,354.56 88.5,354.56 88.8,354.57 89.1,354.58 89.4,354.59 89.7,354.59 90,354.6 90.3,354.61 90.6,354.62 90.9,354.62 91.2,354.63 91.5,354.64 91.8,354.65 92.1,354.66 92.4,354.66 92.7,354.67 93,354.68 93.3,354.69 93.6,354.7 93.9,354.71 94.2,354.72 94.5,354.73 94.8,354.74 95.1,354.75 95.4,354.76 95.7,354.76 96,354.77 96.3,354.78 96.6,354.8 96.9,354.81 97.2,354.82 97.5,354.83 97.8,354.84 98.1,354.85 98.4,354.86 98.7,354.87 99,354.88 99.3,354.89 99.6,354.9 99.9,354.91 100.2,354.93 100.5,354.94 100.8,354.95 101.1,354.96 101.4,354.97 101.7,354.99 102,355 102.3,355.01 102.6,355.02 102.9,355.03 103.2,355.05 103.5,355.06 103.8,355.07 104.1,355.08 104.4,355.1 104.7,355.11 105,355.12 105.3,355.14 105.6,355.15 105.9,355.16 106.2,355.18 106.5,355.19 106.8,355.2 107.1,355.22 107.4,355.23 107.7,355.24 108,355.26 108.3,355.27 108.6,355.28 108.9,355.3 109.2,355.31 109.5,355.32 109.8,355.34 110.1,355.35 110.4,355.37 110.7,355.38 111,355.39 111.3,355.41 111.6,355.42 111.9,355.44 112.2,355.45 112.5,355.47 112.8,355.48 113.1,355.5 113.4,355.51 113.7,355.52 114,355.54 114.3,355.55 114.6,355.57 114.9,355.58 115.2,355.6 115.5,355.62 115.8,355.63 116.1,355.65 116.4,355.66 116.7,355.68 117,355.7 117.3,355.71 117.6,355.73 117.9,355.74 118.2,355.76 118.5,355.78 118.8,355.8 119.1,355.81 119.4,355.83 119.7,355.85 120,355.87 120.3,355.88 120.6,355.9 120.9,355.92 121.2,355.94 121.5,355.95 121.8,355.97 122.1,355.99 122.4,356.01 122.7,356.03 123,356.05 123.3,356.07 123.6,356.09 123.9,356.11 124.2,356.12 124.5,356.14 124.8,356.16 125.1,356.18 125.4,356.2 125.7,356.22 126,356.24 126.3,356.26 126.6,356.28 126.9,356.3 127.2,356.32 127.5,356.34 127.8,356.37 128.1,356.39 128.4,356.41 128.7,356.43 129,356.45 129.3,356.47 129.6,356.49 129.9,356.51 130.2,356.53 130.5,356.56 130.8,356.58 131.1,356.6 131.4,356.62 131.7,356.64 132,356.67 132.3,356.69 132.6,356.71 132.9,356.73 133.2,356.75 133.5,356.78 133.8,356.8 134.1,356.82 134.4,356.85 134.7,356.87 135,356.89 135.3,356.91 135.6,356.94 135.9,356.96 136.2,356.99 136.5,357.01 136.8,357.03 137.1,357.06 137.4,357.08 137.7,357.11 138,357.13 138.3,357.16 138.6,357.18 138.9,357.21 139.2,357.23 139.5,357.26 139.8,357.28 140.1,357.31 140.4,357.33 140.7,357.36 141,357.39 141.3,357.41 141.6,357.44 141.9,357.47 142.2,357.49 142.5,357.52 142.8,357.55 143.1,357.58 143.4,357.61 143.7,357.63 144,357.66 144.3,357.69 144.6,357.72 144.9,357.75 145.2,357.78 145.5,357.81 145.8,357.84 146.1,357.87 146.4,357.9 146.7,357.93 147,357.97 147.3,358 147.6,358.03 147.9,358.06 148.2,358.1 148.5,358.13 148.8,358.16 149.1,358.2 149.4,358.23 149.7,358.27 150,358.3 150.3,358.34 150.6,358.37 150.9,358.41 151.2,358.45 151.5,358.5 151.8,358.54 152.1,358.58 152.4,358.63 152.7,358.68 153,358.72 153.3,358.77 153.6,358.82 153.9,358.87 154.2,358.92 154.5,358.97 154.8,359.02 155.1,359.07 155.4,359.12 155.7,359.17 156,359.22 156.3,359.27 156.6,359.32 156.9,359.36 157.2,359.41 157.5,359.46 157.8,359.5 158.1,359.55 158.4,359.59 158.7,359.63 159,359.67 159.3,359.71 159.6,359.75 159.9,359.79 160.2,359.82 160.5,359.86 160.8,359.89 161.1,359.93 161.4,359.96 161.7,359.99 162,360.03 162.3,360.06 162.6,360.1 162.9,360.13 163.2,360.16 163.5,360.2 163.8,360.23 164.1,360.26 164.4,360.29 164.7,360.33 165,360.36 165.3,360.39 165.6,360.42 165.9,360.46 166.2,360.49 166.5,360.52 166.8,360.55 167.1,360.58 167.4,360.61 167.7,360.64 168,360.67 168.3,360.7 168.6,360.73 168.9,360.76 169.2,360.79 169.5,360.82 169.8,360.85 170.1,360.87 170.4,360.9 170.7,360.93 171,360.96 171.3,360.98 171.6,361.01 171.9,361.04 172.2,361.06 172.5,361.09 172.8,361.11 173.1,361.14 173.4,361.16 173.7,361.19 174,361.21 174.3,361.23 174.6,361.26 174.9,361.28 175.2,361.3 175.5,361.32 175.8,361.34 176.1,361.37 176.4,361.39 176.7,361.41 177,361.43 177.3,361.45 177.6,361.46 177.9,361.48 178.2,361.5 178.5,361.52 178.8,361.54 179.1,361.55 179.4,361.57 179.7,361.58 180,361.6 180.3,361.61 180.6,361.63 180.9,361.64 181.2,361.66 181.5,361.67 181.8,361.69 182.1,361.7 182.4,361.71 182.7,361.73 183,361.74 183.3,361.75 183.6,361.76 183.9,361.78 184.2,361.79 184.5,361.8 184.8,361.81 185.1,361.82 185.4,361.84 185.7,361.85 186,361.86 186.3,361.87 186.6,361.88 186.9,361.89 187.2,361.9 187.5,361.91 187.8,361.92 188.1,361.93 188.4,361.94 188.7,361.95 189,361.96 189.3,361.97 189.6,361.98 189.9,361.99 190.2,362 190.5,362.01 190.8,362.02 191.1,362.02 191.4,362.03 191.7,362.04 192,362.05 192.3,362.06 192.6,362.07 192.9,362.08 193.2,362.08 193.5,362.09 193.8,362.1 194.1,362.11 194.4,362.12 194.7,362.13 195,362.13 195.3,362.14 195.6,362.15 195.9,362.16 196.2,362.17 196.5,362.17 196.8,362.18 197.1,362.19 197.4,362.2 197.7,362.21 198,362.22 198.3,362.22 198.6,362.23 198.9,362.24 199.2,362.25 199.5,362.26 199.8,362.26 200.1,362.27 200.4,362.28 200.7,362.29 201,362.3 201.3,362.31 201.6,362.32 201.9,362.32 202.2,362.33 202.5,362.34 202.8,362.35 203.1,362.36 203.4,362.37 203.7,362.38 204,362.39 204.3,362.4 204.6,362.41 204.9,362.42 205.2,362.42 205.5,362.43 205.8,362.44 206.1,362.45 206.4,362.47 206.7,362.48 207,362.49 207.3,362.5 207.6,362.51 207.9,362.52 208.2,362.53 208.5,362.54 208.8,362.55 209.1,362.56 209.4,362.58 209.7,362.59 210,362.6 210.3,362.61 210.6,362.63 210.9,362.64 211.2,362.65 211.5,362.66 211.8,362.68 212.1,362.69 212.4,362.71 212.7,362.72 213,362.73 213.3,362.75 213.6,362.76 213.9,362.78 214.2,362.79 214.5,362.81 214.8,362.82 215.1,362.84 215.4,362.85 215.7,362.87 216,362.89 216.3,362.9 216.6,362.92 216.9,362.93 217.2,362.95 217.5,362.97 217.8,362.98 218.1,363 218.4,363.02 218.7,363.03 219,363.05 219.3,363.07 219.6,363.08 219.9,363.1 220.2,363.12 220.5,363.14 220.8,363.15 221.1,363.17 221.4,363.19 221.7,363.21 222,363.22 222.3,363.24 222.6,363.26 222.9,363.28 223.2,363.29 223.5,363.31 223.8,363.33 224.1,363.35 224.4,363.36 224.7,363.38 225,363.4 225.3,363.42 225.6,363.43 225.9,363.45 226.2,363.47 226.5,363.48 226.8,363.5 227.1,363.52 227.4,363.54 227.7,363.55 228,363.57 228.3,363.59 228.6,363.6 228.9,363.62 229.2,363.64 229.5,363.65 229.8,363.67 230.1,363.69 230.4,363.7 230.7,363.72 231,363.73 231.3,363.75 231.6,363.77 231.9,363.78 232.2,363.8 232.5,363.81 232.8,363.83 233.1,363.84 233.4,363.86 233.7,363.87 234,363.88 234.3,363.9 234.6,363.91 234.9,363.93 235.2,363.94 235.5,363.95 235.8,363.97 236.1,363.98 236.4,363.99 236.7,364 237,364.02 237.3,364.03 237.6,364.04 237.9,364.05 238.2,364.07 238.5,364.08 238.8,364.09 239.1,364.11 239.4,364.12 239.7,364.13 240,364.15 240.3,364.16 240.6,364.18 240.9,364.19 241.2,364.2 241.5,364.22 241.8,364.23 242.1,364.24 242.4,364.26 242.7,364.27 243,364.29 243.3,364.3 243.6,364.31 243.9,364.33 244.2,364.34 244.5,364.36 244.8,364.37 245.1,364.38 245.4,364.4 245.7,364.41 246,364.42 246.3,364.44 246.6,364.45 246.9,364.46 247.2,364.47 247.5,364.49 247.8,364.5 248.1,364.51 248.4,364.52 248.7,364.54 249,364.55 249.3,364.56 249.6,364.57 249.9,364.58 250.2,364.6 250.5,364.61 250.8,364.62 251.1,364.63 251.4,364.64 251.7,364.65 252,364.66 252.3,364.67 252.6,364.68 252.9,364.69 253.2,364.69 253.5,364.7 253.8,364.71 254.1,364.72 254.4,364.73 254.7,364.73 255,364.74 255.3,364.75 255.6,364.75 255.9,364.76 256.2,364.76 256.5,364.77 256.8,364.77 257.1,364.78 257.4,364.78 257.7,364.79 258,364.79 258.3,364.79 258.6,364.8 258.9,364.8 259.2,364.8 259.5,364.8 259.8,364.8 260.1,364.8 260.4,364.8 260.7,364.8 261,364.8 261.3,364.8 261.6,364.8 261.9,364.8 262.2,364.8 262.5,364.79 262.8,364.79 263.1,364.79 263.4,364.79 263.7,364.79 264,364.78 264.3,364.78 264.6,364.78 264.9,364.78 265.2,364.77 265.5,364.77 265.8,364.77 266.1,364.76 266.4,364.76 266.7,364.76 267,364.75 267.3,364.75 267.6,364.74 267.9,364.74 268.2,364.73 268.5,364.73 268.8,364.72 269.1,364.72 269.4,364.71 269.7,364.71 270,364.7 270.3,364.69 270.6,364.69 270.9,364.68 271.2,364.68 271.5,364.67 271.8,364.66 272.1,364.65 272.4,364.65 272.7,364.64 273,364.63 273.3,364.62 273.6,364.62 273.9,364.61 274.2,364.6 274.5,364.59 274.8,364.58 275.1,364.57 275.4,364.56 275.7,364.55 276,364.54 276.3,364.53 276.6,364.52 276.9,364.51 277.2,364.5 277.5,364.49 277.8,364.48 278.1,364.45 278.4,364.43 278.7,364.4 279,364.37 279.3,364.33 279.6,364.29 279.9,364.24 280.2,364.2 280.5,364.15 280.8,364.1 281.1,364.04 281.4,363.98 281.7,363.92 282,363.86 282.3,363.8 282.6,363.74 282.9,363.67 283.2,363.6 283.5,363.54 283.8,363.47 284.1,363.4 284.4,363.33 284.7,363.27 285,363.2 285.3,363.13 285.6,363.06 285.9,362.99 286.2,362.91 286.5,362.84 286.8,362.76 287.1,362.67 287.4,362.59 287.7,362.5 288,362.41 288.3,362.32 288.6,362.23 288.9,362.13 289.2,362.03 289.5,361.93 289.8,361.83 290.1,361.72 290.4,361.61 290.7,361.5 291,361.38 291.3,361.27 291.6,361.15 291.9,361.03 292.2,360.9 292.5,360.77 292.8,360.64 293.1,360.51 293.4,360.37 293.7,360.22 294,360.07 294.3,359.91 294.6,359.75 294.9,359.58 295.2,359.4 295.5,359.22 295.8,359.03 296.1,358.84 296.4,358.64 296.7,358.44 297,358.24 297.3,358.03 297.6,357.81 297.9,357.6 298.2,357.38 298.5,357.16 298.8,356.93 299.1,356.7 299.4,356.47 299.7,356.24 300,356 300.3,355.77 300.6,355.53 300.9,355.29 301.2,355.05 301.5,354.8 301.8,354.56 302.1,354.32 302.4,354.07 302.7,353.82 303,353.56 303.3,353.29 303.6,353.02 303.9,352.74 304.2,352.46 304.5,352.18 304.8,351.89 305.1,351.6 305.4,351.3 305.7,351 306,350.7 306.3,350.39 306.6,350.08 306.9,349.77 307.2,349.46 307.5,349.14 307.8,348.83 308.1,348.51 308.4,348.19 308.7,347.87 309,347.55 309.3,347.23 309.6,346.9 309.9,346.58 310.2,346.26 310.5,345.94 310.8,345.62 311.1,345.31 311.4,344.99 311.7,344.67 312,344.35 312.3,344.02 312.6,343.7 312.9,343.37 313.2,343.04 313.5,342.71 313.8,342.38 314.1,342.05 314.4,341.71 314.7,341.37 315,341.04 315.3,340.7 315.6,340.36 315.9,340.02 316.2,339.68 316.5,339.34 316.8,339 317.1,338.66 317.4,338.32 317.7,337.98 318,337.64 318.3,337.29 318.6,336.95 318.9,336.61 319.2,336.27 319.5,335.93 319.8,335.58 320.1,335.23 320.4,334.88 320.7,334.53 321,334.18 321.3,333.83 321.6,333.47 321.9,333.12 322.2,332.77 322.5,332.42 322.8,332.07 323.1,331.72 323.4,331.38 323.7,331.03 324,330.7 324.3,330.36 324.6,330.03 324.9,329.71 325.2,329.39 325.5,329.07 325.8,328.75 326.1,328.44 326.4,328.12 326.7,327.81 327,327.5 327.3,327.2 327.6,326.89 327.9,326.59 328.2,326.29 328.5,325.99 328.8,325.7 329.1,325.4 329.4,325.11 329.7,324.82 330,324.54 330.3,324.25 330.6,323.97 330.9,323.69" fill="none" stroke="#ee2222" stroke-width="1.35" stroke-linejoin="round"/>
<polyline points="33,390.2 33.3,390.19 33.6,390.18 33.9,390.17 34.2,390.16 34.5,390.15 34.8,390.14 35.1,390.13 35.4,390.12 35.7,390.11 36,390.1 36.3,390.09 36.6,390.08 36.9,390.07 37.2,390.06 37.5,390.05 37.8,390.05 38.1,390.04 38.4,390.03 38.7,390.02 39,390.01 39.3,390.01 39.6,390 39.9,389.99 40.2,389.99 40.5,389.98 40.8,389.97 41.1,389.97 41.4,389.96 41.7,389.95 42,389.95 42.3,389.94 42.6,389.94 42.9,389.93 43.2,389.93 43.5,389.92 43.8,389.92 44.1,389.91 44.4,389.91 44.7,389.9 45,389.9 45.3,389.89 45.6,389.89 45.9,389.89 46.2,389.88 46.5,389.88 46.8,389.87 47.1,389.87 47.4,389.87 47.7,389.86 48,389.86 48.3,389.86 48.6,389.85 48.9,389.85 49.2,389.85 49.5,389.85 49.8,389.84 50.1,389.84 50.4,389.84 50.7,389.84 51,389.83 51.3,389.83 51.6,389.83 51.9,389.83 52.2,389.83 52.5,389.82 52.8,389.82 53.1,389.82 53.4,389.82 53.7,389.82 54,389.82 54.3,389.81 54.6,389.81 54.9,389.81 55.2,389.81 55.5,389.81 55.8,389.81 56.1,389.81 56.4,389.81 56.7,389.81 57,389.81 57.3,389.81 57.6,389.8 57.9,389.8 58.2,389.8 58.5,389.8 58.8,389.8 59.1,389.8 59.4,389.8 59.7,389.8 60,389.8 60.3,389.8 60.6,389.8 60.9,389.8 61.2,389.8 61.5,389.8 61.8,389.8 62.1,389.8 62.4,389.8 62.7,389.8 63,389.8 63.3,389.8 63.6,389.8 63.9,389.8 64.2,389.8 64.5,389.8 64.8,389.8 65.1,389.8 65.4,389.8 65.7,389.8 66,389.8 66.3,389.81 66.6,389.81 66.9,389.81 67.2,389.81 67.5,389.82 67.8,389.82 68.1,389.83 68.4,389.83 68.7,389.84 69,389.85 69.3,389.85 69.6,389.86 69.9,389.87 70.2,389.88 70.5,389.89 70.8,389.9 71.1,389.91 71.4,389.92 71.7,389.93 72,389.94 72.3,389.95 72.6,389.96 72.9,389.97 73.2,389.98 73.5,390 73.8,390.01 74.1,390.02 74.4,390.04 74.7,390.05 75,390.07 75.3,390.08 75.6,390.1 75.9,390.11 76.2,390.13 76.5,390.14 76.8,390.16 77.1,390.18 77.4,390.19 77.7,390.21 78,390.23 78.3,390.24 78.6,390.26 78.9,390.28 79.2,390.3 79.5,390.32 79.8,390.33 80.1,390.35 80.4,390.37 80.7,390.39 81,390.41 81.3,390.43 81.6,390.45 81.9,390.47 82.2,390.49 82.5,390.51 82.8,390.53 83.1,390.55 83.4,390.57 83.7,390.59 84,390.61 84.3,390.63 84.6,390.65 84.9,390.67 85.2,390.69 85.5,390.71 85.8,390.73 86.1,390.76 86.4,390.78 86.7,390.8 87,390.82 87.3,390.84 87.6,390.86 87.9,390.88 88.2,390.9 88.5,390.92 88.8,390.94 89.1,390.96 89.4,390.99 89.7,391.01 90,391.03 90.3,391.05 90.6,391.07 90.9,391.09 91.2,391.11 91.5,391.13 91.8,391.15 92.1,391.17 92.4,391.19 92.7,391.21 93,391.23 93.3,391.25 93.6,391.27 93.9,391.29 94.2,391.31 94.5,391.33 94.8,391.34 95.1,391.36 95.4,391.38 95.7,391.4 96,391.42 96.3,391.44 96.6,391.45 96.9,391.47 97.2,391.49 97.5,391.51 97.8,391.53 98.1,391.55 98.4,391.56 98.7,391.58 99,391.6 99.3,391.62 99.6,391.64 99.9,391.66 100.2,391.67 100.5,391.69 100.8,391.71 101.1,391.73 101.4,391.75 101.7,391.77 102,391.79 102.3,391.8 102.6,391.82 102.9,391.84 103.2,391.86 103.5,391.88 103.8,391.9 104.1,391.92 104.4,391.94 104.7,391.96 105,391.97 105.3,391.99 105.6,392.01 105.9,392.03 106.2,392.05 106.5,392.07 106.8,392.09 107.1,392.11 107.4,392.13 107.7,392.15 108,392.17 108.3,392.19 108.6,392.21 108.9,392.23 109.2,392.25 109.5,392.27 109.8,392.29 110.1,392.31 110.4,392.33 110.7,392.35 111,392.37 111.3,392.39 111.6,392.41 111.9,392.43 112.2,392.45 112.5,392.47 112.8,392.49 113.1,392.51 113.4,392.53 113.7,392.55 114,392.57 114.3,392.59 114.6,392.61 114.9,392.63 115.2,392.65 115.5,392.67 115.8,392.69 116.1,392.72 116.4,392.74 116.7,392.76 117,392.78 117.3,392.8 117.6,392.82 117.9,392.84 118.2,392.86 118.5,392.89 118.8,392.91 119.1,392.93 119.4,392.95 119.7,392.97 120,392.99 120.3,393.02 120.6,393.04 120.9,393.06 121.2,393.08 121.5,393.11 121.8,393.13 122.1,393.15 122.4,393.17 122.7,393.19 123,393.22 123.3,393.24 123.6,393.26 123.9,393.29 124.2,393.31 124.5,393.33 124.8,393.36 125.1,393.38 125.4,393.4 125.7,393.43 126,393.45 126.3,393.47 126.6,393.5 126.9,393.52 127.2,393.54 127.5,393.57 127.8,393.59 128.1,393.62 128.4,393.64 128.7,393.66 129,393.69 129.3,393.71 129.6,393.74 129.9,393.76 130.2,393.79 130.5,393.81 130.8,393.84 131.1,393.86 131.4,393.89 131.7,393.91 132,393.94 132.3,393.96 132.6,393.99 132.9,394.01 133.2,394.04 133.5,394.06 133.8,394.09 134.1,394.12 134.4,394.14 134.7,394.17 135,394.19 135.3,394.22 135.6,394.25 135.9,394.27 136.2,394.3 136.5,394.33 136.8,394.35 137.1,394.38 137.4,394.41 137.7,394.43 138,394.46 138.3,394.49 138.6,394.52 138.9,394.54 139.2,394.57 139.5,394.6 139.8,394.63 140.1,394.66 140.4,394.69 140.7,394.72 141,394.75 141.3,394.78 141.6,394.81 141.9,394.84 142.2,394.87 142.5,394.91 142.8,394.94 143.1,394.98 143.4,395.01 143.7,395.05 144,395.08 144.3,395.12 144.6,395.15 144.9,395.19 145.2,395.23 145.5,395.26 145.8,395.3 146.1,395.34 146.4,395.38 146.7,395.41 147,395.45 147.3,395.49 147.6,395.53 147.9,395.57 148.2,395.61 148.5,395.65 148.8,395.69 149.1,395.73 149.4,395.77 149.7,395.8 150,395.84 150.3,395.88 150.6,395.92 150.9,395.96 151.2,396 151.5,396.04 151.8,396.08 152.1,396.12 152.4,396.16 152.7,396.2 153,396.24 153.3,396.28 153.6,396.32 153.9,396.35 154.2,396.39 154.5,396.43 154.8,396.47 155.1,396.51 155.4,396.54 155.7,396.58 156,396.62 156.3,396.65 156.6,396.69 156.9,396.72 157.2,396.76 157.5,396.79 157.8,396.83 158.1,396.86 158.4,396.9 158.7,396.93 159,396.96 159.3,396.99 159.6,397.02 159.9,397.05 160.2,397.09 160.5,397.11 160.8,397.14 161.1,397.17 161.4,397.2 161.7,397.23 162,397.25 162.3,397.28 162.6,397.31 162.9,397.33 163.2,397.36 163.5,397.39 163.8,397.41 164.1,397.44 164.4,397.46 164.7,397.49 165,397.51 165.3,397.54 165.6,397.56 165.9,397.58 166.2,397.61 166.5,397.63 166.8,397.65 167.1,397.68 167.4,397.7 167.7,397.72 168,397.75 168.3,397.77 168.6,397.79 168.9,397.81 169.2,397.84 169.5,397.86 169.8,397.88 170.1,397.9 170.4,397.92 170.7,397.94 171,397.97 171.3,397.99 171.6,398.01 171.9,398.03 172.2,398.05 172.5,398.07 172.8,398.09 173.1,398.12 173.4,398.14 173.7,398.16 174,398.18 174.3,398.2 174.6,398.22 174.9,398.24 175.2,398.26 175.5,398.28 175.8,398.3 176.1,398.32 176.4,398.35 176.7,398.37 177,398.39 177.3,398.41 177.6,398.43 177.9,398.45 178.2,398.47 178.5,398.49 178.8,398.51 179.1,398.54 179.4,398.56 179.7,398.58 180,398.6 180.3,398.62 180.6,398.64 180.9,398.66 181.2,398.68 181.5,398.71 181.8,398.73 182.1,398.75 182.4,398.77 182.7,398.79 183,398.81 183.3,398.83 183.6,398.85 183.9,398.87 184.2,398.89 184.5,398.91 184.8,398.93 185.1,398.95 185.4,398.97 185.7,398.99 186,399.01 186.3,399.03 186.6,399.05 186.9,399.07 187.2,399.09 187.5,399.11 187.8,399.13 188.1,399.16 188.4,399.18 188.7,399.2 189,399.22 189.3,399.25 189.6,399.27 189.9,399.29 190.2,399.32 190.5,399.34 190.8,399.36 191.1,399.39 191.4,399.41 191.7,399.44 192,399.46 192.3,399.49 192.6,399.51 192.9,399.54 193.2,399.56 193.5,399.59 193.8,399.61 194.1,399.64 194.4,399.67 194.7,399.69 195,399.72 195.3,399.74 195.6,399.77 195.9,399.8 196.2,399.82 196.5,399.85 196.8,399.88 197.1,399.91 197.4,399.93 197.7,399.96 198,399.99 198.3,400.01 198.6,400.04 198.9,400.07 199.2,400.1 199.5,400.13 199.8,400.15 200.1,400.18 200.4,400.21 200.7,400.24 201,400.27 201.3,400.3 201.6,400.33 201.9,400.36 202.2,400.38 202.5,400.41 202.8,400.44 203.1,400.47 203.4,400.5 203.7,400.53 204,400.56 204.3,400.59 204.6,400.62 204.9,400.65 205.2,400.68 205.5,400.71 205.8,400.74 206.1,400.77 206.4,400.8 206.7,400.83 207,400.87 207.3,400.9 207.6,400.93 207.9,400.96 208.2,400.99 208.5,401.02 208.8,401.05 209.1,401.08 209.4,401.12 209.7,401.15 210,401.18 210.3,401.21 210.6,401.24 210.9,401.28 211.2,401.31 211.5,401.34 211.8,401.37 212.1,401.41 212.4,401.44 212.7,401.47 213,401.5 213.3,401.54 213.6,401.57 213.9,401.6 214.2,401.64 214.5,401.67 214.8,401.7 215.1,401.74 215.4,401.77 215.7,401.8 216,401.84 216.3,401.87 216.6,401.9 216.9,401.94 217.2,401.97 217.5,402.01 217.8,402.04 218.1,402.07 218.4,402.11 218.7,402.14 219,402.18 219.3,402.21 219.6,402.25 219.9,402.28 220.2,402.31 220.5,402.35 220.8,402.38 221.1,402.41 221.4,402.44 221.7,402.48 222,402.51 222.3,402.54 222.6,402.57 222.9,402.6 223.2,402.63 223.5,402.66 223.8,402.7 224.1,402.73 224.4,402.76 224.7,402.79 225,402.82 225.3,402.85 225.6,402.88 225.9,402.91 226.2,402.94 226.5,402.97 226.8,403 227.1,403.03 227.4,403.06 227.7,403.09 228,403.12 228.3,403.15 228.6,403.18 228.9,403.21 229.2,403.24 229.5,403.27 229.8,403.3 230.1,403.33 230.4,403.36 230.7,403.4 231,403.43 231.3,403.46 231.6,403.49 231.9,403.53 232.2,403.56 232.5,403.59 232.8,403.63 233.1,403.66 233.4,403.69 233.7,403.73 234,403.76 234.3,403.8 234.6,403.83 234.9,403.87 235.2,403.91 235.5,403.94 235.8,403.98 236.1,404.02 236.4,404.06 236.7,404.1 237,404.14 237.3,404.18 237.6,404.22 237.9,404.26 238.2,404.3 238.5,404.34 238.8,404.39 239.1,404.43 239.4,404.48 239.7,404.52 240,404.57 240.3,404.61 240.6,404.66 240.9,404.71 241.2,404.76 241.5,404.81 241.8,404.86 242.1,404.91 242.4,404.96 242.7,405.01 243,405.07 243.3,405.12 243.6,405.18 243.9,405.23 244.2,405.29 244.5,405.35 244.8,405.41 245.1,405.47 245.4,405.53 245.7,405.59 246,405.66 246.3,405.72 246.6,405.79 246.9,405.85 247.2,405.92 247.5,405.99 247.8,406.06 248.1,406.13 248.4,406.2 248.7,406.3 249,406.43 249.3,406.6 249.6,406.77 249.9,406.94 250.2,407.09 250.5,407.21 250.8,407.28 251.1,407.3 251.4,407.27 251.7,407.21 252,407.13 252.3,407.02 252.6,406.9 252.9,406.76 253.2,406.6 253.5,406.45 253.8,406.28 254.1,406.12 254.4,405.96 254.7,405.81 255,405.67 255.3,405.54 255.6,405.43 255.9,405.34 256.2,405.25 256.5,405.17 256.8,405.09 257.1,405.01 257.4,404.94 257.7,404.87 258,404.8 258.3,404.73 258.6,404.66 258.9,404.6 259.2,404.53 259.5,404.47 259.8,404.41 260.1,404.36 260.4,404.3 260.7,404.24 261,404.19 261.3,404.13 261.6,404.08 261.9,404.03 262.2,403.98 262.5,403.92 262.8,403.87 263.1,403.82 263.4,403.77 263.7,403.71 264,403.66 264.3,403.61 264.6,403.55 264.9,403.5 265.2,403.44 265.5,403.38 265.8,403.33 266.1,403.27 266.4,403.2 266.7,403.14 267,403.08 267.3,403.01 267.6,402.94 267.9,402.87 268.2,402.79 268.5,402.72 268.8,402.64 269.1,402.56 269.4,402.47 269.7,402.39 270,402.29 270.3,402.2 270.6,402.1 270.9,402 271.2,401.89 271.5,401.78 271.8,401.66 272.1,401.54 272.4,401.42 272.7,401.29 273,401.15 273.3,401.02 273.6,400.87 273.9,400.73 274.2,400.58 274.5,400.43 274.8,400.27 275.1,400.11 275.4,399.95 275.7,399.78 276,399.61 276.3,399.43 276.6,399.26 276.9,399.08 277.2,398.89 277.5,398.71 277.8,398.52 278.1,398.33 278.4,398.13 278.7,397.93 279,397.73 279.3,397.53 279.6,397.33 279.9,397.12 280.2,396.91 280.5,396.7 280.8,396.48 281.1,396.24 281.4,395.99 281.7,395.73 282,395.45 282.3,395.17 282.6,394.88 282.9,394.58 283.2,394.28 283.5,393.98 283.8,393.68 284.1,393.38 284.4,393.08 284.7,392.79 285,392.5 285.3,392.22 285.6,391.94 285.9,391.66 286.2,391.38 286.5,391.11 286.8,390.83 287.1,390.56 287.4,390.28 287.7,390.01 288,389.73 288.3,389.45 288.6,389.17 288.9,388.89 289.2,388.6 289.5,388.32 289.8,388.02 290.1,387.73 290.4,387.43 290.7,387.13 291,386.82 291.3,386.51 291.6,386.19 291.9,385.87 292.2,385.54 292.5,385.21 292.8,384.88 293.1,384.54 293.4,384.19 293.7,383.85 294,383.49 294.3,383.14 294.6,382.78 294.9,382.42 295.2,382.05 295.5,381.69 295.8,381.32 296.1,380.94 296.4,380.57 296.7,380.19 297,379.81 297.3,379.43 297.6,379.04 297.9,378.66 298.2,378.27 298.5,377.88 298.8,377.48 299.1,377.08 299.4,376.68 299.7,376.27 300,375.86 300.3,375.45 300.6,375.03 300.9,374.61 301.2,374.18 301.5,373.76 301.8,373.33 302.1,372.9 302.4,372.47 302.7,372.04 303,371.61 303.3,371.18 303.6,370.74 303.9,370.31 304.2,369.88 304.5,369.44 304.8,369.01 305.1,368.57 305.4,368.13 305.7,367.68 306,367.23 306.3,366.78 306.6,366.32 306.9,365.86 307.2,365.41 307.5,364.95 307.8,364.49 308.1,364.03 308.4,363.58 308.7,363.12 309,362.67 309.3,362.22 309.6,361.78 309.9,361.34 310.2,360.9 310.5,360.47 310.8,360.05 311.1,359.64 311.4,359.23 311.7,358.81 312,358.39 312.3,357.96 312.6,357.54 312.9,357.11 313.2,356.69 313.5,356.28 313.8,355.87 314.1,355.47 314.4,355.08 314.7,354.7 315,354.34 315.3,354 315.6,353.67 315.9,353.36 316.2,353.08 316.5,352.81 316.8,352.56 317.1,352.31 317.4,352.07 317.7,351.83 318,351.61 318.3,351.39 318.6,351.17 318.9,350.97 319.2,350.78 319.5,350.6 319.8,350.43 320.1,350.28 320.4,350.14 320.7,350.01 321,349.9 321.3,349.8 321.6,349.69 321.9,349.59 322.2,349.49 322.5,349.4 322.8,349.32 323.1,349.24 323.4,349.18 323.7,349.14 324,349.11 324.3,349.1 324.6,349.1 324.9,349.1 325.2,349.1 325.5,349.1 325.8,349.1 326.1,349.1 326.4,349.1 326.7,349.1 327,349.1 327.3,349.1 327.6,349.1 327.9,349.11 328.2,349.12 328.5,349.13 328.8,349.15 329.1,349.18 329.4,349.21 329.7,349.24 330,349.27 330.3,349.31 330.6,349.35 330.9,349.39" fill="none" stroke="#111111" stroke-width="1.35" stroke-linejoin="round"/>
<polyline points="33,429.2 33.3,429.19 33.6,429.19 33.9,429.18 34.2,429.18 34.5,429.17 34.8,429.17 35.1,429.16 35.4,429.16 35.7,429.15 36,429.15 36.3,429.14 36.6,429.14 36.9,429.13 37.2,429.13 37.5,429.12 37.8,429.12 38.1,429.11 38.4,429.11 38.7,429.11 39,429.1 39.3,429.1 39.6,429.09 39.9,429.09 40.2,429.09 40.5,429.08 40.8,429.08 41.1,429.08 41.4,429.07 41.7,429.07 42,429.07 42.3,429.07 42.6,429.06 42.9,429.06 43.2,429.06 43.5,429.05 43.8,429.05 44.1,429.05 44.4,429.05 44.7,429.04 45,429.04 45.3,429.04 45.6,429.04 45.9,429.04 46.2,429.03 46.5,429.03 46.8,429.03 47.1,429.03 47.4,429.03 47.7,429.03 48,429.02 48.3,429.02 48.6,429.02 48.9,429.02 49.2,429.02 49.5,429.02 49.8,429.02 50.1,429.02 50.4,429.01 50.7,429.01 51,429.01 51.3,429.01 51.6,429.01 51.9,429.01 52.2,429.01 52.5,429.01 52.8,429.01 53.1,429.01 53.4,429.01 53.7,429.01 54,429.01 54.3,429 54.6,429 54.9,429 55.2,429 55.5,429 55.8,429 56.1,429 56.4,429 56.7,429 57,429 57.3,429 57.6,429 57.9,429 58.2,429 58.5,429 58.8,429 59.1,429 59.4,429 59.7,429 60,429 60.3,429 60.6,429 60.9,429 61.2,429 61.5,429 61.8,429 62.1,429 62.4,429 62.7,429 63,429 63.3,429 63.6,429.01 63.9,429.01 64.2,429.02 64.5,429.02 64.8,429.03 65.1,429.04 65.4,429.06 65.7,429.07 66,429.08 66.3,429.1 66.6,429.11 66.9,429.13 67.2,429.15 67.5,429.17 67.8,429.19 68.1,429.21 68.4,429.23 68.7,429.26 69,429.28 69.3,429.31 69.6,429.33 69.9,429.36 70.2,429.38 70.5,429.41 70.8,429.44 71.1,429.47 71.4,429.5 71.7,429.53 72,429.56 72.3,429.59 72.6,429.62 72.9,429.65 73.2,429.68 73.5,429.72 73.8,429.75 74.1,429.78 74.4,429.81 74.7,429.85 75,429.88 75.3,429.91 75.6,429.94 75.9,429.98 76.2,430.01 76.5,430.04 76.8,430.07 77.1,430.11 77.4,430.14 77.7,430.17 78,430.2 78.3,430.23 78.6,430.26 78.9,430.29 79.2,430.32 79.5,430.35 79.8,430.38 80.1,430.41 80.4,430.44 80.7,430.47 81,430.5 81.3,430.53 81.6,430.56 81.9,430.59 82.2,430.62 82.5,430.65 82.8,430.68 83.1,430.71 83.4,430.74 83.7,430.78 84,430.81 84.3,430.84 84.6,430.87 84.9,430.91 85.2,430.94 85.5,430.97 85.8,431.01 86.1,431.04 86.4,431.07 86.7,431.11 87,431.14 87.3,431.18 87.6,431.21 87.9,431.25 88.2,431.28 88.5,431.31 88.8,431.35 89.1,431.38 89.4,431.42 89.7,431.45 90,431.49 90.3,431.52 90.6,431.56 90.9,431.59 91.2,431.62 91.5,431.66 91.8,431.69 92.1,431.73 92.4,431.76 92.7,431.79 93,431.83 93.3,431.86 93.6,431.89 93.9,431.92 94.2,431.96 94.5,431.99 94.8,432.02 95.1,432.05 95.4,432.09 95.7,432.12 96,432.15 96.3,432.18 96.6,432.22 96.9,432.25 97.2,432.28 97.5,432.32 97.8,432.35 98.1,432.38 98.4,432.42 98.7,432.45 99,432.48 99.3,432.52 99.6,432.55 99.9,432.59 100.2,432.62 100.5,432.66 100.8,432.69 101.1,432.72 101.4,432.76 101.7,432.79 102,432.83 102.3,432.86 102.6,432.9 102.9,432.93 103.2,432.97 103.5,433 103.8,433.04 104.1,433.07 104.4,433.1 104.7,433.14 105,433.17 105.3,433.21 105.6,433.24 105.9,433.28 106.2,433.31 106.5,433.35 106.8,433.38 107.1,433.41 107.4,433.45 107.7,433.48 108,433.52 108.3,433.55 108.6,433.58 108.9,433.62 109.2,433.65 109.5,433.68 109.8,433.72 110.1,433.75 110.4,433.78 110.7,433.81 111,433.85 111.3,433.88 111.6,433.91 111.9,433.94 112.2,433.98 112.5,434.01 112.8,434.04 113.1,434.07 113.4,434.1 113.7,434.13 114,434.16 114.3,434.19 114.6,434.22 114.9,434.25 115.2,434.28 115.5,434.31 115.8,434.34 116.1,434.37 116.4,434.4 116.7,434.43 117,434.46 117.3,434.48 117.6,434.51 117.9,434.54 118.2,434.56 118.5,434.59 118.8,434.62 119.1,434.64 119.4,434.67 119.7,434.69 120,434.72 120.3,434.74 120.6,434.77 120.9,434.79 121.2,434.81 121.5,434.84 121.8,434.86 122.1,434.88 122.4,434.9 122.7,434.93 123,434.95 123.3,434.97 123.6,434.99 123.9,435.01 124.2,435.03 124.5,435.05 124.8,435.06 125.1,435.08 125.4,435.1 125.7,435.12 126,435.14 126.3,435.16 126.6,435.17 126.9,435.19 127.2,435.21 127.5,435.23 127.8,435.24 128.1,435.26 128.4,435.28 128.7,435.29 129,435.31 129.3,435.32 129.6,435.34 129.9,435.36 130.2,435.37 130.5,435.39 130.8,435.4 131.1,435.42 131.4,435.43 131.7,435.45 132,435.46 132.3,435.48 132.6,435.49 132.9,435.5 133.2,435.52 133.5,435.53 133.8,435.55 134.1,435.56 134.4,435.57 134.7,435.59 135,435.6 135.3,435.62 135.6,435.63 135.9,435.64 136.2,435.66 136.5,435.67 136.8,435.68 137.1,435.69 137.4,435.71 137.7,435.72 138,435.73 138.3,435.75 138.6,435.76 138.9,435.77 139.2,435.78 139.5,435.8 139.8,435.81 140.1,435.82 140.4,435.84 140.7,435.85 141,435.86 141.3,435.87 141.6,435.89 141.9,435.9 142.2,435.91 142.5,435.92 142.8,435.94 143.1,435.95 143.4,435.96 143.7,435.97 144,435.99 144.3,436 144.6,436.01 144.9,436.02 145.2,436.04 145.5,436.05 145.8,436.06 146.1,436.08 146.4,436.09 146.7,436.1 147,436.12 147.3,436.13 147.6,436.14 147.9,436.16 148.2,436.17 148.5,436.18 148.8,436.2 149.1,436.21 149.4,436.22 149.7,436.24 150,436.25 150.3,436.27 150.6,436.28 150.9,436.3 151.2,436.31 151.5,436.32 151.8,436.34 152.1,436.35 152.4,436.37 152.7,436.38 153,436.4 153.3,436.42 153.6,436.43 153.9,436.45 154.2,436.46 154.5,436.48 154.8,436.5 155.1,436.51 155.4,436.53 155.7,436.55 156,436.56 156.3,436.58 156.6,436.6 156.9,436.61 157.2,436.63 157.5,436.65 157.8,436.67 158.1,436.68 158.4,436.7 158.7,436.72 159,436.74 159.3,436.75 159.6,436.77 159.9,436.79 160.2,436.81 160.5,436.83 160.8,436.85 161.1,436.86 161.4,436.88 161.7,436.9 162,436.92 162.3,436.94 162.6,436.96 162.9,436.97 163.2,436.99 163.5,437.01 163.8,437.03 164.1,437.05 164.4,437.07 164.7,437.08 165,437.1 165.3,437.12 165.6,437.14 165.9,437.16 166.2,437.18 166.5,437.19 166.8,437.21 167.1,437.23 167.4,437.25 167.7,437.27 168,437.29 168.3,437.3 168.6,437.32 168.9,437.34 169.2,437.36 169.5,437.37 169.8,437.39 170.1,437.41 170.4,437.43 170.7,437.44 171,437.46 171.3,437.48 171.6,437.49 171.9,437.51 172.2,437.53 172.5,437.54 172.8,437.56 173.1,437.58 173.4,437.59 173.7,437.61 174,437.63 174.3,437.64 174.6,437.66 174.9,437.67 175.2,437.69 175.5,437.7 175.8,437.72 176.1,437.73 176.4,437.75 176.7,437.76 177,437.77 177.3,437.79 177.6,437.8 177.9,437.81 178.2,437.83 178.5,437.84 178.8,437.85 179.1,437.86 179.4,437.88 179.7,437.89 180,437.9 180.3,437.91 180.6,437.92 180.9,437.93 181.2,437.95 181.5,437.96 181.8,437.97 182.1,437.98 182.4,437.99 182.7,438 183,438.02 183.3,438.03 183.6,438.04 183.9,438.05 184.2,438.06 184.5,438.08 184.8,438.09 185.1,438.1 185.4,438.11 185.7,438.12 186,438.13 186.3,438.15 186.6,438.16 186.9,438.17 187.2,438.18 187.5,438.19 187.8,438.21 188.1,438.22 188.4,438.23 188.7,438.24 189,438.25 189.3,438.27 189.6,438.28 189.9,438.29 190.2,438.3 190.5,438.31 190.8,438.32 191.1,438.34 191.4,438.35 191.7,438.36 192,438.37 192.3,438.38 192.6,438.39 192.9,438.4 193.2,438.42 193.5,438.43 193.8,438.44 194.1,438.45 194.4,438.46 194.7,438.47 195,438.48 195.3,438.49 195.6,438.5 195.9,438.51 196.2,438.53 196.5,438.54 196.8,438.55 197.1,438.56 197.4,438.57 197.7,438.58 198,438.59 198.3,438.6 198.6,438.61 198.9,438.62 199.2,438.63 199.5,438.64 199.8,438.65 200.1,438.66 200.4,438.67 200.7,438.68 201,438.69 201.3,438.7 201.6,438.71 201.9,438.71 202.2,438.72 202.5,438.73 202.8,438.74 203.1,438.75 203.4,438.76 203.7,438.77 204,438.78 204.3,438.78 204.6,438.79 204.9,438.8 205.2,438.81 205.5,438.82 205.8,438.82 206.1,438.83 206.4,438.84 206.7,438.85 207,438.85 207.3,438.86 207.6,438.87 207.9,438.87 208.2,438.88 208.5,438.89 208.8,438.89 209.1,438.9 209.4,438.9 209.7,438.91 210,438.91 210.3,438.92 210.6,438.93 210.9,438.93 211.2,438.94 211.5,438.94 211.8,438.95 212.1,438.95 212.4,438.95 212.7,438.96 213,438.96 213.3,438.97 213.6,438.97 213.9,438.97 214.2,438.98 214.5,438.98 214.8,438.98 215.1,438.98 215.4,438.99 215.7,438.99 216,438.99 216.3,438.99 216.6,438.99 216.9,439 217.2,439 217.5,439 217.8,439 218.1,439 218.4,439 218.7,439 219,439 219.3,439 219.6,439 219.9,439 220.2,439 220.5,439 220.8,439 221.1,439 221.4,439 221.7,438.99 222,438.99 222.3,438.99 222.6,438.99 222.9,438.99 223.2,438.99 223.5,438.98 223.8,438.98 224.1,438.98 224.4,438.98 224.7,438.97 225,438.97 225.3,438.97 225.6,438.97 225.9,438.96 226.2,438.96 226.5,438.96 226.8,438.95 227.1,438.95 227.4,438.94 227.7,438.94 228,438.94 228.3,438.93 228.6,438.93 228.9,438.92 229.2,438.92 229.5,438.91 229.8,438.91 230.1,438.9 230.4,438.9 230.7,438.89 231,438.89 231.3,438.88 231.6,438.88 231.9,438.87 232.2,438.86 232.5,438.86 232.8,438.85 233.1,438.84 233.4,438.84 233.7,438.83 234,438.82 234.3,438.81 234.6,438.81 234.9,438.8 235.2,438.79 235.5,438.78 235.8,438.78 236.1,438.77 236.4,438.76 236.7,438.75 237,438.74 237.3,438.73 237.6,438.72 237.9,438.71 238.2,438.7 238.5,438.69 238.8,438.68 239.1,438.67 239.4,438.66 239.7,438.65 240,438.64 240.3,438.63 240.6,438.62 240.9,438.61 241.2,438.6 241.5,438.59 241.8,438.58 242.1,438.57 242.4,438.55 242.7,438.54 243,438.53 243.3,438.52 243.6,438.5 243.9,438.49 244.2,438.48 244.5,438.47 244.8,438.45 245.1,438.44 245.4,438.43 245.7,438.41 246,438.4 246.3,438.38 246.6,438.37 246.9,438.35 247.2,438.34 247.5,438.33 247.8,438.31 248.1,438.29 248.4,438.27 248.7,438.25 249,438.22 249.3,438.18 249.6,438.14 249.9,438.1 250.2,438.05 250.5,437.99 250.8,437.94 251.1,437.88 251.4,437.82 251.7,437.75 252,437.68 252.3,437.61 252.6,437.54 252.9,437.47 253.2,437.4 253.5,437.32 253.8,437.25 254.1,437.17 254.4,437.1 254.7,437.01 255,436.92 255.3,436.83 255.6,436.73 255.9,436.63 256.2,436.52 256.5,436.41 256.8,436.29 257.1,436.17 257.4,436.05 257.7,435.92 258,435.79 258.3,435.66 258.6,435.52 258.9,435.38 259.2,435.24 259.5,435.1 259.8,434.95 260.1,434.8 260.4,434.63 260.7,434.46 261,434.28 261.3,434.1 261.6,433.91 261.9,433.71 262.2,433.51 262.5,433.3 262.8,433.09 263.1,432.88 263.4,432.66 263.7,432.45 264,432.23 264.3,432.01 264.6,431.79 264.9,431.57 265.2,431.36 265.5,431.14 265.8,430.92 266.1,430.71 266.4,430.49 266.7,430.26 267,430.04 267.3,429.81 267.6,429.58 267.9,429.34 268.2,429.1 268.5,428.85 268.8,428.6 269.1,428.34 269.4,428.07 269.7,427.79 270,427.5 270.3,427.2 270.6,426.9 270.9,426.58 271.2,426.25 271.5,425.91 271.8,425.56 272.1,425.2 272.4,424.84 272.7,424.47 273,424.09 273.3,423.7 273.6,423.31 273.9,422.91 274.2,422.51 274.5,422.1 274.8,421.69 275.1,421.27 275.4,420.85 275.7,420.43 276,420 276.3,419.57 276.6,419.12 276.9,418.67 277.2,418.2 277.5,417.72 277.8,417.24 278.1,416.75 278.4,416.25 278.7,415.75 279,415.24 279.3,414.73 279.6,414.21 279.9,413.69 280.2,413.16 280.5,412.63 280.8,412.11 281.1,411.58 281.4,411.05 281.7,410.52 282,410 282.3,409.47 282.6,408.93 282.9,408.37 283.2,407.81 283.5,407.23 283.8,406.66 284.1,406.08 284.4,405.49 284.7,404.91 285,404.33 285.3,403.75 285.6,403.18 285.9,402.61 286.2,402.05 286.5,401.51 286.8,400.97 287.1,400.45 287.4,399.95 287.7,399.47 288,399 288.3,398.55 288.6,398.11 288.9,397.68 289.2,397.26 289.5,396.85 289.8,396.45 290.1,396.05 290.4,395.66 290.7,395.27 291,394.89 291.3,394.52 291.6,394.15 291.9,393.78 292.2,393.41 292.5,393.05 292.8,392.69 293.1,392.33 293.4,391.97 293.7,391.61 294,391.24 294.3,390.88 294.6,390.52 294.9,390.16 295.2,389.81 295.5,389.46 295.8,389.11 296.1,388.77 296.4,388.42 296.7,388.08 297,387.74 297.3,387.4 297.6,387.06 297.9,386.72 298.2,386.38 298.5,386.04 298.8,385.69 299.1,385.35 299.4,385 299.7,384.63 300,384.24 300.3,383.83 300.6,383.41 300.9,382.98 301.2,382.56 301.5,382.16 301.8,381.77 302.1,381.41 302.4,381.08 302.7,380.8 303,380.57 303.3,380.4 303.6,380.26 303.9,380.13 304.2,380 304.5,379.88 304.8,379.76 305.1,379.65 305.4,379.55 305.7,379.45 306,379.37 306.3,379.29 306.6,379.23 306.9,379.18 307.2,379.14 307.5,379.11 307.8,379.1 308.1,379.1 308.4,379.12 308.7,379.14 309,379.17 309.3,379.22 309.6,379.27 309.9,379.32 310.2,379.39 310.5,379.46 310.8,379.53 311.1,379.61 311.4,379.69 311.7,379.77 312,379.86 312.3,379.94 312.6,380.03 312.9,380.13 313.2,380.24 313.5,380.36 313.8,380.5 314.1,380.65 314.4,380.8 314.7,380.97 315,381.14 315.3,381.32 315.6,381.51 315.9,381.7 316.2,381.89 316.5,382.09 316.8,382.29 317.1,382.49 317.4,382.69 317.7,382.89 318,383.08 318.3,383.27 318.6,383.46 318.9,383.64 319.2,383.82 319.5,384 319.8,384.18 320.1,384.36 320.4,384.54 320.7,384.73 321,384.91 321.3,385.1 321.6,385.29 321.9,385.47 322.2,385.66 322.5,385.84 322.8,386.02 323.1,386.2 323.4,386.38 323.7,386.56 324,386.73 324.3,386.9 324.6,387.07 324.9,387.24 325.2,387.4 325.5,387.57 325.8,387.73 326.1,387.89 326.4,388.06 326.7,388.22 327,388.38 327.3,388.54 327.6,388.69 327.9,388.85 328.2,389.01 328.5,389.16 328.8,389.31 329.1,389.47 329.4,389.62 329.7,389.77 330,389.92 330.3,390.06 330.6,390.21 330.9,390.35" fill="none" stroke="#ee22ee" stroke-width="1.35" stroke-linejoin="round"/>
<rect x="32.6" y="249" width="297.9" height="196.3" fill="none" stroke="#333" stroke-width="1.3"/>
<path d="M81.9,445.3V441.3M143.92,445.3V441.3M205.94,445.3V441.3M267.96,445.3V441.3M329.98,445.3V441.3M50.89,445.3V443.3M112.91,445.3V443.3M174.93,445.3V443.3M236.95,445.3V443.3M298.97,445.3V443.3" stroke="#333" stroke-width="1.1" fill="none"/>
<text x="81.9" y="460.2" font-size="11" text-anchor="middle" >473</text>
<text x="143.92" y="460.2" font-size="11" text-anchor="middle" >523</text>
<text x="205.94" y="460.2" font-size="11" text-anchor="middle" >573</text>
<text x="267.96" y="460.2" font-size="11" text-anchor="middle" >623</text>
<text x="329.98" y="460.2" font-size="11" text-anchor="middle" >673</text>
<text x="185.5" y="476" font-size="15" text-anchor="middle" >Tempearture(K)</text>
<text transform="translate(23.6,351.6) rotate(-90)" font-size="15" text-anchor="middle">Heat Flow(mW/mg)</text>
<path d="M28.1,308V402" stroke="#222" stroke-width="1.1"/>
<path d="M25.9,401.5 L30.3,401.5 L28.1,408.2Z" fill="#222"/>
<text x="81" y="310.8" font-size="14.5" text-anchor="middle" >TN</text>
<text x="83.5" y="346" font-size="14.5" text-anchor="middle" >TCN</text>
<text x="82.2" y="384.1" font-size="14.5" text-anchor="middle" >TC</text>
<text x="82" y="423.5" font-size="14.5" text-anchor="middle" >Vit1</text>
<text x="190.2" y="315.3" font-size="11.5" text-anchor="start" >0.465 J/mol</text>
<text x="190.2" y="350" font-size="11.5" text-anchor="start" >1.931 J/mol</text>
<text x="184" y="384.9" font-size="11.5" text-anchor="start" >2.166 J/mol</text>
<text x="184.5" y="417.7" font-size="11.5" text-anchor="start" >1.696 J/mol</text>
<path d="M6.5,246.4 C-0.2,250.75 -0.2,258.15 6.5,262.5" fill="none" stroke="#111" stroke-width="1.3"/>
<path d="M22.55,246.4 C29.25,250.75 29.25,258.15 22.55,262.5" fill="none" stroke="#111" stroke-width="1.3"/>
<text transform="translate(14.3,261.9) scale(0.9,1.07)" font-size="19.5" text-anchor="middle">c</text>
<defs>
<marker id="m0" markerUnits="userSpaceOnUse" markerWidth="4" markerHeight="4" refX="2" refY="2"><circle cx="2" cy="2" r="1.3" fill="#ff1111"/></marker>
<marker id="m1" markerUnits="userSpaceOnUse" markerWidth="5" markerHeight="5" refX="2.5" refY="2.5"><path d="M0.9,1.3H4.1L2.5,3.9Z" fill="#1a1aff"/></marker>
<marker id="m2" markerUnits="userSpaceOnUse" markerWidth="4" markerHeight="4" refX="2" refY="2"><circle cx="2" cy="2" r="1.3" fill="#ff22ff"/></marker>
<marker id="m3" markerUnits="userSpaceOnUse" markerWidth="4" markerHeight="4" refX="2" refY="2"><circle cx="2" cy="2" r="1.3" fill="#7a35c0"/></marker>
</defs>
<polyline points="388,454.5 388.45,454.5 388.9,454.5 389.35,454.5 389.8,454.5 390.25,454.5 390.7,454.5 391.15,454.5 391.6,454.5 392.05,454.5 392.5,454.5 392.95,454.5 393.4,454.5 393.85,454.5 394.3,454.5 394.75,454.5 395.2,454.5 395.65,454.5 396.1,454.5 396.55,454.5 397,454.5 397.45,454.49 397.9,454.49 398.35,454.49 398.8,454.49 399.25,454.49 399.7,454.49 400.15,454.49 400.6,454.49 401.05,454.49 401.5,454.49 401.95,454.49 402.4,454.49 402.85,454.49 403.3,454.49 403.75,454.49 404.2,454.48 404.65,454.48 405.1,454.48 405.55,454.48 406,454.48 406.45,454.48 406.9,454.48 407.35,454.48 407.8,454.48 408.25,454.48 408.7,454.48 409.15,454.47 409.6,454.47 410.05,454.47 410.5,454.47 410.95,454.47 411.4,454.47 411.85,454.47 412.3,454.47 412.75,454.47 413.2,454.46 413.65,454.46 414.1,454.46 414.55,454.46 415,454.46 415.45,454.46 415.9,454.46 416.35,454.45 416.8,454.45 417.25,454.45 417.7,454.45 418.15,454.45 418.6,454.45 419.05,454.45 419.5,454.44 419.95,454.44 420.4,454.44 420.85,454.44 421.3,454.44 421.75,454.44 422.2,454.44 422.65,454.43 423.1,454.43 423.55,454.43 424,454.43 424.45,454.43 424.9,454.43 425.35,454.42 425.8,454.42 426.25,454.42 426.7,454.42 427.15,454.42 427.6,454.41 428.05,454.41 428.5,454.41 428.95,454.41 429.4,454.41 429.85,454.4 430.3,454.4 430.75,454.4 431.2,454.4 431.65,454.4 432.1,454.39 432.55,454.39 433,454.39 433.45,454.39 433.9,454.39 434.35,454.38 434.8,454.38 435.25,454.38 435.7,454.38 436.15,454.38 436.6,454.37 437.05,454.37 437.5,454.37 437.95,454.37 438.4,454.36 438.85,454.36 439.3,454.36 439.75,454.36 440.2,454.36 440.65,454.35 441.1,454.35 441.55,454.35 442,454.35 442.45,454.34 442.9,454.34 443.35,454.34 443.8,454.34 444.25,454.33 444.7,454.33 445.15,454.33 445.6,454.33 446.05,454.32 446.5,454.32 446.95,454.32 447.4,454.32 447.85,454.31 448.3,454.31 448.75,454.31 449.2,454.3 449.65,454.3 450.1,454.3 450.55,454.3 451,454.29 451.45,454.29 451.9,454.29 452.35,454.28 452.8,454.28 453.25,454.27 453.7,454.27 454.15,454.26 454.6,454.26 455.05,454.25 455.5,454.24 455.95,454.24 456.4,454.23 456.85,454.22 457.3,454.21 457.75,454.21 458.2,454.2 458.65,454.19 459.1,454.18 459.55,454.17 460,454.16 460.45,454.15 460.9,454.14 461.35,454.13 461.8,454.12 462.25,454.11 462.7,454.1 463.15,454.09 463.6,454.08 464.05,454.07 464.5,454.06 464.95,454.05 465.4,454.03 465.85,454.02 466.3,454.01 466.75,454 467.2,453.98 467.65,453.97 468.1,453.96 468.55,453.95 469,453.93 469.45,453.92 469.9,453.9 470.35,453.89 470.8,453.88 471.25,453.86 471.7,453.85 472.15,453.83 472.6,453.82 473.05,453.8 473.5,453.79 473.95,453.77 474.4,453.76 474.85,453.74 475.3,453.73 475.75,453.71 476.2,453.7 476.65,453.68 477.1,453.66 477.55,453.65 478,453.63 478.45,453.62 478.9,453.6 479.35,453.58 479.8,453.57 480.25,453.55 480.7,453.53 481.15,453.52 481.6,453.5 482.05,453.48 482.5,453.46 482.95,453.45 483.4,453.43 483.85,453.41 484.3,453.4 484.75,453.38 485.2,453.36 485.65,453.34 486.1,453.33 486.55,453.31 487,453.29 487.45,453.28 487.9,453.26 488.35,453.24 488.8,453.22 489.25,453.21 489.7,453.19 490.15,453.17 490.6,453.15 491.05,453.14 491.5,453.12 491.95,453.1 492.4,453.08 492.85,453.07 493.3,453.05 493.75,453.03 494.2,453.02 494.65,453 495.1,452.98 495.55,452.96 496,452.95 496.45,452.93 496.9,452.91 497.35,452.9 497.8,452.88 498.25,452.86 498.7,452.85 499.15,452.83 499.6,452.81 500.05,452.8 500.5,452.78 500.95,452.77 501.4,452.75 501.85,452.73 502.3,452.72 502.75,452.7 503.2,452.69 503.65,452.67 504.1,452.65 504.55,452.64 505,452.62 505.45,452.6 505.9,452.59 506.35,452.57 506.8,452.55 507.25,452.54 507.7,452.52 508.15,452.5 508.6,452.49 509.05,452.47 509.5,452.45 509.95,452.44 510.4,452.42 510.85,452.4 511.3,452.39 511.75,452.37 512.2,452.35 512.65,452.33 513.1,452.32 513.55,452.3 514,452.28 514.45,452.26 514.9,452.24 515.35,452.22 515.8,452.21 516.25,452.19 516.7,452.17 517.15,452.15 517.6,452.13 518.05,452.11 518.5,452.09 518.95,452.07 519.4,452.05 519.85,452.03 520.3,452.01 520.75,451.99 521.2,451.97 521.65,451.94 522.1,451.92 522.55,451.9 523,451.88 523.45,451.86 523.9,451.83 524.35,451.81 524.8,451.79 525.25,451.77 525.7,451.74 526.15,451.72 526.6,451.69 527.05,451.67 527.5,451.64 527.95,451.62 528.4,451.59 528.85,451.57 529.3,451.54 529.75,451.51 530.2,451.49 530.65,451.46 531.1,451.43 531.55,451.4 532,451.38 532.45,451.35 532.9,451.32 533.35,451.29 533.8,451.26 534.25,451.22 534.7,451.19 535.15,451.16 535.6,451.13 536.05,451.09 536.5,451.06 536.95,451.02 537.4,450.99 537.85,450.95 538.3,450.92 538.75,450.88 539.2,450.84 539.65,450.81 540.1,450.77 540.55,450.73 541,450.69 541.45,450.65 541.9,450.61 542.35,450.57 542.8,450.53 543.25,450.48 543.7,450.44 544.15,450.4 544.6,450.36 545.05,450.31 545.5,450.27 545.95,450.22 546.4,450.18 546.85,450.13 547.3,450.08 547.75,450.04 548.2,449.99 548.65,449.94 549.1,449.89 549.55,449.84 550,449.79 550.45,449.74 550.9,449.69 551.35,449.64 551.8,449.59 552.25,449.53 552.7,449.48 553.15,449.43 553.6,449.37 554.05,449.32 554.5,449.26 554.95,449.21 555.4,449.15 555.85,449.09 556.3,449.03 556.75,448.96 557.2,448.9 557.65,448.83 558.1,448.76 558.55,448.68 559,448.61 559.45,448.53 559.9,448.46 560.35,448.38 560.8,448.3 561.25,448.21 561.7,448.13 562.15,448.05 562.6,447.96 563.05,447.88 563.5,447.79 563.95,447.7 564.4,447.62 564.85,447.53 565.3,447.44 565.75,447.35 566.2,447.26 566.65,447.17 567.1,447.09 567.55,447 568,446.92 568.45,446.83 568.9,446.74 569.35,446.66 569.8,446.57 570.25,446.48 570.7,446.39 571.15,446.29 571.6,446.19 572.05,446.09 572.5,445.99 572.95,445.88 573.4,445.77 573.85,445.65 574.3,445.52 574.75,445.39 575.2,445.26 575.65,445.12 576.1,444.97 576.55,444.8 577,444.61 577.45,444.4 577.9,444.17 578.35,443.93 578.8,443.67 579.25,443.4 579.7,443.12 580.15,442.84 580.6,442.55 581.05,442.26 581.5,441.97 581.95,441.68 582.4,441.39 582.85,441.11 583.3,440.83 583.75,440.55 584.2,440.27 584.65,439.98 585.1,439.68 585.55,439.38 586,439.06 586.45,438.72 586.9,438.36 587.35,437.99 587.8,437.6 588.25,437.19 588.7,436.77 589.15,436.33 589.6,435.88 590.05,435.4 590.5,434.9 590.95,434.38 591.4,433.84 591.85,433.27 592.3,432.68 592.75,432.06 593.2,431.41 593.65,430.72 594.1,430 594.55,429.23 595,428.41 595.45,427.54 595.9,426.62 596.35,425.64 596.8,424.6 597.25,423.49 597.7,422.32 598.15,421.07 598.6,419.59 599.05,417.91 599.5,416.05 599.95,414.06 600.4,412 600.85,409.92 601.3,407.85 601.75,405.84 602.2,403.85 602.65,401.85 603.1,399.82 603.55,397.75 604,395.61 604.45,393.39 604.9,391.07 605.35,388.6 605.8,385.86 606.25,382.93 606.7,379.9 607.15,376.86 607.6,373.91 608.05,371.16 608.5,368.67 608.95,366.29 609.4,363.95 609.85,361.66 610.3,359.47 610.75,357.39 611.2,355.45 611.65,353.69 612.1,352.12 612.55,350.75 613,349.46 613.45,348.32 613.9,347.42 614.35,346.83 614.8,346.36 615.25,345.96 615.7,345.66 616.15,345.51 616.6,345.55 617.05,345.77 617.5,346.11 617.95,346.51 618.4,346.92 618.85,347.33 619.3,347.88 619.75,348.5 620.2,349.15 620.65,349.78 621.1,350.34 621.55,350.78 622,351.05 622.45,351.09 622.9,350.91 623.35,350.58 623.8,350.14 624.25,349.68 624.7,349.24 625.15,348.89 625.6,348.53 626.05,348.16 626.5,347.81 626.95,347.52 627.4,347.33 627.85,347.22 628.3,347.13 628.75,347.05 629.2,346.98 629.65,346.93 630.1,346.91 630.55,346.91 631,347.09 631.45,347.44 631.9,347.9 632.35,348.44 632.8,349 633.25,349.65 633.7,350.48 634.15,351.45 634.6,352.51 635.05,353.63 635.5,354.76 635.95,355.87 636.4,357.03 636.85,358.26 637.3,359.53 637.75,360.83 638.2,362.14 638.65,363.43 639.1,364.67 639.55,365.92 640,367.27 640.45,368.78 640.9,370.51 641.35,372.44 641.8,374.53 642.25,376.74 642.7,379.03 643.15,381.46 643.6,384.03 644.05,386.72 644.5,389.54 644.95,392.47 645.4,395.63 645.85,399.13 646.3,402.85 646.75,406.64 647.2,410.36 647.65,413.88 648.1,417.05 648.55,419.77 649,422.4 649.45,424.98 649.9,427.41 650.35,429.59 650.8,431.42 651.25,432.78 651.7,433.63 652.15,434.31 652.6,434.89 653.05,435.36 653.5,435.72 653.95,435.98 654.4,436.16 654.85,436.32 655.3,436.47 655.75,436.58 656.2,436.66 656.65,436.7 657.1,436.7 657.55,436.7 658,436.7 658.45,436.7 658.9,436.7 659.35,436.7 659.8,436.7 660.25,436.7 660.7,436.7 661.15,436.7 661.6,436.7 662.05,436.7 662.5,436.7 662.95,436.7 663.4,436.7 663.85,436.7 664.3,436.7 664.75,436.7 665.2,436.7 665.65,436.7 666.1,436.7 666.55,436.7 667,436.7 667.45,436.7 667.9,436.7 668.35,436.7 668.8,436.7 669.25,436.7 669.7,436.7 670.15,436.7 670.6,436.7 671.05,436.7 671.5,436.7 671.95,436.7 672.4,436.7 672.85,436.7 673.3,436.7 673.75,436.7 674.2,436.7 674.65,436.7" fill="none" stroke="#ff1111" stroke-width="1" marker-start="url(#m0)" marker-mid="url(#m0)" marker-end="url(#m0)"/>
<polyline points="388,453.6 388.45,453.6 388.9,453.6 389.35,453.6 389.8,453.6 390.25,453.6 390.7,453.6 391.15,453.6 391.6,453.6 392.05,453.6 392.5,453.6 392.95,453.6 393.4,453.6 393.85,453.6 394.3,453.6 394.75,453.6 395.2,453.6 395.65,453.6 396.1,453.6 396.55,453.6 397,453.6 397.45,453.6 397.9,453.6 398.35,453.6 398.8,453.6 399.25,453.6 399.7,453.6 400.15,453.6 400.6,453.6 401.05,453.6 401.5,453.59 401.95,453.59 402.4,453.59 402.85,453.59 403.3,453.59 403.75,453.59 404.2,453.59 404.65,453.59 405.1,453.59 405.55,453.59 406,453.59 406.45,453.59 406.9,453.59 407.35,453.59 407.8,453.59 408.25,453.59 408.7,453.59 409.15,453.59 409.6,453.59 410.05,453.59 410.5,453.59 410.95,453.59 411.4,453.58 411.85,453.58 412.3,453.58 412.75,453.58 413.2,453.58 413.65,453.58 414.1,453.58 414.55,453.58 415,453.58 415.45,453.58 415.9,453.58 416.35,453.58 416.8,453.58 417.25,453.58 417.7,453.58 418.15,453.58 418.6,453.57 419.05,453.57 419.5,453.57 419.95,453.57 420.4,453.57 420.85,453.57 421.3,453.57 421.75,453.57 422.2,453.57 422.65,453.57 423.1,453.57 423.55,453.57 424,453.56 424.45,453.56 424.9,453.56 425.35,453.56 425.8,453.56 426.25,453.56 426.7,453.56 427.15,453.56 427.6,453.56 428.05,453.56 428.5,453.56 428.95,453.55 429.4,453.55 429.85,453.55 430.3,453.55 430.75,453.55 431.2,453.55 431.65,453.55 432.1,453.55 432.55,453.55 433,453.55 433.45,453.54 433.9,453.54 434.35,453.54 434.8,453.54 435.25,453.54 435.7,453.54 436.15,453.54 436.6,453.54 437.05,453.54 437.5,453.53 437.95,453.53 438.4,453.53 438.85,453.53 439.3,453.53 439.75,453.53 440.2,453.53 440.65,453.53 441.1,453.53 441.55,453.52 442,453.52 442.45,453.52 442.9,453.52 443.35,453.52 443.8,453.52 444.25,453.52 444.7,453.52 445.15,453.51 445.6,453.51 446.05,453.51 446.5,453.51 446.95,453.51 447.4,453.51 447.85,453.51 448.3,453.51 448.75,453.5 449.2,453.5 449.65,453.5 450.1,453.5 450.55,453.5 451,453.5 451.45,453.49 451.9,453.49 452.35,453.49 452.8,453.49 453.25,453.49 453.7,453.48 454.15,453.48 454.6,453.48 455.05,453.47 455.5,453.47 455.95,453.47 456.4,453.46 456.85,453.46 457.3,453.46 457.75,453.45 458.2,453.45 458.65,453.44 459.1,453.44 459.55,453.43 460,453.43 460.45,453.42 460.9,453.42 461.35,453.41 461.8,453.41 462.25,453.4 462.7,453.4 463.15,453.39 463.6,453.38 464.05,453.38 464.5,453.37 464.95,453.36 465.4,453.36 465.85,453.35 466.3,453.34 466.75,453.34 467.2,453.33 467.65,453.32 468.1,453.32 468.55,453.31 469,453.3 469.45,453.29 469.9,453.29 470.35,453.28 470.8,453.27 471.25,453.26 471.7,453.25 472.15,453.25 472.6,453.24 473.05,453.23 473.5,453.22 473.95,453.21 474.4,453.2 474.85,453.19 475.3,453.19 475.75,453.18 476.2,453.17 476.65,453.16 477.1,453.15 477.55,453.14 478,453.13 478.45,453.12 478.9,453.11 479.35,453.1 479.8,453.09 480.25,453.08 480.7,453.07 481.15,453.06 481.6,453.05 482.05,453.04 482.5,453.03 482.95,453.02 483.4,453.01 483.85,453 484.3,452.99 484.75,452.98 485.2,452.97 485.65,452.96 486.1,452.95 486.55,452.94 487,452.93 487.45,452.91 487.9,452.9 488.35,452.89 488.8,452.88 489.25,452.87 489.7,452.86 490.15,452.85 490.6,452.84 491.05,452.83 491.5,452.82 491.95,452.8 492.4,452.79 492.85,452.78 493.3,452.77 493.75,452.76 494.2,452.75 494.65,452.74 495.1,452.73 495.55,452.71 496,452.7 496.45,452.69 496.9,452.68 497.35,452.67 497.8,452.66 498.25,452.64 498.7,452.63 499.15,452.62 499.6,452.61 500.05,452.6 500.5,452.59 500.95,452.58 501.4,452.56 501.85,452.55 502.3,452.54 502.75,452.53 503.2,452.51 503.65,452.5 504.1,452.49 504.55,452.47 505,452.46 505.45,452.45 505.9,452.43 506.35,452.42 506.8,452.4 507.25,452.39 507.7,452.37 508.15,452.36 508.6,452.34 509.05,452.33 509.5,452.31 509.95,452.3 510.4,452.28 510.85,452.27 511.3,452.25 511.75,452.23 512.2,452.22 512.65,452.2 513.1,452.18 513.55,452.17 514,452.15 514.45,452.13 514.9,452.11 515.35,452.1 515.8,452.08 516.25,452.06 516.7,452.04 517.15,452.02 517.6,452 518.05,451.98 518.5,451.96 518.95,451.94 519.4,451.92 519.85,451.9 520.3,451.88 520.75,451.86 521.2,451.84 521.65,451.82 522.1,451.8 522.55,451.78 523,451.76 523.45,451.74 523.9,451.72 524.35,451.69 524.8,451.67 525.25,451.65 525.7,451.63 526.15,451.6 526.6,451.58 527.05,451.56 527.5,451.53 527.95,451.51 528.4,451.49 528.85,451.46 529.3,451.44 529.75,451.41 530.2,451.39 530.65,451.36 531.1,451.34 531.55,451.31 532,451.29 532.45,451.26 532.9,451.24 533.35,451.21 533.8,451.18 534.25,451.15 534.7,451.13 535.15,451.1 535.6,451.07 536.05,451.04 536.5,451.01 536.95,450.98 537.4,450.95 537.85,450.92 538.3,450.89 538.75,450.86 539.2,450.83 539.65,450.79 540.1,450.76 540.55,450.73 541,450.69 541.45,450.66 541.9,450.62 542.35,450.59 542.8,450.55 543.25,450.51 543.7,450.48 544.15,450.44 544.6,450.4 545.05,450.36 545.5,450.32 545.95,450.28 546.4,450.24 546.85,450.2 547.3,450.15 547.75,450.11 548.2,450.07 548.65,450.02 549.1,449.97 549.55,449.93 550,449.88 550.45,449.83 550.9,449.78 551.35,449.73 551.8,449.68 552.25,449.63 552.7,449.58 553.15,449.53 553.6,449.47 554.05,449.42 554.5,449.36 554.95,449.31 555.4,449.25 555.85,449.18 556.3,449.11 556.75,449.04 557.2,448.96 557.65,448.88 558.1,448.79 558.55,448.7 559,448.61 559.45,448.51 559.9,448.41 560.35,448.31 560.8,448.21 561.25,448.1 561.7,448 562.15,447.89 562.6,447.79 563.05,447.68 563.5,447.57 563.95,447.47 564.4,447.36 564.85,447.26 565.3,447.16 565.75,447.06 566.2,446.96 566.65,446.86 567.1,446.76 567.55,446.67 568,446.57 568.45,446.48 568.9,446.38 569.35,446.29 569.8,446.19 570.25,446.1 570.7,446 571.15,445.9 571.6,445.8 572.05,445.71 572.5,445.6 572.95,445.5 573.4,445.4 573.85,445.29 574.3,445.18 574.75,445.07 575.2,444.96 575.65,444.84 576.1,444.72 576.55,444.6 577,444.47 577.45,444.34 577.9,444.21 578.35,444.08 578.8,443.94 579.25,443.8 579.7,443.65 580.15,443.5 580.6,443.35 581.05,443.19 581.5,443.02 581.95,442.85 582.4,442.67 582.85,442.49 583.3,442.3 583.75,442.1 584.2,441.9 584.65,441.68 585.1,441.45 585.55,441.21 586,440.95 586.45,440.68 586.9,440.39 587.35,440.1 587.8,439.8 588.25,439.48 588.7,439.16 589.15,438.83 589.6,438.5 590.05,438.16 590.5,437.82 590.95,437.48 591.4,437.13 591.85,436.77 592.3,436.4 592.75,436.02 593.2,435.63 593.65,435.22 594.1,434.79 594.55,434.35 595,433.88 595.45,433.38 595.9,432.87 596.35,432.32 596.8,431.74 597.25,431.09 597.7,430.38 598.15,429.61 598.6,428.79 599.05,427.92 599.5,427.01 599.95,426.05 600.4,425.06 600.85,424.04 601.3,423 601.75,421.94 602.2,420.86 602.65,419.72 603.1,418.5 603.55,417.21 604,415.87 604.45,414.48 604.9,413.05 605.35,411.6 605.8,410.13 606.25,408.66 606.7,407.19 607.15,405.74 607.6,404.31 608.05,402.91 608.5,401.52 608.95,400.14 609.4,398.75 609.85,397.36 610.3,395.95 610.75,394.51 611.2,393.05 611.65,391.55 612.1,390 612.55,388.38 613,386.67 613.45,384.91 613.9,383.12 614.35,381.33 614.8,379.58 615.25,377.9 615.7,376.31 616.15,374.84 616.6,373.45 617.05,372.07 617.5,370.64 617.95,369.11 618.4,367.41 618.85,365.54 619.3,363.53 619.75,361.41 620.2,359.18 620.65,356.86 621.1,354.47 621.55,352.03 622,349.55 622.45,347.08 622.9,344.6 623.35,342.02 623.8,339.3 624.25,336.36 624.7,333.15 625.15,329.58 625.6,325.01 626.05,319.37 626.5,313.11 626.95,306.7 627.4,300.57 627.85,295.19 628.3,291.02 628.75,288.13 629.2,285.79 629.65,283.76 630.1,281.82 630.55,279.76 631,277.53 631.45,275.3 631.9,273.22 632.35,271.4 632.8,269.48 633.25,268.21 633.7,268.55 634.15,270.35 634.6,272.5 635.05,274.59 635.5,276.95 635.95,279.51 636.4,282.18 636.85,284.89 637.3,288.18 637.75,293.16 638.2,301.62 638.65,311.87 639.1,321.82 639.55,329.4 640,334.24 640.45,338.2 640.9,341.39 641.35,344 641.8,346.28 642.25,348.22 642.7,349.8 643.15,351.06 643.6,352.17 644.05,353.16 644.5,354.05 644.95,354.86 645.4,355.64 645.85,356.39 646.3,357.14 646.75,357.93 647.2,358.75 647.65,359.55 648.1,360.33 648.55,361.1 649,361.86 649.45,362.61 649.9,363.36 650.35,364.11 650.8,364.86 651.25,365.62 651.7,366.39 652.15,367.18 652.6,367.98 653.05,368.82 653.5,369.68 653.95,370.55 654.4,371.4 654.85,372.23 655.3,373.02 655.75,373.79 656.2,374.54 656.65,375.27 657.1,376 657.55,376.72 658,377.43 658.45,378.15 658.9,378.88 659.35,379.62 659.8,380.36 660.25,381.11 660.7,381.87 661.15,382.62 661.6,383.38 662.05,384.14 662.5,384.9 662.95,385.66 663.4,386.42 663.85,387.18 664.3,387.94 664.75,388.7 665.2,389.46 665.65,390.22 666.1,390.97 666.55,391.72 667,392.47 667.45,393.21 667.9,393.95 668.35,394.68 668.8,395.41 669.25,396.14 669.7,396.87 670.15,397.6 670.6,398.34 671.05,399.08 671.5,399.83 671.95,400.59 672.4,401.35 672.85,402.11 673.3,402.88 673.75,403.64 674.2,404.42 674.65,405.19" fill="none" stroke="#1a1aff" stroke-width="1" marker-start="url(#m1)" marker-mid="url(#m1)" marker-end="url(#m1)"/>
<polyline points="388,454.4 388.45,454.4 388.9,454.4 389.35,454.4 389.8,454.4 390.25,454.4 390.7,454.4 391.15,454.4 391.6,454.4 392.05,454.4 392.5,454.4 392.95,454.4 393.4,454.4 393.85,454.4 394.3,454.4 394.75,454.4 395.2,454.4 395.65,454.4 396.1,454.4 396.55,454.4 397,454.4 397.45,454.39 397.9,454.39 398.35,454.39 398.8,454.39 399.25,454.39 399.7,454.39 400.15,454.39 400.6,454.39 401.05,454.39 401.5,454.39 401.95,454.39 402.4,454.39 402.85,454.39 403.3,454.39 403.75,454.39 404.2,454.39 404.65,454.38 405.1,454.38 405.55,454.38 406,454.38 406.45,454.38 406.9,454.38 407.35,454.38 407.8,454.38 408.25,454.38 408.7,454.38 409.15,454.37 409.6,454.37 410.05,454.37 410.5,454.37 410.95,454.37 411.4,454.37 411.85,454.37 412.3,454.37 412.75,454.37 413.2,454.36 413.65,454.36 414.1,454.36 414.55,454.36 415,454.36 415.45,454.36 415.9,454.36 416.35,454.36 416.8,454.35 417.25,454.35 417.7,454.35 418.15,454.35 418.6,454.35 419.05,454.35 419.5,454.35 419.95,454.34 420.4,454.34 420.85,454.34 421.3,454.34 421.75,454.34 422.2,454.34 422.65,454.33 423.1,454.33 423.55,454.33 424,454.33 424.45,454.33 424.9,454.33 425.35,454.32 425.8,454.32 426.25,454.32 426.7,454.32 427.15,454.32 427.6,454.31 428.05,454.31 428.5,454.31 428.95,454.31 429.4,454.31 429.85,454.31 430.3,454.3 430.75,454.3 431.2,454.3 431.65,454.3 432.1,454.3 432.55,454.29 433,454.29 433.45,454.29 433.9,454.29 434.35,454.28 434.8,454.28 435.25,454.28 435.7,454.28 436.15,454.28 436.6,454.27 437.05,454.27 437.5,454.27 437.95,454.27 438.4,454.26 438.85,454.26 439.3,454.26 439.75,454.26 440.2,454.26 440.65,454.25 441.1,454.25 441.55,454.25 442,454.25 442.45,454.24 442.9,454.24 443.35,454.24 443.8,454.24 444.25,454.23 444.7,454.23 445.15,454.23 445.6,454.23 446.05,454.22 446.5,454.22 446.95,454.22 447.4,454.22 447.85,454.21 448.3,454.21 448.75,454.21 449.2,454.2 449.65,454.2 450.1,454.2 450.55,454.2 451,454.19 451.45,454.19 451.9,454.18 452.35,454.18 452.8,454.17 453.25,454.17 453.7,454.16 454.15,454.16 454.6,454.15 455.05,454.14 455.5,454.14 455.95,454.13 456.4,454.12 456.85,454.11 457.3,454.1 457.75,454.09 458.2,454.08 458.65,454.07 459.1,454.06 459.55,454.05 460,454.04 460.45,454.03 460.9,454.02 461.35,454.01 461.8,454 462.25,453.99 462.7,453.97 463.15,453.96 463.6,453.95 464.05,453.93 464.5,453.92 464.95,453.91 465.4,453.89 465.85,453.88 466.3,453.86 466.75,453.85 467.2,453.83 467.65,453.82 468.1,453.8 468.55,453.79 469,453.77 469.45,453.76 469.9,453.74 470.35,453.72 470.8,453.71 471.25,453.69 471.7,453.67 472.15,453.66 472.6,453.64 473.05,453.62 473.5,453.6 473.95,453.59 474.4,453.57 474.85,453.55 475.3,453.53 475.75,453.51 476.2,453.49 476.65,453.48 477.1,453.46 477.55,453.44 478,453.42 478.45,453.4 478.9,453.38 479.35,453.36 479.8,453.34 480.25,453.33 480.7,453.31 481.15,453.29 481.6,453.27 482.05,453.25 482.5,453.23 482.95,453.21 483.4,453.19 483.85,453.17 484.3,453.15 484.75,453.13 485.2,453.11 485.65,453.09 486.1,453.07 486.55,453.05 487,453.03 487.45,453.01 487.9,452.99 488.35,452.97 488.8,452.96 489.25,452.94 489.7,452.92 490.15,452.9 490.6,452.88 491.05,452.86 491.5,452.84 491.95,452.82 492.4,452.8 492.85,452.78 493.3,452.76 493.75,452.75 494.2,452.73 494.65,452.71 495.1,452.69 495.55,452.67 496,452.65 496.45,452.64 496.9,452.62 497.35,452.6 497.8,452.58 498.25,452.57 498.7,452.55 499.15,452.53 499.6,452.51 500.05,452.5 500.5,452.48 500.95,452.46 501.4,452.45 501.85,452.43 502.3,452.42 502.75,452.4 503.2,452.38 503.65,452.37 504.1,452.35 504.55,452.33 505,452.32 505.45,452.3 505.9,452.29 506.35,452.27 506.8,452.25 507.25,452.24 507.7,452.22 508.15,452.2 508.6,452.19 509.05,452.17 509.5,452.16 509.95,452.14 510.4,452.12 510.85,452.11 511.3,452.09 511.75,452.07 512.2,452.06 512.65,452.04 513.1,452.02 513.55,452.01 514,451.99 514.45,451.97 514.9,451.96 515.35,451.94 515.8,451.92 516.25,451.9 516.7,451.89 517.15,451.87 517.6,451.85 518.05,451.83 518.5,451.82 518.95,451.8 519.4,451.78 519.85,451.76 520.3,451.74 520.75,451.72 521.2,451.7 521.65,451.69 522.1,451.67 522.55,451.65 523,451.63 523.45,451.61 523.9,451.59 524.35,451.57 524.8,451.55 525.25,451.53 525.7,451.51 526.15,451.49 526.6,451.47 527.05,451.44 527.5,451.42 527.95,451.4 528.4,451.38 528.85,451.36 529.3,451.34 529.75,451.31 530.2,451.29 530.65,451.27 531.1,451.24 531.55,451.22 532,451.2 532.45,451.17 532.9,451.15 533.35,451.13 533.8,451.1 534.25,451.08 534.7,451.06 535.15,451.03 535.6,451.01 536.05,450.98 536.5,450.96 536.95,450.94 537.4,450.91 537.85,450.89 538.3,450.86 538.75,450.83 539.2,450.81 539.65,450.78 540.1,450.75 540.55,450.73 541,450.7 541.45,450.67 541.9,450.64 542.35,450.62 542.8,450.59 543.25,450.56 543.7,450.53 544.15,450.5 544.6,450.47 545.05,450.44 545.5,450.4 545.95,450.37 546.4,450.34 546.85,450.31 547.3,450.27 547.75,450.24 548.2,450.2 548.65,450.17 549.1,450.13 549.55,450.1 550,450.06 550.45,450.02 550.9,449.98 551.35,449.94 551.8,449.9 552.25,449.86 552.7,449.82 553.15,449.78 553.6,449.74 554.05,449.69 554.5,449.65 554.95,449.61 555.4,449.56 555.85,449.51 556.3,449.45 556.75,449.39 557.2,449.33 557.65,449.26 558.1,449.19 558.55,449.12 559,449.05 559.45,448.97 559.9,448.9 560.35,448.82 560.8,448.75 561.25,448.67 561.7,448.6 562.15,448.52 562.6,448.45 563.05,448.38 563.5,448.31 563.95,448.24 564.4,448.16 564.85,448.09 565.3,448.02 565.75,447.95 566.2,447.87 566.65,447.8 567.1,447.73 567.55,447.65 568,447.57 568.45,447.5 568.9,447.42 569.35,447.34 569.8,447.26 570.25,447.18 570.7,447.09 571.15,447.01 571.6,446.92 572.05,446.83 572.5,446.74 572.95,446.65 573.4,446.56 573.85,446.46 574.3,446.37 574.75,446.27 575.2,446.17 575.65,446.07 576.1,445.96 576.55,445.86 577,445.75 577.45,445.64 577.9,445.53 578.35,445.42 578.8,445.3 579.25,445.18 579.7,445.06 580.15,444.94 580.6,444.81 581.05,444.69 581.5,444.55 581.95,444.42 582.4,444.28 582.85,444.14 583.3,444 583.75,443.85 584.2,443.7 584.65,443.54 585.1,443.38 585.55,443.21 586,443.03 586.45,442.85 586.9,442.66 587.35,442.47 587.8,442.26 588.25,442.06 588.7,441.84 589.15,441.62 589.6,441.4 590.05,441.17 590.5,440.94 590.95,440.7 591.4,440.45 591.85,440.21 592.3,439.95 592.75,439.69 593.2,439.41 593.65,439.13 594.1,438.85 594.55,438.55 595,438.25 595.45,437.93 595.9,437.61 596.35,437.28 596.8,436.94 597.25,436.58 597.7,436.22 598.15,435.85 598.6,435.47 599.05,435.08 599.5,434.66 599.95,434.22 600.4,433.75 600.85,433.27 601.3,432.77 601.75,432.25 602.2,431.73 602.65,431.19 603.1,430.64 603.55,430.09 604,429.54 604.45,428.98 604.9,428.43 605.35,427.88 605.8,427.32 606.25,426.77 606.7,426.21 607.15,425.64 607.6,425.06 608.05,424.48 608.5,423.88 608.95,423.28 609.4,422.65 609.85,422.02 610.3,421.36 610.75,420.69 611.2,419.99 611.65,419.28 612.1,418.54 612.55,417.76 613,416.93 613.45,416.03 613.9,415.09 614.35,414.12 614.8,413.13 615.25,412.13 615.7,411.15 616.15,410.18 616.6,409.23 617.05,408.3 617.5,407.36 617.95,406.41 618.4,405.45 618.85,404.46 619.3,403.44 619.75,402.37 620.2,401.24 620.65,400 621.1,398.66 621.55,397.27 622,395.87 622.45,394.52 622.9,393.26 623.35,392.09 623.8,390.93 624.25,389.79 624.7,388.69 625.15,387.62 625.6,386.62 626.05,385.69 626.5,384.84 626.95,384.07 627.4,383.25 627.85,382.45 628.3,381.76 628.75,381.25 629.2,381.01 629.65,381.1 630.1,381.44 630.55,381.95 631,382.5 631.45,383.2 631.9,384.13 632.35,385.17 632.8,386.2 633.25,387.09 633.7,387.93 634.15,388.78 634.6,389.6 635.05,390.35 635.5,390.98 635.95,391.46 636.4,391.82 636.85,392.17 637.3,392.5 637.75,392.8 638.2,393.05 638.65,393.26 639.1,393.41 639.55,393.49 640,393.5 640.45,393.5 640.9,393.5 641.35,393.5 641.8,393.5 642.25,393.5 642.7,393.5 643.15,393.5 643.6,393.45 644.05,393.36 644.5,393.24 644.95,393.09 645.4,392.92 645.85,392.76 646.3,392.6 646.75,392.43 647.2,392.21 647.65,391.98 648.1,391.74 648.55,391.5 649,391.3 649.45,391.13 649.9,391.02 650.35,390.95 650.8,390.89 651.25,390.84 651.7,390.8 652.15,390.76 652.6,390.73 653.05,390.71 653.5,390.7 653.95,390.72 654.4,390.79 654.85,390.91 655.3,391.06 655.75,391.25 656.2,391.44 656.65,391.64 657.1,391.84 657.55,392.08 658,392.36 658.45,392.67 658.9,393.01 659.35,393.37 659.8,393.74 660.25,394.11 660.7,394.48 661.15,394.82 661.6,395.14 662.05,395.43 662.5,395.7 662.95,395.95 663.4,396.2 663.85,396.44 664.3,396.67 664.75,396.9 665.2,397.12 665.65,397.34 666.1,397.56 666.55,397.78 667,398 667.45,398.22 667.9,398.45 668.35,398.68 668.8,398.91 669.25,399.13 669.7,399.36 670.15,399.59 670.6,399.81 671.05,400.04 671.5,400.27 671.95,400.49 672.4,400.71 672.85,400.94 673.3,401.16 673.75,401.38 674.2,401.61 674.65,401.83" fill="none" stroke="#ff22ff" stroke-width="1" marker-start="url(#m2)" marker-mid="url(#m2)" marker-end="url(#m2)"/>
<polyline points="388,454.2 388.45,454.2 388.9,454.2 389.35,454.2 389.8,454.2 390.25,454.2 390.7,454.2 391.15,454.2 391.6,454.2 392.05,454.2 392.5,454.2 392.95,454.2 393.4,454.2 393.85,454.2 394.3,454.2 394.75,454.2 395.2,454.2 395.65,454.2 396.1,454.2 396.55,454.2 397,454.2 397.45,454.2 397.9,454.2 398.35,454.2 398.8,454.2 399.25,454.2 399.7,454.2 400.15,454.2 400.6,454.2 401.05,454.19 401.5,454.19 401.95,454.19 402.4,454.19 402.85,454.19 403.3,454.19 403.75,454.19 404.2,454.19 404.65,454.19 405.1,454.19 405.55,454.19 406,454.19 406.45,454.19 406.9,454.19 407.35,454.19 407.8,454.19 408.25,454.19 408.7,454.19 409.15,454.19 409.6,454.19 410.05,454.19 410.5,454.18 410.95,454.18 411.4,454.18 411.85,454.18 412.3,454.18 412.75,454.18 413.2,454.18 413.65,454.18 414.1,454.18 414.55,454.18 415,454.18 415.45,454.18 415.9,454.18 416.35,454.18 416.8,454.18 417.25,454.18 417.7,454.17 418.15,454.17 418.6,454.17 419.05,454.17 419.5,454.17 419.95,454.17 420.4,454.17 420.85,454.17 421.3,454.17 421.75,454.17 422.2,454.17 422.65,454.17 423.1,454.16 423.55,454.16 424,454.16 424.45,454.16 424.9,454.16 425.35,454.16 425.8,454.16 426.25,454.16 426.7,454.16 427.15,454.16 427.6,454.16 428.05,454.15 428.5,454.15 428.95,454.15 429.4,454.15 429.85,454.15 430.3,454.15 430.75,454.15 431.2,454.15 431.65,454.15 432.1,454.15 432.55,454.14 433,454.14 433.45,454.14 433.9,454.14 434.35,454.14 434.8,454.14 435.25,454.14 435.7,454.14 436.15,454.14 436.6,454.14 437.05,454.13 437.5,454.13 437.95,454.13 438.4,454.13 438.85,454.13 439.3,454.13 439.75,454.13 440.2,454.13 440.65,454.13 441.1,454.12 441.55,454.12 442,454.12 442.45,454.12 442.9,454.12 443.35,454.12 443.8,454.12 444.25,454.12 444.7,454.11 445.15,454.11 445.6,454.11 446.05,454.11 446.5,454.11 446.95,454.11 447.4,454.11 447.85,454.11 448.3,454.1 448.75,454.1 449.2,454.1 449.65,454.1 450.1,454.1 450.55,454.1 451,454.1 451.45,454.1 451.9,454.09 452.35,454.09 452.8,454.09 453.25,454.09 453.7,454.09 454.15,454.08 454.6,454.08 455.05,454.08 455.5,454.08 455.95,454.07 456.4,454.07 456.85,454.07 457.3,454.07 457.75,454.06 458.2,454.06 458.65,454.06 459.1,454.06 459.55,454.05 460,454.05 460.45,454.05 460.9,454.04 461.35,454.04 461.8,454.04 462.25,454.03 462.7,454.03 463.15,454.02 463.6,454.02 464.05,454.02 464.5,454.01 464.95,454.01 465.4,454.01 465.85,454 466.3,454 466.75,453.99 467.2,453.99 467.65,453.98 468.1,453.98 468.55,453.98 469,453.97 469.45,453.97 469.9,453.96 470.35,453.96 470.8,453.95 471.25,453.95 471.7,453.94 472.15,453.94 472.6,453.93 473.05,453.93 473.5,453.92 473.95,453.92 474.4,453.91 474.85,453.91 475.3,453.9 475.75,453.9 476.2,453.89 476.65,453.89 477.1,453.88 477.55,453.88 478,453.87 478.45,453.87 478.9,453.86 479.35,453.86 479.8,453.85 480.25,453.85 480.7,453.84 481.15,453.84 481.6,453.83 482.05,453.82 482.5,453.82 482.95,453.81 483.4,453.81 483.85,453.8 484.3,453.8 484.75,453.79 485.2,453.79 485.65,453.78 486.1,453.77 486.55,453.77 487,453.76 487.45,453.76 487.9,453.75 488.35,453.75 488.8,453.74 489.25,453.73 489.7,453.73 490.15,453.72 490.6,453.72 491.05,453.71 491.5,453.71 491.95,453.7 492.4,453.69 492.85,453.69 493.3,453.68 493.75,453.68 494.2,453.67 494.65,453.67 495.1,453.66 495.55,453.65 496,453.65 496.45,453.64 496.9,453.64 497.35,453.63 497.8,453.63 498.25,453.62 498.7,453.62 499.15,453.61 499.6,453.6 500.05,453.6 500.5,453.59 500.95,453.59 501.4,453.58 501.85,453.58 502.3,453.57 502.75,453.57 503.2,453.56 503.65,453.56 504.1,453.55 504.55,453.55 505,453.54 505.45,453.54 505.9,453.53 506.35,453.53 506.8,453.52 507.25,453.52 507.7,453.51 508.15,453.51 508.6,453.5 509.05,453.5 509.5,453.49 509.95,453.49 510.4,453.48 510.85,453.48 511.3,453.47 511.75,453.47 512.2,453.46 512.65,453.46 513.1,453.45 513.55,453.45 514,453.44 514.45,453.44 514.9,453.43 515.35,453.43 515.8,453.42 516.25,453.42 516.7,453.41 517.15,453.41 517.6,453.4 518.05,453.4 518.5,453.39 518.95,453.38 519.4,453.38 519.85,453.37 520.3,453.37 520.75,453.36 521.2,453.36 521.65,453.35 522.1,453.34 522.55,453.34 523,453.33 523.45,453.32 523.9,453.32 524.35,453.31 524.8,453.31 525.25,453.3 525.7,453.29 526.15,453.28 526.6,453.28 527.05,453.27 527.5,453.26 527.95,453.26 528.4,453.25 528.85,453.24 529.3,453.23 529.75,453.22 530.2,453.22 530.65,453.21 531.1,453.2 531.55,453.19 532,453.18 532.45,453.17 532.9,453.16 533.35,453.16 533.8,453.15 534.25,453.14 534.7,453.13 535.15,453.12 535.6,453.11 536.05,453.1 536.5,453.09 536.95,453.08 537.4,453.07 537.85,453.05 538.3,453.04 538.75,453.03 539.2,453.02 539.65,453.01 540.1,453 540.55,452.98 541,452.97 541.45,452.95 541.9,452.94 542.35,452.92 542.8,452.9 543.25,452.88 543.7,452.86 544.15,452.84 544.6,452.81 545.05,452.79 545.5,452.76 545.95,452.74 546.4,452.71 546.85,452.68 547.3,452.65 547.75,452.62 548.2,452.59 548.65,452.56 549.1,452.53 549.55,452.5 550,452.47 550.45,452.44 550.9,452.4 551.35,452.37 551.8,452.34 552.25,452.3 552.7,452.27 553.15,452.24 553.6,452.2 554.05,452.17 554.5,452.14 554.95,452.1 555.4,452.07 555.85,452.04 556.3,452 556.75,451.96 557.2,451.93 557.65,451.89 558.1,451.85 558.55,451.81 559,451.78 559.45,451.74 559.9,451.7 560.35,451.65 560.8,451.61 561.25,451.57 561.7,451.53 562.15,451.48 562.6,451.44 563.05,451.4 563.5,451.35 563.95,451.31 564.4,451.26 564.85,451.22 565.3,451.17 565.75,451.12 566.2,451.08 566.65,451.03 567.1,450.98 567.55,450.93 568,450.89 568.45,450.84 568.9,450.79 569.35,450.74 569.8,450.69 570.25,450.64 570.7,450.59 571.15,450.54 571.6,450.49 572.05,450.44 572.5,450.39 572.95,450.34 573.4,450.29 573.85,450.24 574.3,450.19 574.75,450.14 575.2,450.09 575.65,450.04 576.1,449.99 576.55,449.94 577,449.89 577.45,449.84 577.9,449.79 578.35,449.74 578.8,449.69 579.25,449.64 579.7,449.59 580.15,449.54 580.6,449.49 581.05,449.44 581.5,449.39 581.95,449.33 582.4,449.28 582.85,449.23 583.3,449.18 583.75,449.13 584.2,449.07 584.65,449.02 585.1,448.96 585.55,448.91 586,448.85 586.45,448.8 586.9,448.74 587.35,448.68 587.8,448.62 588.25,448.56 588.7,448.5 589.15,448.44 589.6,448.38 590.05,448.31 590.5,448.25 590.95,448.18 591.4,448.12 591.85,448.05 592.3,447.98 592.75,447.91 593.2,447.84 593.65,447.77 594.1,447.7 594.55,447.63 595,447.55 595.45,447.48 595.9,447.41 596.35,447.33 596.8,447.25 597.25,447.17 597.7,447.09 598.15,447.01 598.6,446.93 599.05,446.84 599.5,446.75 599.95,446.66 600.4,446.57 600.85,446.48 601.3,446.38 601.75,446.29 602.2,446.19 602.65,446.08 603.1,445.98 603.55,445.87 604,445.76 604.45,445.64 604.9,445.53 605.35,445.4 605.8,445.27 606.25,445.14 606.7,444.99 607.15,444.83 607.6,444.67 608.05,444.51 608.5,444.33 608.95,444.15 609.4,443.97 609.85,443.78 610.3,443.59 610.75,443.4 611.2,443.2 611.65,443 612.1,442.8 612.55,442.6 613,442.4 613.45,442.19 613.9,441.99 614.35,441.79 614.8,441.59 615.25,441.39 615.7,441.19 616.15,441 616.6,440.8 617.05,440.6 617.5,440.4 617.95,440.19 618.4,439.97 618.85,439.74 619.3,439.5 619.75,439.25 620.2,438.98 620.65,438.68 621.1,438.37 621.55,438.03 622,437.67 622.45,437.3 622.9,436.93 623.35,436.54 623.8,436.15 624.25,435.76 624.7,435.38 625.15,435 625.6,434.64 626.05,434.27 626.5,433.91 626.95,433.55 627.4,433.19 627.85,432.82 628.3,432.45 628.75,432.08 629.2,431.7 629.65,431.31 630.1,430.91 630.55,430.51 631,430.1 631.45,429.68 631.9,429.26 632.35,428.83 632.8,428.4 633.25,427.96 633.7,427.51 634.15,427.07 634.6,426.62 635.05,426.16 635.5,425.71 635.95,425.24 636.4,424.72 636.85,424.17 637.3,423.62 637.75,423.12 638.2,422.71 638.65,422.41 639.1,422.15 639.55,421.91 640,421.71 640.45,421.57 640.9,421.5 641.35,421.51 641.8,421.56 642.25,421.64 642.7,421.73 643.15,421.83 643.6,421.93 644.05,422.01 644.5,422.09 644.95,422.18 645.4,422.28 645.85,422.37 646.3,422.47 646.75,422.56 647.2,422.64 647.65,422.71 648.1,422.76 648.55,422.79 649,422.8 649.45,422.8 649.9,422.8 650.35,422.8 650.8,422.8 651.25,422.8 651.7,422.8 652.15,422.8 652.6,422.8 653.05,422.8 653.5,422.8 653.95,422.8 654.4,422.8 654.85,422.8 655.3,422.8 655.75,422.8 656.2,422.8 656.65,422.8 657.1,422.8 657.55,422.8 658,422.8 658.45,422.8 658.9,422.8 659.35,422.8 659.8,422.8 660.25,422.8 660.7,422.8 661.15,422.8 661.6,422.8 662.05,422.79 662.5,422.79 662.95,422.79 663.4,422.79 663.85,422.78 664.3,422.78 664.75,422.77 665.2,422.77 665.65,422.76 666.1,422.76 666.55,422.75 667,422.75 667.45,422.74 667.9,422.73 668.35,422.73 668.8,422.72 669.25,422.71 669.7,422.7 670.15,422.7 670.6,422.69 671.05,422.68 671.5,422.67 671.95,422.66 672.4,422.65 672.85,422.64 673.3,422.64 673.75,422.63 674.2,422.62 674.65,422.61" fill="none" stroke="#7a35c0" stroke-width="1" marker-start="url(#m3)" marker-mid="url(#m3)" marker-end="url(#m3)"/>
<rect x="387" y="245.8" width="288.5" height="214.3" fill="none" stroke="#111" stroke-width="1.5"/>
<path d="M432.1,460.1V456.1M492.84,460.1V456.1M553.57,460.1V456.1M614.31,460.1V456.1M401.73,460.1V458.1M462.47,460.1V458.1M523.2,460.1V458.1M583.94,460.1V458.1M644.68,460.1V458.1M387,453.9H390.6M387,426.55H389M387,399.2H390.6M387,371.85H389M387,344.5H390.6M387,317.15H389M387,289.8H390.6M387,262.45H389" stroke="#111" stroke-width="1.2" fill="none"/>
<text x="432.1" y="474" font-size="11.5" text-anchor="middle" >433</text>
<text x="492.84" y="474" font-size="11.5" text-anchor="middle" >513</text>
<text x="553.57" y="474" font-size="11.5" text-anchor="middle" >593</text>
<text x="614.31" y="474" font-size="11.5" text-anchor="middle" >673</text>
<text x="675.04" y="474" font-size="11.5" text-anchor="middle" >753</text>
<text x="382.3" y="457.9" font-size="11.5" text-anchor="end" >0.0</text>
<text x="382.3" y="403.2" font-size="11.5" text-anchor="end" >0.5</text>
<text x="382.3" y="348.5" font-size="11.5" text-anchor="end" >1.0</text>
<text x="382.3" y="293.8" font-size="11.5" text-anchor="end" >1.5</text>
<text x="537" y="491.5" font-size="15.3" text-anchor="middle" >Temperature (K)</text>
<text transform="translate(365.5,360.2) rotate(-90)" font-size="15.3" text-anchor="middle">tanδ</text>
<path d="M391.3,260.3H427.5" stroke="#ff1111" stroke-width="1.1" />
<circle cx="409.4" cy="260.3" r="1.3" fill="#ff1111"/>
<text x="432.4" y="265.8" font-size="16.2" text-anchor="start" >TC</text>
<path d="M391.3,324.7H427.5" stroke="#1a1aff" stroke-width="1.1" />
<path d="M407.7,323.4H411.1L409.4,326.2Z" fill="#1a1aff"/>
<text x="432.4" y="330.2" font-size="16.2" text-anchor="start" >Vit1</text>
<path d="M391.3,282H427.5" stroke="#ff22ff" stroke-width="1.1" />
<circle cx="409.4" cy="282" r="1.3" fill="#ff22ff"/>
<text x="432.4" y="287.5" font-size="16.2" text-anchor="start" >TCN</text>
<path d="M391.3,303.3H427.5" stroke="#7a35c0" stroke-width="1.1" />
<circle cx="409.4" cy="303.3" r="1.3" fill="#7a35c0"/>
<text x="432.4" y="308.8" font-size="16.2" text-anchor="start" >TN</text>
<path d="M356.9,240.9 C350.2,245.25 350.2,252.65 356.9,257" fill="none" stroke="#111" stroke-width="1.3"/>
<path d="M375.35,240.9 C382.05,245.25 382.05,252.65 375.35,257" fill="none" stroke="#111" stroke-width="1.3"/>
<text transform="translate(366,257) scale(0.9,1.07)" font-size="19.5" text-anchor="middle">d</text>
</svg></body></html>
